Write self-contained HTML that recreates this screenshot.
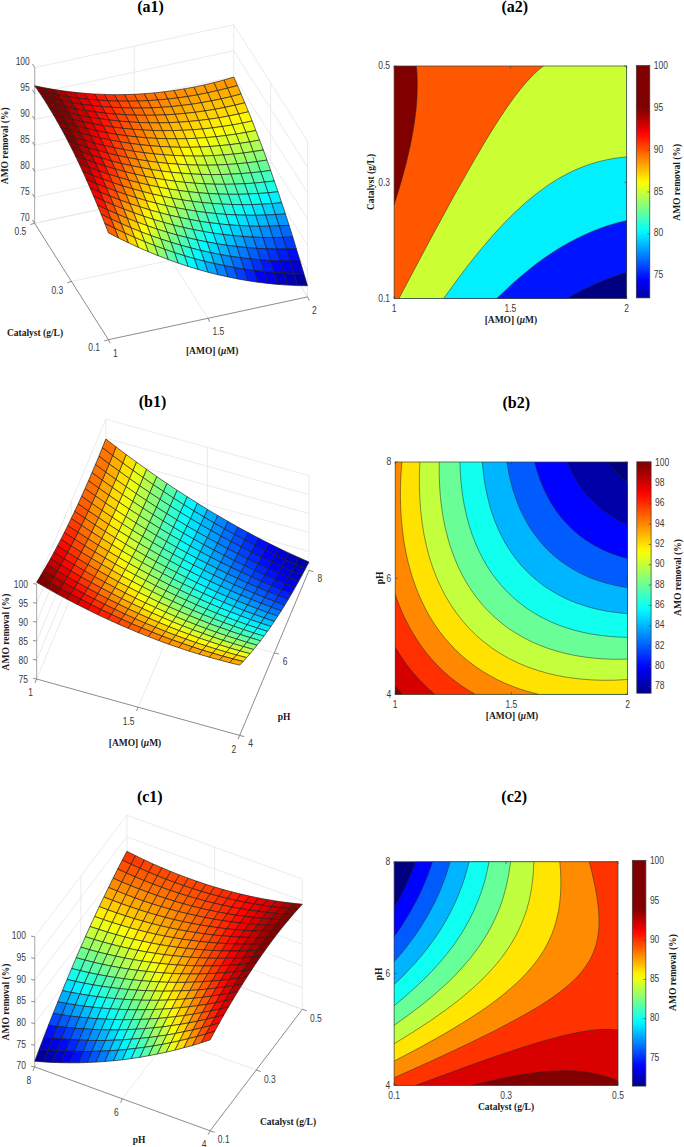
<!DOCTYPE html>
<html><head><meta charset="utf-8"><style>
html,body{margin:0;padding:0;background:#fff;}
svg{display:block;}
.s{font-family:"Liberation Sans",sans-serif;fill:#3a3a3a}
.b{font-family:"Liberation Serif",serif;font-weight:bold;fill:#1a1a1a}
.t{font-family:"Liberation Serif",serif;font-weight:bold;fill:#000}
.e polygon{stroke:#1a1a1a;stroke-width:0.65;stroke-linejoin:round}
</style></head><body>
<svg width="684" height="1147" viewBox="0 0 684 1147">
<rect width="684" height="1147" fill="#fff"/>
<line x1="34.60" y1="223.30" x2="233.70" y2="180.50" stroke="#e3e3e3" stroke-width="0.7"/>
<line x1="233.70" y1="180.50" x2="307.50" y2="296.90" stroke="#e3e3e3" stroke-width="0.7"/>
<line x1="34.62" y1="197.35" x2="233.72" y2="154.55" stroke="#e3e3e3" stroke-width="0.7"/>
<line x1="233.72" y1="154.55" x2="307.52" y2="270.95" stroke="#e3e3e3" stroke-width="0.7"/>
<line x1="34.63" y1="171.40" x2="233.73" y2="128.60" stroke="#e3e3e3" stroke-width="0.7"/>
<line x1="233.73" y1="128.60" x2="307.53" y2="245.00" stroke="#e3e3e3" stroke-width="0.7"/>
<line x1="34.65" y1="145.45" x2="233.75" y2="102.65" stroke="#e3e3e3" stroke-width="0.7"/>
<line x1="233.75" y1="102.65" x2="307.55" y2="219.05" stroke="#e3e3e3" stroke-width="0.7"/>
<line x1="34.67" y1="119.50" x2="233.77" y2="76.70" stroke="#e3e3e3" stroke-width="0.7"/>
<line x1="233.77" y1="76.70" x2="307.57" y2="193.10" stroke="#e3e3e3" stroke-width="0.7"/>
<line x1="34.68" y1="93.55" x2="233.78" y2="50.75" stroke="#e3e3e3" stroke-width="0.7"/>
<line x1="233.78" y1="50.75" x2="307.58" y2="167.15" stroke="#e3e3e3" stroke-width="0.7"/>
<line x1="34.70" y1="67.60" x2="233.80" y2="24.80" stroke="#e3e3e3" stroke-width="0.7"/>
<line x1="233.80" y1="24.80" x2="307.60" y2="141.20" stroke="#e3e3e3" stroke-width="0.7"/>
<line x1="134.15" y1="201.90" x2="134.25" y2="46.20" stroke="#e3e3e3" stroke-width="0.7"/>
<line x1="270.60" y1="238.70" x2="270.70" y2="83.00" stroke="#e3e3e3" stroke-width="0.7"/>
<line x1="233.70" y1="180.50" x2="233.80" y2="24.80" stroke="#e3e3e3" stroke-width="0.7"/>
<line x1="307.50" y1="296.90" x2="307.60" y2="141.20" stroke="#e3e3e3" stroke-width="0.7"/>
<line x1="71.50" y1="281.50" x2="270.60" y2="238.70" stroke="#e3e3e3" stroke-width="0.7"/>
<line x1="207.95" y1="318.30" x2="134.15" y2="201.90" stroke="#e3e3e3" stroke-width="0.7"/>
<line x1="307.50" y1="296.90" x2="233.70" y2="180.50" stroke="#e3e3e3" stroke-width="0.7"/>
<line x1="34.60" y1="223.30" x2="233.70" y2="180.50" stroke="#e3e3e3" stroke-width="0.7"/>
<line x1="34.60" y1="223.30" x2="34.70" y2="67.60" stroke="#b0b0b0" stroke-width="1.1"/>
<line x1="108.40" y1="339.70" x2="34.60" y2="223.30" stroke="#6e6e6e" stroke-width="0.8"/>
<line x1="108.40" y1="339.70" x2="307.50" y2="296.90" stroke="#6e6e6e" stroke-width="0.8"/>
<g class="e">
<polygon points="227.5,88.2 237.5,85.5 233.8,77.1 223.8,80.0" fill="#ff9800"/>
<polygon points="217.5,90.6 227.5,88.2 223.8,80.0 213.9,82.6" fill="#ff9b00"/>
<polygon points="207.6,92.8 217.5,90.6 213.9,82.6 203.9,85.0" fill="#ff9b00"/>
<polygon points="231.2,96.6 241.1,94.0 237.5,85.5 227.5,88.2" fill="#ffad00"/>
<polygon points="197.6,94.8 207.6,92.8 203.9,85.0 193.9,87.1" fill="#ff9a00"/>
<polygon points="221.2,98.9 231.2,96.6 227.5,88.2 217.5,90.6" fill="#ffaf00"/>
<polygon points="211.3,100.9 221.2,98.9 217.5,90.6 207.6,92.8" fill="#ffae00"/>
<polygon points="234.9,105.2 244.8,102.8 241.1,94.0 231.2,96.6" fill="#ffc400"/>
<polygon points="187.7,96.5 197.6,94.8 193.9,87.1 184.0,88.9" fill="#ff9600"/>
<polygon points="224.9,107.4 234.9,105.2 231.2,96.6 221.2,98.9" fill="#ffc400"/>
<polygon points="201.3,102.7 211.3,100.9 207.6,92.8 197.6,94.8" fill="#ffab00"/>
<polygon points="177.7,97.9 187.7,96.5 184.0,88.9 174.0,90.5" fill="#ff9000"/>
<polygon points="238.6,114.0 248.5,111.8 244.8,102.8 234.9,105.2" fill="#ffdd00"/>
<polygon points="215.0,109.3 224.9,107.4 221.2,98.9 211.3,100.9" fill="#ffc200"/>
<polygon points="191.4,104.3 201.3,102.7 197.6,94.8 187.7,96.5" fill="#ffa600"/>
<polygon points="167.8,99.1 177.7,97.9 174.0,90.5 164.1,91.8" fill="#ff8800"/>
<polygon points="228.6,116.0 238.6,114.0 234.9,105.2 224.9,107.4" fill="#ffdc00"/>
<polygon points="205.0,110.9 215.0,109.3 211.3,100.9 201.3,102.7" fill="#ffbe00"/>
<polygon points="181.4,105.5 191.4,104.3 187.7,96.5 177.7,97.9" fill="#ff9f00"/>
<polygon points="242.3,123.1 252.2,121.0 248.5,111.8 238.6,114.0" fill="#fff800"/>
<polygon points="157.8,100.0 167.8,99.1 164.1,91.8 154.1,92.9" fill="#ff7e00"/>
<polygon points="218.7,117.8 228.6,116.0 224.9,107.4 215.0,109.3" fill="#ffd900"/>
<polygon points="195.1,112.3 205.0,110.9 201.3,102.7 191.4,104.3" fill="#ffb800"/>
<polygon points="232.3,125.0 242.3,123.1 238.6,114.0 228.6,116.0" fill="#fff500"/>
<polygon points="171.5,106.6 181.4,105.5 177.7,97.9 167.8,99.1" fill="#ff9600"/>
<polygon points="208.7,119.3 218.7,117.8 215.0,109.3 205.0,110.9" fill="#ffd300"/>
<polygon points="147.9,100.7 157.8,100.0 154.1,92.9 144.2,93.7" fill="#ff7200"/>
<polygon points="245.9,132.4 255.9,130.5 252.2,121.0 242.3,123.1" fill="#eaff15"/>
<polygon points="185.1,113.4 195.1,112.3 191.4,104.3 181.4,105.5" fill="#ffb000"/>
<polygon points="222.3,126.5 232.3,125.0 228.6,116.0 218.7,117.8" fill="#fff100"/>
<polygon points="161.5,107.3 171.5,106.6 167.8,99.1 157.8,100.0" fill="#ff8b00"/>
<polygon points="198.7,120.5 208.7,119.3 205.0,110.9 195.1,112.3" fill="#ffcc00"/>
<polygon points="236.0,134.1 245.9,132.4 242.3,123.1 232.3,125.0" fill="#eeff11"/>
<polygon points="137.9,101.1 147.9,100.7 144.2,93.7 134.2,94.3" fill="#ff6400"/>
<polygon points="175.1,114.3 185.1,113.4 181.4,105.5 171.5,106.6" fill="#ffa500"/>
<polygon points="249.6,141.9 259.6,140.1 255.9,130.5 245.9,132.4" fill="#ccff33"/>
<polygon points="212.4,127.9 222.3,126.5 218.7,117.8 208.7,119.3" fill="#ffea00"/>
<polygon points="151.6,107.9 161.5,107.3 157.8,100.0 147.9,100.7" fill="#ff7d00"/>
<polygon points="226.0,135.5 236.0,134.1 232.3,125.0 222.3,126.5" fill="#f4ff0b"/>
<polygon points="188.8,121.5 198.7,120.5 195.1,112.3 185.1,113.4" fill="#ffc200"/>
<polygon points="239.7,143.4 249.6,141.9 245.9,132.4 236.0,134.1" fill="#d1ff2e"/>
<polygon points="128.0,101.2 137.9,101.1 134.2,94.3 124.3,94.6" fill="#ff5400"/>
<polygon points="202.4,129.0 212.4,127.9 208.7,119.3 198.7,120.5" fill="#ffe100"/>
<polygon points="165.2,114.9 175.1,114.3 171.5,106.6 161.5,107.3" fill="#ff9900"/>
<polygon points="253.3,151.6 263.3,150.0 259.6,140.1 249.6,141.9" fill="#acff53"/>
<polygon points="216.1,136.7 226.0,135.5 222.3,126.5 212.4,127.9" fill="#fbff04"/>
<polygon points="178.8,122.2 188.8,121.5 185.1,113.4 175.1,114.3" fill="#ffb600"/>
<polygon points="141.6,108.1 151.6,107.9 147.9,100.7 137.9,101.1" fill="#ff6e00"/>
<polygon points="229.7,144.7 239.7,143.4 236.0,134.1 226.0,135.5" fill="#d8ff27"/>
<polygon points="192.5,129.8 202.4,129.0 198.7,120.5 188.8,121.5" fill="#ffd600"/>
<polygon points="243.4,153.0 253.3,151.6 249.6,141.9 239.7,143.4" fill="#b2ff4d"/>
<polygon points="155.2,115.2 165.2,114.9 161.5,107.3 151.6,107.9" fill="#ff8a00"/>
<polygon points="118.0,101.1 128.0,101.2 124.3,94.6 114.3,94.7" fill="#ff4100"/>
<polygon points="257.0,161.6 267.0,160.1 263.3,150.0 253.3,151.6" fill="#8aff75"/>
<polygon points="206.1,137.6 216.1,136.7 212.4,127.9 202.4,129.0" fill="#fff900"/>
<polygon points="168.9,122.7 178.8,122.2 175.1,114.3 165.2,114.9" fill="#ffa900"/>
<polygon points="131.6,108.1 141.6,108.1 137.9,101.1 128.0,101.2" fill="#ff5c00"/>
<polygon points="219.8,145.7 229.7,144.7 226.0,135.5 216.1,136.7" fill="#e1ff1e"/>
<polygon points="233.4,154.1 243.4,153.0 239.7,143.4 229.7,144.7" fill="#baff45"/>
<polygon points="182.5,130.3 192.5,129.8 188.8,121.5 178.8,122.2" fill="#ffc900"/>
<polygon points="247.0,162.8 257.0,161.6 253.3,151.6 243.4,153.0" fill="#92ff6d"/>
<polygon points="145.3,115.3 155.2,115.2 151.6,107.9 141.6,108.1" fill="#ff7900"/>
<polygon points="108.0,100.8 118.0,101.1 114.3,94.7 104.4,94.4" fill="#ff2d00"/>
<polygon points="260.7,171.8 270.6,170.4 267.0,160.1 257.0,161.6" fill="#66ff99"/>
<polygon points="196.2,138.3 206.1,137.6 202.4,129.0 192.5,129.8" fill="#ffec00"/>
<polygon points="158.9,122.9 168.9,122.7 165.2,114.9 155.2,115.2" fill="#ff9900"/>
<polygon points="209.8,146.5 219.8,145.7 216.1,136.7 206.1,137.6" fill="#ecff13"/>
<polygon points="121.7,107.8 131.6,108.1 128.0,101.2 118.0,101.1" fill="#ff4900"/>
<polygon points="223.5,155.0 233.4,154.1 229.7,144.7 219.8,145.7" fill="#c5ff3a"/>
<polygon points="172.6,130.6 182.5,130.3 178.8,122.2 168.9,122.7" fill="#ffba00"/>
<polygon points="237.1,163.8 247.0,162.8 243.4,153.0 233.4,154.1" fill="#9bff64"/>
<polygon points="250.7,172.8 260.7,171.8 257.0,161.6 247.0,162.8" fill="#6fff90"/>
<polygon points="264.4,182.1 274.3,181.0 270.6,170.4 260.7,171.8" fill="#41ffbe"/>
<polygon points="135.3,115.2 145.3,115.3 141.6,108.1 131.6,108.1" fill="#ff6700"/>
<polygon points="186.2,138.7 196.2,138.3 192.5,129.8 182.5,130.3" fill="#ffde00"/>
<polygon points="98.1,100.2 108.0,100.8 104.4,94.4 94.4,94.0" fill="#ff1600"/>
<polygon points="199.9,147.0 209.8,146.5 206.1,137.6 196.2,138.3" fill="#faff05"/>
<polygon points="149.0,122.8 158.9,122.9 155.2,115.2 145.3,115.3" fill="#ff8700"/>
<polygon points="213.5,155.6 223.5,155.0 219.8,145.7 209.8,146.5" fill="#d1ff2e"/>
<polygon points="227.1,164.5 237.1,163.8 233.4,154.1 223.5,155.0" fill="#a7ff58"/>
<polygon points="111.7,107.3 121.7,107.8 118.0,101.1 108.0,100.8" fill="#ff3300"/>
<polygon points="162.6,130.7 172.6,130.6 168.9,122.7 158.9,122.9" fill="#ffa900"/>
<polygon points="240.8,173.6 250.7,172.8 247.0,162.8 237.1,163.8" fill="#7aff85"/>
<polygon points="268.1,192.8 278.0,191.7 274.3,181.0 264.4,182.1" fill="#1affe5"/>
<polygon points="254.4,183.1 264.4,182.1 260.7,171.8 250.7,172.8" fill="#4bffb4"/>
<polygon points="176.3,138.8 186.2,138.7 182.5,130.3 172.6,130.6" fill="#ffce00"/>
<polygon points="125.4,114.8 135.3,115.2 131.6,108.1 121.7,107.8" fill="#ff5200"/>
<polygon points="189.9,147.3 199.9,147.0 196.2,138.3 186.2,138.7" fill="#fff500"/>
<polygon points="88.1,99.3 98.1,100.2 94.4,94.0 84.5,93.3" fill="#fd0000"/>
<polygon points="203.5,156.0 213.5,155.6 209.8,146.5 199.9,147.0" fill="#e0ff1f"/>
<polygon points="139.0,122.5 149.0,122.8 145.3,115.3 135.3,115.2" fill="#ff7300"/>
<polygon points="217.2,165.0 227.1,164.5 223.5,155.0 213.5,155.6" fill="#b5ff4a"/>
<polygon points="271.8,203.6 281.7,202.7 278.0,191.7 268.1,192.8" fill="#00f0ff"/>
<polygon points="230.8,174.2 240.8,173.6 237.1,163.8 227.1,164.5" fill="#87ff78"/>
<polygon points="258.1,193.5 268.1,192.8 264.4,182.1 254.4,183.1" fill="#25ffda"/>
<polygon points="244.5,183.7 254.4,183.1 250.7,172.8 240.8,173.6" fill="#57ffa8"/>
<polygon points="152.7,130.5 162.6,130.7 158.9,122.9 149.0,122.8" fill="#ff9600"/>
<polygon points="101.8,106.6 111.7,107.3 108.0,100.8 98.1,100.2" fill="#ff1b00"/>
<polygon points="166.3,138.7 176.3,138.8 172.6,130.6 162.6,130.7" fill="#ffbc00"/>
<polygon points="115.4,114.1 125.4,114.8 121.7,107.8 111.7,107.3" fill="#ff3b00"/>
<polygon points="179.9,147.3 189.9,147.3 186.2,138.7 176.3,138.8" fill="#ffe300"/>
<polygon points="275.4,214.6 285.4,213.9 281.7,202.7 271.8,203.6" fill="#00c5ff"/>
<polygon points="193.6,156.1 203.5,156.0 199.9,147.0 189.9,147.3" fill="#f1ff0e"/>
<polygon points="261.8,204.2 271.8,203.6 268.1,192.8 258.1,193.5" fill="#00fcff"/>
<polygon points="207.2,165.2 217.2,165.0 213.5,155.6 203.5,156.0" fill="#c4ff3b"/>
<polygon points="129.1,121.9 139.0,122.5 135.3,115.2 125.4,114.8" fill="#ff5d00"/>
<polygon points="248.2,194.0 258.1,193.5 254.4,183.1 244.5,183.7" fill="#32ffcd"/>
<polygon points="78.2,98.2 88.1,99.3 84.5,93.3 74.5,92.3" fill="#e20000"/>
<polygon points="220.9,174.5 230.8,174.2 227.1,164.5 217.2,165.0" fill="#96ff69"/>
<polygon points="234.5,184.1 244.5,183.7 240.8,173.6 230.8,174.2" fill="#65ff9a"/>
<polygon points="142.7,130.0 152.7,130.5 149.0,122.8 139.0,122.5" fill="#ff8100"/>
<polygon points="91.8,105.5 101.8,106.6 98.1,100.2 88.1,99.3" fill="#ff0100"/>
<polygon points="279.1,225.9 289.1,225.4 285.4,213.9 275.4,214.6" fill="#0098ff"/>
<polygon points="156.4,138.4 166.3,138.7 162.6,130.7 152.7,130.5" fill="#ffa700"/>
<polygon points="265.5,215.1 275.4,214.6 271.8,203.6 261.8,204.2" fill="#00d3ff"/>
<polygon points="170.0,147.0 179.9,147.3 176.3,138.8 166.3,138.7" fill="#ffd000"/>
<polygon points="105.5,113.2 115.4,114.1 111.7,107.3 101.8,106.6" fill="#ff2200"/>
<polygon points="251.8,204.6 261.8,204.2 258.1,193.5 248.2,194.0" fill="#0cfff3"/>
<polygon points="183.6,155.9 193.6,156.1 189.9,147.3 179.9,147.3" fill="#fffb00"/>
<polygon points="238.2,194.3 248.2,194.0 244.5,183.7 234.5,184.1" fill="#42ffbd"/>
<polygon points="197.3,165.1 207.2,165.2 203.5,156.0 193.6,156.1" fill="#d6ff29"/>
<polygon points="224.6,184.3 234.5,184.1 230.8,174.2 220.9,174.5" fill="#76ff89"/>
<polygon points="210.9,174.6 220.9,174.5 217.2,165.0 207.2,165.2" fill="#a7ff58"/>
<polygon points="282.8,237.4 292.8,237.0 289.1,225.4 279.1,225.9" fill="#006aff"/>
<polygon points="119.1,121.1 129.1,121.9 125.4,114.8 115.4,114.1" fill="#ff4400"/>
<polygon points="68.2,96.8 78.2,98.2 74.5,92.3 64.5,91.1" fill="#c50000"/>
<polygon points="269.2,226.2 279.1,225.9 275.4,214.6 265.5,215.1" fill="#00a7ff"/>
<polygon points="132.8,129.3 142.7,130.0 139.0,122.5 129.1,121.9" fill="#ff6900"/>
<polygon points="255.5,215.3 265.5,215.1 261.8,204.2 251.8,204.6" fill="#00e3ff"/>
<polygon points="146.4,137.8 156.4,138.4 152.7,130.5 142.7,130.0" fill="#ff9100"/>
<polygon points="81.9,104.3 91.8,105.5 88.1,99.3 78.2,98.2" fill="#e40000"/>
<polygon points="286.5,249.1 296.4,248.9 292.8,237.0 282.8,237.4" fill="#003aff"/>
<polygon points="241.9,204.7 251.8,204.6 248.2,194.0 238.2,194.3" fill="#1dffe2"/>
<polygon points="160.0,146.5 170.0,147.0 166.3,138.7 156.4,138.4" fill="#ffba00"/>
<polygon points="228.2,194.3 238.2,194.3 234.5,184.1 224.6,184.3" fill="#53ffac"/>
<polygon points="173.7,155.5 183.6,155.9 179.9,147.3 170.0,147.0" fill="#ffe600"/>
<polygon points="214.6,184.2 224.6,184.3 220.9,174.5 210.9,174.6" fill="#88ff77"/>
<polygon points="187.3,164.8 197.3,165.1 193.6,156.1 183.6,155.9" fill="#eaff15"/>
<polygon points="95.5,112.0 105.5,113.2 101.8,106.6 91.8,105.5" fill="#ff0700"/>
<polygon points="201.0,174.4 210.9,174.6 207.2,165.2 197.3,165.1" fill="#baff45"/>
<polygon points="272.9,237.6 282.8,237.4 279.1,225.9 269.2,226.2" fill="#007aff"/>
<polygon points="290.2,261.1 300.1,261.0 296.4,248.9 286.5,249.1" fill="#0007ff"/>
<polygon points="109.2,120.0 119.1,121.1 115.4,114.1 105.5,113.2" fill="#ff2a00"/>
<polygon points="259.2,226.3 269.2,226.2 265.5,215.1 255.5,215.3" fill="#00b8ff"/>
<polygon points="58.3,95.1 68.2,96.8 64.5,91.1 54.6,89.6" fill="#a60000"/>
<polygon points="122.8,128.3 132.8,129.3 129.1,121.9 119.1,121.1" fill="#ff5000"/>
<polygon points="245.6,215.2 255.5,215.3 251.8,204.6 241.9,204.7" fill="#00f5ff"/>
<polygon points="276.5,249.1 286.5,249.1 282.8,237.4 272.9,237.6" fill="#004bff"/>
<polygon points="136.4,136.9 146.4,137.8 142.7,130.0 132.8,129.3" fill="#ff7800"/>
<polygon points="231.9,204.5 241.9,204.7 238.2,194.3 228.2,194.3" fill="#2fffd0"/>
<polygon points="293.9,273.2 303.8,273.3 300.1,261.0 290.2,261.1" fill="#0000d3"/>
<polygon points="71.9,102.7 81.9,104.3 78.2,98.2 68.2,96.8" fill="#c60000"/>
<polygon points="150.1,145.7 160.0,146.5 156.4,138.4 146.4,137.8" fill="#ffa200"/>
<polygon points="218.3,194.0 228.2,194.3 224.6,184.3 214.6,184.2" fill="#67ff98"/>
<polygon points="163.7,154.8 173.7,155.5 170.0,147.0 160.0,146.5" fill="#ffcf00"/>
<polygon points="204.7,183.8 214.6,184.2 210.9,174.6 201.0,174.4" fill="#9cff63"/>
<polygon points="262.9,237.5 272.9,237.6 269.2,226.2 259.2,226.3" fill="#008cff"/>
<polygon points="177.4,164.2 187.3,164.8 183.6,155.9 173.7,155.5" fill="#fffd00"/>
<polygon points="191.0,173.9 201.0,174.4 197.3,165.1 187.3,164.8" fill="#d0ff2f"/>
<polygon points="85.6,110.6 95.5,112.0 91.8,105.5 81.9,104.3" fill="#e80000"/>
<polygon points="280.2,260.9 290.2,261.1 286.5,249.1 276.5,249.1" fill="#001aff"/>
<polygon points="297.6,285.6 307.5,285.8 303.8,273.3 293.9,273.2" fill="#00009d"/>
<polygon points="249.3,226.1 259.2,226.3 255.5,215.3 245.6,215.2" fill="#00ccff"/>
<polygon points="99.2,118.7 109.2,120.0 105.5,113.2 95.5,112.0" fill="#ff0e00"/>
<polygon points="235.6,214.9 245.6,215.2 241.9,204.7 231.9,204.5" fill="#0afff5"/>
<polygon points="266.6,248.9 276.5,249.1 272.9,237.6 262.9,237.5" fill="#005fff"/>
<polygon points="112.9,127.1 122.8,128.3 119.1,121.1 109.2,120.0" fill="#ff3400"/>
<polygon points="283.9,272.9 293.9,273.2 290.2,261.1 280.2,260.9" fill="#0000e7"/>
<polygon points="48.3,93.2 58.3,95.1 54.6,89.6 44.6,87.8" fill="#850000"/>
<polygon points="222.0,204.1 231.9,204.5 228.2,194.3 218.3,194.0" fill="#44ffbb"/>
<polygon points="126.5,135.8 136.4,136.9 132.8,129.3 122.8,128.3" fill="#ff5d00"/>
<polygon points="208.3,193.5 218.3,194.0 214.6,184.2 204.7,183.8" fill="#7dff82"/>
<polygon points="140.1,144.7 150.1,145.7 146.4,137.8 136.4,136.9" fill="#ff8800"/>
<polygon points="252.9,237.1 262.9,237.5 259.2,226.3 249.3,226.1" fill="#00a1ff"/>
<polygon points="194.7,183.2 204.7,183.8 201.0,174.4 191.0,173.9" fill="#b3ff4c"/>
<polygon points="153.8,153.9 163.7,154.8 160.0,146.5 150.1,145.7" fill="#ffb600"/>
<polygon points="181.1,173.2 191.0,173.9 187.3,164.8 177.4,164.2" fill="#e7ff18"/>
<polygon points="167.4,163.4 177.4,164.2 173.7,155.5 163.7,154.8" fill="#ffe500"/>
<polygon points="62.0,100.9 71.9,102.7 68.2,96.8 58.3,95.1" fill="#a60000"/>
<polygon points="270.3,260.5 280.2,260.9 276.5,249.1 266.6,248.9" fill="#002fff"/>
<polygon points="287.6,285.1 297.6,285.6 293.9,273.2 283.9,272.9" fill="#0000b2"/>
<polygon points="239.3,225.6 249.3,226.1 245.6,215.2 235.6,214.9" fill="#00e1ff"/>
<polygon points="75.6,108.9 85.6,110.6 81.9,104.3 71.9,102.7" fill="#c90000"/>
<polygon points="225.7,214.4 235.6,214.9 231.9,204.5 222.0,204.1" fill="#20ffdf"/>
<polygon points="256.6,248.3 266.6,248.9 262.9,237.5 252.9,237.1" fill="#0074ff"/>
<polygon points="89.3,117.1 99.2,118.7 95.5,112.0 85.6,110.6" fill="#ee0000"/>
<polygon points="274.0,272.3 283.9,272.9 280.2,260.9 270.3,260.5" fill="#0000fd"/>
<polygon points="212.0,203.4 222.0,204.1 218.3,194.0 208.3,193.5" fill="#5bffa4"/>
<polygon points="102.9,125.6 112.9,127.1 109.2,120.0 99.2,118.7" fill="#ff1700"/>
<polygon points="198.4,192.7 208.3,193.5 204.7,183.8 194.7,183.2" fill="#95ff6a"/>
<polygon points="116.5,134.4 126.5,135.8 122.8,128.3 112.9,127.1" fill="#ff4000"/>
<polygon points="243.0,236.5 252.9,237.1 249.3,226.1 239.3,225.6" fill="#00b8ff"/>
<polygon points="38.4,91.1 48.3,93.2 44.6,87.8 34.7,85.8" fill="#800000"/>
<polygon points="184.7,182.3 194.7,183.2 191.0,173.9 181.1,173.2" fill="#ccff33"/>
<polygon points="130.2,143.4 140.1,144.7 136.4,136.9 126.5,135.8" fill="#ff6c00"/>
<polygon points="171.1,172.2 181.1,173.2 177.4,164.2 167.4,163.4" fill="#fffd00"/>
<polygon points="143.8,152.7 153.8,153.9 150.1,145.7 140.1,144.7" fill="#ff9a00"/>
<polygon points="157.5,162.3 167.4,163.4 163.7,154.8 153.8,153.9" fill="#ffcb00"/>
<polygon points="260.3,259.8 270.3,260.5 266.6,248.9 256.6,248.3" fill="#0046ff"/>
<polygon points="277.6,284.4 287.6,285.1 283.9,272.9 274.0,272.3" fill="#0000ca"/>
<polygon points="229.4,224.9 239.3,225.6 235.6,214.9 225.7,214.4" fill="#00f8ff"/>
<polygon points="52.0,98.9 62.0,100.9 58.3,95.1 48.3,93.2" fill="#840000"/>
<polygon points="215.7,213.5 225.7,214.4 222.0,204.1 212.0,203.4" fill="#38ffc7"/>
<polygon points="65.7,106.9 75.6,108.9 71.9,102.7 62.0,100.9" fill="#a70000"/>
<polygon points="246.7,247.6 256.6,248.3 252.9,237.1 243.0,236.5" fill="#008cff"/>
<polygon points="264.0,271.5 274.0,272.3 270.3,260.5 260.3,259.8" fill="#0016ff"/>
<polygon points="202.1,202.5 212.0,203.4 208.3,193.5 198.4,192.7" fill="#74ff8b"/>
<polygon points="79.3,115.3 89.3,117.1 85.6,110.6 75.6,108.9" fill="#cd0000"/>
<polygon points="188.4,191.7 198.4,192.7 194.7,183.2 184.7,182.3" fill="#afff50"/>
<polygon points="92.9,123.9 102.9,125.6 99.2,118.7 89.3,117.1" fill="#f60000"/>
<polygon points="233.0,235.6 243.0,236.5 239.3,225.6 229.4,224.9" fill="#00d0ff"/>
<polygon points="174.8,181.2 184.7,182.3 181.1,173.2 171.1,172.2" fill="#e7ff18"/>
<polygon points="106.6,132.7 116.5,134.4 112.9,127.1 102.9,125.6" fill="#ff2100"/>
<polygon points="161.2,171.0 171.1,172.2 167.4,163.4 157.5,162.3" fill="#ffe200"/>
<polygon points="120.2,141.9 130.2,143.4 126.5,135.8 116.5,134.4" fill="#ff4e00"/>
<polygon points="250.4,258.9 260.3,259.8 256.6,248.3 246.7,247.6" fill="#005fff"/>
<polygon points="147.5,161.0 157.5,162.3 153.8,153.9 143.8,152.7" fill="#ffae00"/>
<polygon points="133.9,151.3 143.8,152.7 140.1,144.7 130.2,143.4" fill="#ff7d00"/>
<polygon points="267.7,283.4 277.6,284.4 274.0,272.3 264.0,271.5" fill="#0000e3"/>
<polygon points="219.4,223.9 229.4,224.9 225.7,214.4 215.7,213.5" fill="#13ffec"/>
<polygon points="42.1,96.6 52.0,98.9 48.3,93.2 38.4,91.1" fill="#800000"/>
<polygon points="205.8,212.5 215.7,213.5 212.0,203.4 202.1,202.5" fill="#52ffad"/>
<polygon points="236.7,246.5 246.7,247.6 243.0,236.5 233.0,235.6" fill="#00a6ff"/>
<polygon points="254.1,270.4 264.0,271.5 260.3,259.8 250.4,258.9" fill="#0030ff"/>
<polygon points="55.7,104.7 65.7,106.9 62.0,100.9 52.0,98.9" fill="#840000"/>
<polygon points="192.1,201.3 202.1,202.5 198.4,192.7 188.4,191.7" fill="#90ff6f"/>
<polygon points="69.4,113.2 79.3,115.3 75.6,108.9 65.7,106.9" fill="#ab0000"/>
<polygon points="178.5,190.4 188.4,191.7 184.7,182.3 174.8,181.2" fill="#cbff34"/>
<polygon points="223.1,234.5 233.0,235.6 229.4,224.9 219.4,223.9" fill="#00ebff"/>
<polygon points="83.0,121.9 92.9,123.9 89.3,117.1 79.3,115.3" fill="#d40000"/>
<polygon points="164.8,179.8 174.8,181.2 171.1,172.2 161.2,171.0" fill="#fffb00"/>
<polygon points="240.4,257.7 250.4,258.9 246.7,247.6 236.7,246.5" fill="#007bff"/>
<polygon points="96.6,130.8 106.6,132.7 102.9,125.6 92.9,123.9" fill="#ff0000"/>
<polygon points="151.2,169.5 161.2,171.0 157.5,162.3 147.5,161.0" fill="#ffc400"/>
<polygon points="257.7,282.2 267.7,283.4 264.0,271.5 254.1,270.4" fill="#0000ff"/>
<polygon points="110.3,140.1 120.2,141.9 116.5,134.4 106.6,132.7" fill="#ff2e00"/>
<polygon points="137.6,159.4 147.5,161.0 143.8,152.7 133.9,151.3" fill="#ff9000"/>
<polygon points="123.9,149.6 133.9,151.3 130.2,143.4 120.2,141.9" fill="#ff5e00"/>
<polygon points="209.4,222.7 219.4,223.9 215.7,213.5 205.8,212.5" fill="#2fffd0"/>
<polygon points="195.8,211.1 205.8,212.5 202.1,202.5 192.1,201.3" fill="#6fff90"/>
<polygon points="226.8,245.3 236.7,246.5 233.0,235.6 223.1,234.5" fill="#00c2ff"/>
<polygon points="244.1,269.1 254.1,270.4 250.4,258.9 240.4,257.7" fill="#004dff"/>
<polygon points="182.2,199.9 192.1,201.3 188.4,191.7 178.5,190.4" fill="#adff52"/>
<polygon points="45.8,102.3 55.7,104.7 52.0,98.9 42.1,96.6" fill="#800000"/>
<polygon points="213.1,233.1 223.1,234.5 219.4,223.9 209.4,222.7" fill="#09fff6"/>
<polygon points="168.5,188.9 178.5,190.4 174.8,181.2 164.8,179.8" fill="#e9ff16"/>
<polygon points="59.4,110.8 69.4,113.2 65.7,106.9 55.7,104.7" fill="#860000"/>
<polygon points="154.9,178.2 164.8,179.8 161.2,171.0 151.2,169.5" fill="#ffdc00"/>
<polygon points="230.5,256.3 240.4,257.7 236.7,246.5 226.8,245.3" fill="#0098ff"/>
<polygon points="73.0,119.6 83.0,121.9 79.3,115.3 69.4,113.2" fill="#b00000"/>
<polygon points="247.8,280.7 257.7,282.2 254.1,270.4 244.1,269.1" fill="#001eff"/>
<polygon points="141.2,167.7 151.2,169.5 147.5,161.0 137.6,159.4" fill="#ffa400"/>
<polygon points="199.5,221.2 209.4,222.7 205.8,212.5 195.8,211.1" fill="#4cffb3"/>
<polygon points="86.7,128.7 96.6,130.8 92.9,123.9 83.0,121.9" fill="#dc0000"/>
<polygon points="127.6,157.6 137.6,159.4 133.9,151.3 123.9,149.6" fill="#ff6f00"/>
<polygon points="100.3,138.0 110.3,140.1 106.6,132.7 96.6,130.8" fill="#ff0c00"/>
<polygon points="114.0,147.7 123.9,149.6 120.2,141.9 110.3,140.1" fill="#ff3c00"/>
<polygon points="185.9,209.5 195.8,211.1 192.1,201.3 182.2,199.9" fill="#8dff72"/>
<polygon points="216.8,243.7 226.8,245.3 223.1,234.5 213.1,233.1" fill="#00e1ff"/>
<polygon points="234.1,267.5 244.1,269.1 240.4,257.7 230.5,256.3" fill="#006cff"/>
<polygon points="172.2,198.2 182.2,199.9 178.5,190.4 168.5,188.9" fill="#ccff33"/>
<polygon points="203.2,231.4 213.1,233.1 209.4,222.7 199.5,221.2" fill="#28ffd7"/>
<polygon points="158.6,187.1 168.5,188.9 164.8,179.8 154.9,178.2" fill="#fff500"/>
<polygon points="144.9,176.3 154.9,178.2 151.2,169.5 141.2,167.7" fill="#ffbb00"/>
<polygon points="220.5,254.6 230.5,256.3 226.8,245.3 216.8,243.7" fill="#00b7ff"/>
<polygon points="49.4,108.2 59.4,110.8 55.7,104.7 45.8,102.3" fill="#800000"/>
<polygon points="237.8,279.0 247.8,280.7 244.1,269.1 234.1,267.5" fill="#003dff"/>
<polygon points="131.3,165.7 141.2,167.7 137.6,159.4 127.6,157.6" fill="#ff8200"/>
<polygon points="189.5,219.4 199.5,221.2 195.8,211.1 185.9,209.5" fill="#6cff93"/>
<polygon points="63.1,117.1 73.0,119.6 69.4,113.2 59.4,110.8" fill="#8a0000"/>
<polygon points="117.7,155.5 127.6,157.6 123.9,149.6 114.0,147.7" fill="#ff4c00"/>
<polygon points="76.7,126.3 86.7,128.7 83.0,121.9 73.0,119.6" fill="#b70000"/>
<polygon points="104.0,145.5 114.0,147.7 110.3,140.1 100.3,138.0" fill="#ff1900"/>
<polygon points="90.4,135.7 100.3,138.0 96.6,130.8 86.7,128.7" fill="#e60000"/>
<polygon points="175.9,207.7 185.9,209.5 182.2,199.9 172.2,198.2" fill="#aeff51"/>
<polygon points="206.9,241.9 216.8,243.7 213.1,233.1 203.2,231.4" fill="#02fffd"/>
<polygon points="224.2,265.6 234.1,267.5 230.5,256.3 220.5,254.6" fill="#008cff"/>
<polygon points="162.3,196.2 172.2,198.2 168.5,188.9 158.6,187.1" fill="#eeff11"/>
<polygon points="193.2,229.5 203.2,231.4 199.5,221.2 189.5,219.4" fill="#49ffb6"/>
<polygon points="148.6,185.0 158.6,187.1 154.9,178.2 144.9,176.3" fill="#ffd300"/>
<polygon points="210.6,252.6 220.5,254.6 216.8,243.7 206.9,241.9" fill="#00d9ff"/>
<polygon points="135.0,174.1 144.9,176.3 141.2,167.7 131.3,165.7" fill="#ff9700"/>
<polygon points="227.9,276.9 237.8,279.0 234.1,267.5 224.2,265.6" fill="#005fff"/>
<polygon points="179.6,217.4 189.5,219.4 185.9,209.5 175.9,207.7" fill="#8eff71"/>
<polygon points="121.3,163.5 131.3,165.7 127.6,157.6 117.7,155.5" fill="#ff5e00"/>
<polygon points="107.7,153.1 117.7,155.5 114.0,147.7 104.0,145.5" fill="#ff2700"/>
<polygon points="53.1,114.3 63.1,117.1 59.4,110.8 49.4,108.2" fill="#800000"/>
<polygon points="94.1,143.0 104.0,145.5 100.3,138.0 90.4,135.7" fill="#f20000"/>
<polygon points="66.8,123.6 76.7,126.3 73.0,119.6 63.1,117.1" fill="#8f0000"/>
<polygon points="80.4,133.2 90.4,135.7 86.7,128.7 76.7,126.3" fill="#c00000"/>
<polygon points="166.0,205.6 175.9,207.7 172.2,198.2 162.3,196.2" fill="#d1ff2e"/>
<polygon points="196.9,239.9 206.9,241.9 203.2,231.4 193.2,229.5" fill="#24ffdb"/>
<polygon points="214.2,263.5 224.2,265.6 220.5,254.6 210.6,252.6" fill="#00afff"/>
<polygon points="152.3,194.0 162.3,196.2 158.6,187.1 148.6,185.0" fill="#ffed00"/>
<polygon points="183.3,227.4 193.2,229.5 189.5,219.4 179.6,217.4" fill="#6cff93"/>
<polygon points="138.7,182.7 148.6,185.0 144.9,176.3 135.0,174.1" fill="#ffae00"/>
<polygon points="200.6,250.4 210.6,252.6 206.9,241.9 196.9,239.9" fill="#00fcff"/>
<polygon points="125.0,171.7 135.0,174.1 131.3,165.7 121.3,163.5" fill="#ff7200"/>
<polygon points="217.9,274.7 227.9,276.9 224.2,265.6 214.2,263.5" fill="#0083ff"/>
<polygon points="169.6,215.2 179.6,217.4 175.9,207.7 166.0,205.6" fill="#b2ff4d"/>
<polygon points="111.4,160.9 121.3,163.5 117.7,155.5 107.7,153.1" fill="#ff3800"/>
<polygon points="97.8,150.5 107.7,153.1 104.0,145.5 94.1,143.0" fill="#ff0100"/>
<polygon points="84.1,140.3 94.1,143.0 90.4,135.7 80.4,133.2" fill="#ca0000"/>
<polygon points="56.8,120.7 66.8,123.6 63.1,117.1 53.1,114.3" fill="#800000"/>
<polygon points="70.5,130.3 80.4,133.2 76.7,126.3 66.8,123.6" fill="#970000"/>
<polygon points="156.0,203.2 166.0,205.6 162.3,196.2 152.3,194.0" fill="#f6ff09"/>
<polygon points="187.0,237.5 196.9,239.9 193.2,229.5 183.3,227.4" fill="#49ffb6"/>
<polygon points="204.3,261.2 214.2,263.5 210.6,252.6 200.6,250.4" fill="#00d4ff"/>
<polygon points="142.4,191.5 152.3,194.0 148.6,185.0 138.7,182.7" fill="#ffc700"/>
<polygon points="173.3,225.0 183.3,227.4 179.6,217.4 169.6,215.2" fill="#92ff6d"/>
<polygon points="128.7,180.2 138.7,182.7 135.0,174.1 125.0,171.7" fill="#ff8800"/>
<polygon points="190.7,247.9 200.6,250.4 196.9,239.9 187.0,237.5" fill="#23ffdc"/>
<polygon points="208.0,272.2 217.9,274.7 214.2,263.5 204.3,261.2" fill="#00aaff"/>
<polygon points="115.1,169.0 125.0,171.7 121.3,163.5 111.4,160.9" fill="#ff4b00"/>
<polygon points="159.7,212.6 169.6,215.2 166.0,205.6 156.0,203.2" fill="#d8ff27"/>
<polygon points="101.4,158.2 111.4,160.9 107.7,153.1 97.8,150.5" fill="#ff1000"/>
<polygon points="87.8,147.6 97.8,150.5 94.1,143.0 84.1,140.3" fill="#d60000"/>
<polygon points="74.2,137.3 84.1,140.3 80.4,133.2 70.5,130.3" fill="#a00000"/>
<polygon points="177.0,235.0 187.0,237.5 183.3,227.4 173.3,225.0" fill="#6fff90"/>
<polygon points="146.0,200.6 156.0,203.2 152.3,194.0 142.4,191.5" fill="#ffe100"/>
<polygon points="60.5,127.3 70.5,130.3 66.8,123.6 56.8,120.7" fill="#800000"/>
<polygon points="194.3,258.6 204.3,261.2 200.6,250.4 190.7,247.9" fill="#00fbff"/>
<polygon points="132.4,188.8 142.4,191.5 138.7,182.7 128.7,180.2" fill="#ff9f00"/>
<polygon points="163.4,222.3 173.3,225.0 169.6,215.2 159.7,212.6" fill="#b9ff46"/>
<polygon points="118.8,177.3 128.7,180.2 125.0,171.7 115.1,169.0" fill="#ff5f00"/>
<polygon points="180.7,245.2 190.7,247.9 187.0,237.5 177.0,235.0" fill="#4bffb4"/>
<polygon points="198.0,269.4 208.0,272.2 204.3,261.2 194.3,258.6" fill="#00d2ff"/>
<polygon points="105.1,166.1 115.1,169.0 111.4,160.9 101.4,158.2" fill="#ff2100"/>
<polygon points="149.7,209.9 159.7,212.6 156.0,203.2 146.0,200.6" fill="#fffe00"/>
<polygon points="91.5,155.2 101.4,158.2 97.8,150.5 87.8,147.6" fill="#e50000"/>
<polygon points="77.8,144.5 87.8,147.6 84.1,140.3 74.2,137.3" fill="#ab0000"/>
<polygon points="167.1,232.2 177.0,235.0 173.3,225.0 163.4,222.3" fill="#98ff67"/>
<polygon points="136.1,197.7 146.0,200.6 142.4,191.5 132.4,188.8" fill="#ffb800"/>
<polygon points="64.2,134.1 74.2,137.3 70.5,130.3 60.5,127.3" fill="#800000"/>
<polygon points="184.4,255.7 194.3,258.6 190.7,247.9 180.7,245.2" fill="#25ffda"/>
<polygon points="122.5,185.9 132.4,188.8 128.7,180.2 118.8,177.3" fill="#ff7500"/>
<polygon points="153.4,219.4 163.4,222.3 159.7,212.6 149.7,209.9" fill="#e2ff1d"/>
<polygon points="108.8,174.3 118.8,177.3 115.1,169.0 105.1,166.1" fill="#ff3400"/>
<polygon points="170.8,242.2 180.7,245.2 177.0,235.0 167.1,232.2" fill="#75ff8a"/>
<polygon points="188.1,266.4 198.0,269.4 194.3,258.6 184.4,255.7" fill="#00fcff"/>
<polygon points="95.2,162.9 105.1,166.1 101.4,158.2 91.5,155.2" fill="#f50000"/>
<polygon points="139.8,206.8 149.7,209.9 146.0,200.6 136.1,197.7" fill="#ffd300"/>
<polygon points="81.5,151.9 91.5,155.2 87.8,147.6 77.8,144.5" fill="#b80000"/>
<polygon points="67.9,141.1 77.8,144.5 74.2,137.3 64.2,134.1" fill="#800000"/>
<polygon points="157.1,229.1 167.1,232.2 163.4,222.3 153.4,219.4" fill="#c3ff3c"/>
<polygon points="126.1,194.6 136.1,197.7 132.4,188.8 122.5,185.9" fill="#ff8d00"/>
<polygon points="174.4,252.6 184.4,255.7 180.7,245.2 170.8,242.2" fill="#50ffaf"/>
<polygon points="112.5,182.6 122.5,185.9 118.8,177.3 108.8,174.3" fill="#ff4900"/>
<polygon points="143.5,216.2 153.4,219.4 149.7,209.9 139.8,206.8" fill="#fff000"/>
<polygon points="98.9,170.9 108.8,174.3 105.1,166.1 95.2,162.9" fill="#ff0700"/>
<polygon points="160.8,239.0 170.8,242.2 167.1,232.2 157.1,229.1" fill="#a1ff5e"/>
<polygon points="178.1,263.1 188.1,266.4 184.4,255.7 174.4,252.6" fill="#2affd5"/>
<polygon points="129.8,203.6 139.8,206.8 136.1,197.7 126.1,194.6" fill="#ffa700"/>
<polygon points="85.2,159.5 95.2,162.9 91.5,155.2 81.5,151.9" fill="#c70000"/>
<polygon points="71.6,148.3 81.5,151.9 77.8,144.5 67.9,141.1" fill="#8a0000"/>
<polygon points="147.2,225.7 157.1,229.1 153.4,219.4 143.5,216.2" fill="#efff10"/>
<polygon points="116.2,191.2 126.1,194.6 122.5,185.9 112.5,182.6" fill="#ff6000"/>
<polygon points="164.5,249.2 174.4,252.6 170.8,242.2 160.8,239.0" fill="#7dff82"/>
<polygon points="102.6,179.1 112.5,182.6 108.8,174.3 98.9,170.9" fill="#ff1b00"/>
<polygon points="133.5,212.7 143.5,216.2 139.8,206.8 129.8,203.6" fill="#ffc200"/>
<polygon points="88.9,167.3 98.9,170.9 95.2,162.9 85.2,159.5" fill="#d80000"/>
<polygon points="150.8,235.5 160.8,239.0 157.1,229.1 147.2,225.7" fill="#cfff30"/>
<polygon points="168.2,259.5 178.1,263.1 174.4,252.6 164.5,249.2" fill="#58ffa7"/>
<polygon points="119.9,200.0 129.8,203.6 126.1,194.6 116.2,191.2" fill="#ff7800"/>
<polygon points="75.3,155.8 85.2,159.5 81.5,151.9 71.6,148.3" fill="#970000"/>
<polygon points="137.2,222.1 147.2,225.7 143.5,216.2 133.5,212.7" fill="#ffe000"/>
<polygon points="106.2,187.6 116.2,191.2 112.5,182.6 102.6,179.1" fill="#ff3000"/>
<polygon points="154.5,245.5 164.5,249.2 160.8,239.0 150.8,235.5" fill="#adff52"/>
<polygon points="92.6,175.4 102.6,179.1 98.9,170.9 88.9,167.3" fill="#ea0000"/>
<polygon points="123.6,209.0 133.5,212.7 129.8,203.6 119.9,200.0" fill="#ff9300"/>
<polygon points="79.0,163.5 88.9,167.3 85.2,159.5 75.3,155.8" fill="#a60000"/>
<polygon points="140.9,231.8 150.8,235.5 147.2,225.7 137.2,222.1" fill="#ffff00"/>
<polygon points="158.2,255.7 168.2,259.5 164.5,249.2 154.5,245.5" fill="#89ff76"/>
<polygon points="109.9,196.2 119.9,200.0 116.2,191.2 106.2,187.6" fill="#ff4800"/>
<polygon points="127.3,218.3 137.2,222.1 133.5,212.7 123.6,209.0" fill="#ffaf00"/>
<polygon points="96.3,183.7 106.2,187.6 102.6,179.1 92.6,175.4" fill="#fe0000"/>
<polygon points="144.6,241.6 154.5,245.5 150.8,235.5 140.9,231.8" fill="#deff21"/>
<polygon points="82.7,171.4 92.6,175.4 88.9,167.3 79.0,163.5" fill="#b80000"/>
<polygon points="113.6,205.1 123.6,209.0 119.9,200.0 109.9,196.2" fill="#ff6100"/>
<polygon points="130.9,227.8 140.9,231.8 137.2,222.1 127.3,218.3" fill="#ffcd00"/>
<polygon points="148.3,251.7 158.2,255.7 154.5,245.5 144.6,241.6" fill="#bbff44"/>
<polygon points="100.0,192.2 109.9,196.2 106.2,187.6 96.3,183.7" fill="#ff1500"/>
<polygon points="117.3,214.2 127.3,218.3 123.6,209.0 113.6,205.1" fill="#ff7c00"/>
<polygon points="86.3,179.5 96.3,183.7 92.6,175.4 82.7,171.4" fill="#ca0000"/>
<polygon points="134.6,237.5 144.6,241.6 140.9,231.8 130.9,227.8" fill="#ffec00"/>
<polygon points="103.7,200.9 113.6,205.1 109.9,196.2 100.0,192.2" fill="#ff2d00"/>
<polygon points="121.0,223.5 130.9,227.8 127.3,218.3 117.3,214.2" fill="#ff9800"/>
<polygon points="138.3,247.4 148.3,251.7 144.6,241.6 134.6,237.5" fill="#f0ff0f"/>
<polygon points="90.0,187.9 100.0,192.2 96.3,183.7 86.3,179.5" fill="#df0000"/>
<polygon points="107.4,209.8 117.3,214.2 113.6,205.1 103.7,200.9" fill="#ff4600"/>
<polygon points="124.7,233.0 134.6,237.5 130.9,227.8 121.0,223.5" fill="#ffb700"/>
<polygon points="93.7,196.4 103.7,200.9 100.0,192.2 90.0,187.9" fill="#f60000"/>
<polygon points="111.0,219.0 121.0,223.5 117.3,214.2 107.4,209.8" fill="#ff6200"/>
<polygon points="128.4,242.8 138.3,247.4 134.6,237.5 124.7,233.0" fill="#ffd700"/>
<polygon points="97.4,205.2 107.4,209.8 103.7,200.9 93.7,196.4" fill="#ff0f00"/>
<polygon points="114.7,228.4 124.7,233.0 121.0,223.5 111.0,219.0" fill="#ff7f00"/>
<polygon points="101.1,214.2 111.0,219.0 107.4,209.8 97.4,205.2" fill="#ff2900"/>
<polygon points="118.4,238.0 128.4,242.8 124.7,233.0 114.7,228.4" fill="#ff9e00"/>
<polygon points="104.8,223.5 114.7,228.4 111.0,219.0 101.1,214.2" fill="#ff4500"/>
<polygon points="108.5,232.9 118.4,238.0 114.7,228.4 104.8,223.5" fill="#ff6300"/>
</g>
<line x1="34.60" y1="223.30" x2="32.40" y2="219.80" stroke="#6e6e6e" stroke-width="0.8"/>
<text transform="translate(29.7 220.7) scale(0.85 1)" font-size="10" text-anchor="end" class="s">70</text>
<line x1="34.62" y1="197.35" x2="32.42" y2="193.85" stroke="#6e6e6e" stroke-width="0.8"/>
<text transform="translate(29.7 194.7) scale(0.85 1)" font-size="10" text-anchor="end" class="s">75</text>
<line x1="34.63" y1="171.40" x2="32.43" y2="167.90" stroke="#6e6e6e" stroke-width="0.8"/>
<text transform="translate(29.7 168.8) scale(0.85 1)" font-size="10" text-anchor="end" class="s">80</text>
<line x1="34.65" y1="145.45" x2="32.45" y2="141.95" stroke="#6e6e6e" stroke-width="0.8"/>
<text transform="translate(29.8 142.8) scale(0.85 1)" font-size="10" text-anchor="end" class="s">85</text>
<line x1="34.67" y1="119.50" x2="32.47" y2="116.00" stroke="#6e6e6e" stroke-width="0.8"/>
<text transform="translate(29.8 116.9) scale(0.85 1)" font-size="10" text-anchor="end" class="s">90</text>
<line x1="34.68" y1="93.55" x2="32.48" y2="90.05" stroke="#6e6e6e" stroke-width="0.8"/>
<text transform="translate(29.8 90.9) scale(0.85 1)" font-size="10" text-anchor="end" class="s">95</text>
<line x1="34.70" y1="67.60" x2="32.50" y2="64.10" stroke="#6e6e6e" stroke-width="0.8"/>
<text transform="translate(29.8 65.0) scale(0.85 1)" font-size="10" text-anchor="end" class="s">100</text>
<line x1="34.60" y1="223.30" x2="30.40" y2="224.50" stroke="#6e6e6e" stroke-width="0.8"/>
<text transform="translate(26.3 235.3) scale(0.85 1)" font-size="10" text-anchor="end" class="s">0.5</text>
<line x1="71.50" y1="281.50" x2="67.30" y2="282.70" stroke="#6e6e6e" stroke-width="0.8"/>
<text transform="translate(63.2 293.5) scale(0.85 1)" font-size="10" text-anchor="end" class="s">0.3</text>
<line x1="108.40" y1="339.70" x2="104.20" y2="340.90" stroke="#6e6e6e" stroke-width="0.8"/>
<text transform="translate(100.1 350.7) scale(0.85 1)" font-size="10" text-anchor="end" class="s">0.1</text>
<line x1="108.40" y1="339.70" x2="110.20" y2="343.30" stroke="#6e6e6e" stroke-width="0.8"/>
<text transform="translate(113.0 356.7) scale(0.85 1)" font-size="10" text-anchor="start" class="s">1</text>
<line x1="207.95" y1="318.30" x2="209.75" y2="321.90" stroke="#6e6e6e" stroke-width="0.8"/>
<text transform="translate(212.5 335.3) scale(0.85 1)" font-size="10" text-anchor="start" class="s">1.5</text>
<line x1="307.50" y1="296.90" x2="309.30" y2="300.50" stroke="#6e6e6e" stroke-width="0.8"/>
<text transform="translate(312.1 313.9) scale(0.85 1)" font-size="10" text-anchor="start" class="s">2</text>
<text transform="translate(7.7 145.8) rotate(-90)" font-size="9.5" text-anchor="middle" class="b">AMO removal (%)</text>
<text x="35.0" y="336.3" font-size="9.5" text-anchor="middle" class="b">Catalyst (g/L)</text>
<text x="212.2" y="354.4" font-size="9.5" text-anchor="middle" class="b">[AMO] (<tspan font-style="italic">μ</tspan>M)</text>
<text x="150.5" y="11.5" font-size="16" text-anchor="middle" class="t">(a1)</text>
<line x1="105.90" y1="514.00" x2="309.00" y2="570.40" stroke="#e3e3e3" stroke-width="0.7"/>
<line x1="36.60" y1="679.00" x2="105.90" y2="514.00" stroke="#e3e3e3" stroke-width="0.7"/>
<line x1="105.90" y1="495.04" x2="309.00" y2="551.44" stroke="#e3e3e3" stroke-width="0.7"/>
<line x1="36.60" y1="660.04" x2="105.90" y2="495.04" stroke="#e3e3e3" stroke-width="0.7"/>
<line x1="105.90" y1="476.08" x2="309.00" y2="532.48" stroke="#e3e3e3" stroke-width="0.7"/>
<line x1="36.60" y1="641.08" x2="105.90" y2="476.08" stroke="#e3e3e3" stroke-width="0.7"/>
<line x1="105.90" y1="457.12" x2="309.00" y2="513.52" stroke="#e3e3e3" stroke-width="0.7"/>
<line x1="36.60" y1="622.12" x2="105.90" y2="457.12" stroke="#e3e3e3" stroke-width="0.7"/>
<line x1="105.90" y1="438.16" x2="309.00" y2="494.56" stroke="#e3e3e3" stroke-width="0.7"/>
<line x1="36.60" y1="603.16" x2="105.90" y2="438.16" stroke="#e3e3e3" stroke-width="0.7"/>
<line x1="105.90" y1="419.20" x2="309.00" y2="475.60" stroke="#e3e3e3" stroke-width="0.7"/>
<line x1="36.60" y1="584.20" x2="105.90" y2="419.20" stroke="#e3e3e3" stroke-width="0.7"/>
<line x1="207.45" y1="542.20" x2="207.45" y2="447.40" stroke="#e3e3e3" stroke-width="0.7"/>
<line x1="309.00" y1="570.40" x2="309.00" y2="475.60" stroke="#e3e3e3" stroke-width="0.7"/>
<line x1="105.90" y1="514.00" x2="105.90" y2="419.20" stroke="#e3e3e3" stroke-width="0.7"/>
<line x1="71.25" y1="596.50" x2="71.25" y2="501.70" stroke="#e3e3e3" stroke-width="0.7"/>
<line x1="71.25" y1="596.50" x2="274.35" y2="652.90" stroke="#e3e3e3" stroke-width="0.7"/>
<line x1="138.15" y1="707.20" x2="207.45" y2="542.20" stroke="#e3e3e3" stroke-width="0.7"/>
<line x1="105.90" y1="514.00" x2="309.00" y2="570.40" stroke="#e3e3e3" stroke-width="0.7"/>
<line x1="36.60" y1="679.00" x2="36.60" y2="584.20" stroke="#b0b0b0" stroke-width="1.1"/>
<line x1="36.60" y1="679.00" x2="239.70" y2="735.40" stroke="#6e6e6e" stroke-width="0.8"/>
<line x1="239.70" y1="735.40" x2="309.00" y2="570.40" stroke="#6e6e6e" stroke-width="0.8"/>
<g class="e">
<polygon points="295.4,564.3 305.5,568.6 309.0,562.0 298.8,557.5" fill="#0000aa"/>
<polygon points="285.2,559.7 295.4,564.3 298.8,557.5 288.7,552.9" fill="#0000be"/>
<polygon points="275.1,555.0 285.2,559.7 288.7,552.9 278.5,548.1" fill="#0000d4"/>
<polygon points="264.9,550.1 275.1,555.0 278.5,548.1 268.4,543.1" fill="#0000ec"/>
<polygon points="291.9,570.9 302.1,575.1 305.5,568.6 295.4,564.3" fill="#0000bd"/>
<polygon points="254.8,545.0 264.9,550.1 268.4,543.1 258.2,537.9" fill="#0008ff"/>
<polygon points="281.8,566.4 291.9,570.9 295.4,564.3 285.2,559.7" fill="#0000d0"/>
<polygon points="271.6,561.8 281.8,566.4 285.2,559.7 275.1,555.0" fill="#0000e5"/>
<polygon points="244.6,539.8 254.8,545.0 258.2,537.9 248.1,532.5" fill="#0024ff"/>
<polygon points="261.4,557.0 271.6,561.8 275.1,555.0 264.9,550.1" fill="#0000fc"/>
<polygon points="234.5,534.4 244.6,539.8 248.1,532.5 237.9,527.0" fill="#0042ff"/>
<polygon points="251.3,552.0 261.4,557.0 264.9,550.1 254.8,545.0" fill="#0016ff"/>
<polygon points="288.5,577.3 298.6,581.4 302.1,575.1 291.9,570.9" fill="#0000d2"/>
<polygon points="278.3,572.9 288.5,577.3 291.9,570.9 281.8,566.4" fill="#0000e4"/>
<polygon points="241.1,546.9 251.3,552.0 254.8,545.0 244.6,539.8" fill="#0032ff"/>
<polygon points="224.3,528.8 234.5,534.4 237.9,527.0 227.8,521.3" fill="#0063ff"/>
<polygon points="268.1,568.4 278.3,572.9 281.8,566.4 271.6,561.8" fill="#0000f8"/>
<polygon points="258.0,563.7 268.1,568.4 271.6,561.8 261.4,557.0" fill="#000fff"/>
<polygon points="231.0,541.5 241.1,546.9 244.6,539.8 234.5,534.4" fill="#004fff"/>
<polygon points="214.1,523.0 224.3,528.8 227.8,521.3 217.6,515.4" fill="#0086ff"/>
<polygon points="247.8,558.9 258.0,563.7 261.4,557.0 251.3,552.0" fill="#0027ff"/>
<polygon points="285.0,583.6 295.1,587.6 298.6,581.4 288.5,577.3" fill="#0000e9"/>
<polygon points="220.8,536.0 231.0,541.5 234.5,534.4 224.3,528.8" fill="#006eff"/>
<polygon points="274.8,579.3 285.0,583.6 288.5,577.3 278.3,572.9" fill="#0000fa"/>
<polygon points="237.7,553.8 247.8,558.9 251.3,552.0 241.1,546.9" fill="#0041ff"/>
<polygon points="264.7,574.9 274.8,579.3 278.3,572.9 268.1,568.4" fill="#000eff"/>
<polygon points="204.0,517.0 214.1,523.0 217.6,515.4 207.4,509.4" fill="#00aaff"/>
<polygon points="227.5,548.6 237.7,553.8 241.1,546.9 231.0,541.5" fill="#005dff"/>
<polygon points="254.5,570.3 264.7,574.9 268.1,568.4 258.0,563.7" fill="#0023ff"/>
<polygon points="210.7,530.4 220.8,536.0 224.3,528.8 214.1,523.0" fill="#0090ff"/>
<polygon points="244.4,565.5 254.5,570.3 258.0,563.7 247.8,558.9" fill="#0039ff"/>
<polygon points="193.8,510.9 204.0,517.0 207.4,509.4 197.3,503.1" fill="#00d1ff"/>
<polygon points="217.4,543.2 227.5,548.6 231.0,541.5 220.8,536.0" fill="#007bff"/>
<polygon points="200.5,524.5 210.7,530.4 214.1,523.0 204.0,517.0" fill="#00b3ff"/>
<polygon points="234.2,560.6 244.4,565.5 247.8,558.9 237.7,553.8" fill="#0052ff"/>
<polygon points="281.5,589.7 291.7,593.6 295.1,587.6 285.0,583.6" fill="#0003ff"/>
<polygon points="271.4,585.5 281.5,589.7 285.0,583.6 274.8,579.3" fill="#0013ff"/>
<polygon points="261.2,581.2 271.4,585.5 274.8,579.3 264.7,574.9" fill="#0024ff"/>
<polygon points="207.2,537.6 217.4,543.2 220.8,536.0 210.7,530.4" fill="#009cff"/>
<polygon points="224.1,555.5 234.2,560.6 237.7,553.8 227.5,548.6" fill="#006dff"/>
<polygon points="183.7,504.6 193.8,510.9 197.3,503.1 187.1,496.7" fill="#00faff"/>
<polygon points="251.1,576.7 261.2,581.2 264.7,574.9 254.5,570.3" fill="#0038ff"/>
<polygon points="190.4,518.5 200.5,524.5 204.0,517.0 193.8,510.9" fill="#00d9ff"/>
<polygon points="240.9,572.0 251.1,576.7 254.5,570.3 244.4,565.5" fill="#004eff"/>
<polygon points="213.9,550.2 224.1,555.5 227.5,548.6 217.4,543.2" fill="#008aff"/>
<polygon points="197.1,531.8 207.2,537.6 210.7,530.4 200.5,524.5" fill="#00beff"/>
<polygon points="230.7,567.2 240.9,572.0 244.4,565.5 234.2,560.6" fill="#0065ff"/>
<polygon points="173.5,498.1 183.7,504.6 187.1,496.7 177.0,490.2" fill="#26ffd9"/>
<polygon points="278.1,595.6 288.2,599.5 291.7,593.6 281.5,589.7" fill="#001eff"/>
<polygon points="203.7,544.7 213.9,550.2 217.4,543.2 207.2,537.6" fill="#00a9ff"/>
<polygon points="180.2,512.3 190.4,518.5 193.8,510.9 183.7,504.6" fill="#01fffe"/>
<polygon points="267.9,591.6 278.1,595.6 281.5,589.7 271.4,585.5" fill="#002cff"/>
<polygon points="220.6,562.2 230.7,567.2 234.2,560.6 224.1,555.5" fill="#007fff"/>
<polygon points="186.9,525.9 197.1,531.8 200.5,524.5 190.4,518.5" fill="#00e2ff"/>
<polygon points="257.7,587.4 267.9,591.6 271.4,585.5 261.2,581.2" fill="#003dff"/>
<polygon points="247.6,583.0 257.7,587.4 261.2,581.2 251.1,576.7" fill="#004fff"/>
<polygon points="193.6,539.0 203.7,544.7 207.2,537.6 197.1,531.8" fill="#00cbff"/>
<polygon points="210.4,557.0 220.6,562.2 224.1,555.5 213.9,550.2" fill="#009bff"/>
<polygon points="237.4,578.4 247.6,583.0 251.1,576.7 240.9,572.0" fill="#0064ff"/>
<polygon points="170.1,505.9 180.2,512.3 183.7,504.6 173.5,498.1" fill="#2bffd4"/>
<polygon points="163.4,491.4 173.5,498.1 177.0,490.2 166.8,483.4" fill="#53ffac"/>
<polygon points="176.7,519.8 186.9,525.9 190.4,518.5 180.2,512.3" fill="#0afff5"/>
<polygon points="227.3,573.7 237.4,578.4 240.9,572.0 230.7,567.2" fill="#007aff"/>
<polygon points="200.3,551.6 210.4,557.0 213.9,550.2 203.7,544.7" fill="#00b9ff"/>
<polygon points="183.4,533.2 193.6,539.0 197.1,531.8 186.9,525.9" fill="#00eeff"/>
<polygon points="217.1,568.7 227.3,573.7 230.7,567.2 220.6,562.2" fill="#0093ff"/>
<polygon points="274.6,601.4 284.7,605.2 288.2,599.5 278.1,595.6" fill="#003bff"/>
<polygon points="264.4,597.5 274.6,601.4 278.1,595.6 267.9,591.6" fill="#0048ff"/>
<polygon points="254.3,593.4 264.4,597.5 267.9,591.6 257.7,587.4" fill="#0057ff"/>
<polygon points="159.9,499.3 170.1,505.9 173.5,498.1 163.4,491.4" fill="#57ffa8"/>
<polygon points="190.1,546.0 200.3,551.6 203.7,544.7 193.6,539.0" fill="#00d9ff"/>
<polygon points="166.6,513.5 176.7,519.8 180.2,512.3 170.1,505.9" fill="#32ffcd"/>
<polygon points="153.2,484.6 163.4,491.4 166.8,483.4 156.7,476.5" fill="#82ff7d"/>
<polygon points="244.1,589.1 254.3,593.4 257.7,587.4 247.6,583.0" fill="#0068ff"/>
<polygon points="207.0,563.6 217.1,568.7 220.6,562.2 210.4,557.0" fill="#00aeff"/>
<polygon points="173.3,527.2 183.4,533.2 186.9,525.9 176.7,519.8" fill="#14ffeb"/>
<polygon points="234.0,584.6 244.1,589.1 247.6,583.0 237.4,578.4" fill="#007cff"/>
<polygon points="196.8,558.4 207.0,563.6 210.4,557.0 200.3,551.6" fill="#00caff"/>
<polygon points="180.0,540.3 190.1,546.0 193.6,539.0 183.4,533.2" fill="#00fbff"/>
<polygon points="223.8,580.0 234.0,584.6 237.4,578.4 227.3,573.7" fill="#0091ff"/>
<polygon points="156.4,507.1 166.6,513.5 170.1,505.9 159.9,499.3" fill="#5dffa2"/>
<polygon points="149.7,492.6 159.9,499.3 163.4,491.4 153.2,484.6" fill="#85ff7a"/>
<polygon points="213.7,575.1 223.8,580.0 227.3,573.7 217.1,568.7" fill="#00a8ff"/>
<polygon points="163.1,521.0 173.3,527.2 176.7,519.8 166.6,513.5" fill="#3bffc4"/>
<polygon points="143.1,477.6 153.2,484.6 156.7,476.5 146.5,469.3" fill="#b3ff4c"/>
<polygon points="186.7,552.9 196.8,558.4 200.3,551.6 190.1,546.0" fill="#00e9ff"/>
<polygon points="271.1,607.1 281.3,610.8 284.7,605.2 274.6,601.4" fill="#0059ff"/>
<polygon points="169.8,534.4 180.0,540.3 183.4,533.2 173.3,527.2" fill="#20ffdf"/>
<polygon points="261.0,603.2 271.1,607.1 274.6,601.4 264.4,597.5" fill="#0065ff"/>
<polygon points="203.5,570.1 213.7,575.1 217.1,568.7 207.0,563.6" fill="#00c2ff"/>
<polygon points="250.8,599.2 261.0,603.2 264.4,597.5 254.3,593.4" fill="#0073ff"/>
<polygon points="240.7,595.0 250.8,599.2 254.3,593.4 244.1,589.1" fill="#0083ff"/>
<polygon points="176.5,547.3 186.7,552.9 190.1,546.0 180.0,540.3" fill="#0bfff4"/>
<polygon points="230.5,590.7 240.7,595.0 244.1,589.1 234.0,584.6" fill="#0095ff"/>
<polygon points="146.3,500.4 156.4,507.1 159.9,499.3 149.7,492.6" fill="#8aff75"/>
<polygon points="153.0,514.6 163.1,521.0 166.6,513.5 156.4,507.1" fill="#65ff9a"/>
<polygon points="193.4,565.0 203.5,570.1 207.0,563.6 196.8,558.4" fill="#00deff"/>
<polygon points="139.6,485.7 149.7,492.6 153.2,484.6 143.1,477.6" fill="#b5ff4a"/>
<polygon points="159.7,528.3 169.8,534.4 173.3,527.2 163.1,521.0" fill="#46ffb9"/>
<polygon points="220.4,586.1 230.5,590.7 234.0,584.6 223.8,580.0" fill="#00aaff"/>
<polygon points="132.9,470.4 143.1,477.6 146.5,469.3 136.4,462.0" fill="#e6ff19"/>
<polygon points="210.2,581.4 220.4,586.1 223.8,580.0 213.7,575.1" fill="#00c0ff"/>
<polygon points="183.2,559.6 193.4,565.0 196.8,558.4 186.7,552.9" fill="#00fbff"/>
<polygon points="166.4,541.5 176.5,547.3 180.0,540.3 169.8,534.4" fill="#2effd1"/>
<polygon points="142.8,508.1 153.0,514.6 156.4,507.1 146.3,500.4" fill="#90ff6f"/>
<polygon points="200.0,576.5 210.2,581.4 213.7,575.1 203.5,570.1" fill="#00d8ff"/>
<polygon points="136.1,493.6 146.3,500.4 149.7,492.6 139.6,485.7" fill="#b8ff47"/>
<polygon points="149.5,522.0 159.7,528.3 163.1,521.0 153.0,514.6" fill="#6fff90"/>
<polygon points="267.7,612.6 277.8,616.1 281.3,610.8 271.1,607.1" fill="#0079ff"/>
<polygon points="257.5,608.8 267.7,612.6 271.1,607.1 261.0,603.2" fill="#0084ff"/>
<polygon points="247.4,604.9 257.5,608.8 261.0,603.2 250.8,599.2" fill="#0091ff"/>
<polygon points="173.0,554.1 183.2,559.6 186.7,552.9 176.5,547.3" fill="#1cffe3"/>
<polygon points="129.4,478.6 139.6,485.7 143.1,477.6 132.9,470.4" fill="#e7ff18"/>
<polygon points="237.2,600.8 247.4,604.9 250.8,599.2 240.7,595.0" fill="#00a0ff"/>
<polygon points="156.2,535.5 166.4,541.5 169.8,534.4 159.7,528.3" fill="#53ffac"/>
<polygon points="189.9,571.4 200.0,576.5 203.5,570.1 193.4,565.0" fill="#00f3ff"/>
<polygon points="227.0,596.6 237.2,600.8 240.7,595.0 230.5,590.7" fill="#00b1ff"/>
<polygon points="122.7,463.0 132.9,470.4 136.4,462.0 126.2,454.6" fill="#ffe300"/>
<polygon points="216.9,592.1 227.0,596.6 230.5,590.7 220.4,586.1" fill="#00c4ff"/>
<polygon points="162.9,548.4 173.0,554.1 176.5,547.3 166.4,541.5" fill="#3effc1"/>
<polygon points="132.7,501.4 142.8,508.1 146.3,500.4 136.1,493.6" fill="#beff41"/>
<polygon points="179.7,566.2 189.9,571.4 193.4,565.0 183.2,559.6" fill="#10ffef"/>
<polygon points="139.3,515.6 149.5,522.0 153.0,514.6 142.8,508.1" fill="#99ff66"/>
<polygon points="206.7,587.5 216.9,592.1 220.4,586.1 210.2,581.4" fill="#00d9ff"/>
<polygon points="126.0,486.6 136.1,493.6 139.6,485.7 129.4,478.6" fill="#e9ff16"/>
<polygon points="146.0,529.3 156.2,535.5 159.7,528.3 149.5,522.0" fill="#7aff85"/>
<polygon points="119.3,471.3 129.4,478.6 132.9,470.4 122.7,463.0" fill="#ffe300"/>
<polygon points="196.6,582.7 206.7,587.5 210.2,581.4 200.0,576.5" fill="#00f0ff"/>
<polygon points="169.6,560.7 179.7,566.2 183.2,559.6 173.0,554.1" fill="#2fffd0"/>
<polygon points="152.7,542.5 162.9,548.4 166.4,541.5 156.2,535.5" fill="#62ff9d"/>
<polygon points="254.0,614.3 264.2,617.9 267.7,612.6 257.5,608.8" fill="#00a5ff"/>
<polygon points="264.2,617.9 274.3,621.4 277.8,616.1 267.7,612.6" fill="#009cff"/>
<polygon points="186.4,577.7 196.6,582.7 200.0,576.5 189.9,571.4" fill="#0bfff4"/>
<polygon points="112.6,455.5 122.7,463.0 126.2,454.6 116.1,446.9" fill="#ffac00"/>
<polygon points="243.9,610.5 254.0,614.3 257.5,608.8 247.4,604.9" fill="#00b1ff"/>
<polygon points="129.2,509.0 139.3,515.6 142.8,508.1 132.7,501.4" fill="#c5ff3a"/>
<polygon points="233.7,606.5 243.9,610.5 247.4,604.9 237.2,600.8" fill="#00bfff"/>
<polygon points="122.5,494.5 132.7,501.4 136.1,493.6 126.0,486.6" fill="#eeff11"/>
<polygon points="135.9,523.0 146.0,529.3 149.5,522.0 139.3,515.6" fill="#a3ff5c"/>
<polygon points="223.6,602.3 233.7,606.5 237.2,600.8 227.0,596.6" fill="#00ceff"/>
<polygon points="159.4,555.1 169.6,560.7 173.0,554.1 162.9,548.4" fill="#4fffb0"/>
<polygon points="115.8,479.4 126.0,486.6 129.4,478.6 119.3,471.3" fill="#ffe200"/>
<polygon points="176.3,572.5 186.4,577.7 189.9,571.4 179.7,566.2" fill="#26ffd9"/>
<polygon points="213.4,597.9 223.6,602.3 227.0,596.6 216.9,592.1" fill="#00e0ff"/>
<polygon points="142.6,536.4 152.7,542.5 156.2,535.5 146.0,529.3" fill="#88ff77"/>
<polygon points="109.1,463.9 119.3,471.3 122.7,463.0 112.6,455.5" fill="#ffad00"/>
<polygon points="203.3,593.4 213.4,597.9 216.9,592.1 206.7,587.5" fill="#00f4ff"/>
<polygon points="149.3,549.3 159.4,555.1 162.9,548.4 152.7,542.5" fill="#72ff8d"/>
<polygon points="166.1,567.2 176.3,572.5 179.7,566.2 169.6,560.7" fill="#43ffbc"/>
<polygon points="119.0,502.2 129.2,509.0 132.7,501.4 122.5,494.5" fill="#f4ff0b"/>
<polygon points="193.1,588.7 203.3,593.4 206.7,587.5 196.6,582.7" fill="#0bfff4"/>
<polygon points="125.7,516.5 135.9,523.0 139.3,515.6 129.2,509.0" fill="#ceff31"/>
<polygon points="112.3,487.4 122.5,494.5 126.0,486.6 115.8,479.4" fill="#ffdf00"/>
<polygon points="132.4,530.2 142.6,536.4 146.0,529.3 135.9,523.0" fill="#afff50"/>
<polygon points="102.4,447.7 112.6,455.5 116.1,446.9 105.9,439.1" fill="#ff7200"/>
<polygon points="183.0,583.8 193.1,588.7 196.6,582.7 186.4,577.7" fill="#23ffdc"/>
<polygon points="105.7,472.1 115.8,479.4 119.3,471.3 109.1,463.9" fill="#ffad00"/>
<polygon points="156.0,561.7 166.1,567.2 169.6,560.7 159.4,555.1" fill="#63ff9c"/>
<polygon points="139.1,543.4 149.3,549.3 152.7,542.5 142.6,536.4" fill="#97ff68"/>
<polygon points="250.6,619.6 260.7,623.1 264.2,617.9 254.0,614.3" fill="#00c8ff"/>
<polygon points="240.4,615.8 250.6,619.6 254.0,614.3 243.9,610.5" fill="#00d2ff"/>
<polygon points="260.7,623.1 270.9,626.5 274.3,621.4 264.2,617.9" fill="#00bfff"/>
<polygon points="230.3,611.9 240.4,615.8 243.9,610.5 233.7,606.5" fill="#00dfff"/>
<polygon points="172.8,578.8 183.0,583.8 186.4,577.7 176.3,572.5" fill="#3dffc2"/>
<polygon points="220.1,607.9 230.3,611.9 233.7,606.5 223.6,602.3" fill="#00eeff"/>
<polygon points="99.0,456.2 109.1,463.9 112.6,455.5 102.4,447.7" fill="#ff7500"/>
<polygon points="115.6,509.8 125.7,516.5 129.2,509.0 119.0,502.2" fill="#fcff03"/>
<polygon points="210.0,603.6 220.1,607.9 223.6,602.3 213.4,597.9" fill="#00feff"/>
<polygon points="108.9,495.2 119.0,502.2 122.5,494.5 112.3,487.4" fill="#ffda00"/>
<polygon points="122.3,523.8 132.4,530.2 135.9,523.0 125.7,516.5" fill="#daff25"/>
<polygon points="145.8,556.0 156.0,561.7 159.4,555.1 149.3,549.3" fill="#84ff7b"/>
<polygon points="199.8,599.2 210.0,603.6 213.4,597.9 203.3,593.4" fill="#12ffed"/>
<polygon points="102.2,480.2 112.3,487.4 115.8,479.4 105.7,472.1" fill="#ffab00"/>
<polygon points="162.6,573.5 172.8,578.8 176.3,572.5 166.1,567.2" fill="#5affa5"/>
<polygon points="129.0,537.2 139.1,543.4 142.6,536.4 132.4,530.2" fill="#beff41"/>
<polygon points="189.6,594.6 199.8,599.2 203.3,593.4 193.1,588.7" fill="#27ffd8"/>
<polygon points="95.5,464.6 105.7,472.1 109.1,463.9 99.0,456.2" fill="#ff7600"/>
<polygon points="135.6,550.2 145.8,556.0 149.3,549.3 139.1,543.4" fill="#a8ff57"/>
<polygon points="152.5,568.1 162.6,573.5 166.1,567.2 156.0,561.7" fill="#78ff87"/>
<polygon points="179.5,589.8 189.6,594.6 193.1,588.7 183.0,583.8" fill="#3effc1"/>
<polygon points="105.4,502.9 115.6,509.8 119.0,502.2 108.9,495.2" fill="#ffd300"/>
<polygon points="112.1,517.2 122.3,523.8 125.7,516.5 115.6,509.8" fill="#fff800"/>
<polygon points="98.7,488.1 108.9,495.2 112.3,487.4 102.2,480.2" fill="#ffa700"/>
<polygon points="118.8,530.9 129.0,537.2 132.4,530.2 122.3,523.8" fill="#e6ff19"/>
<polygon points="169.3,584.9 179.5,589.8 183.0,583.8 172.8,578.8" fill="#57ffa8"/>
<polygon points="237.0,621.1 247.1,624.7 250.6,619.6 240.4,615.8" fill="#00f6ff"/>
<polygon points="247.1,624.7 257.3,628.1 260.7,623.1 250.6,619.6" fill="#00ecff"/>
<polygon points="226.8,617.3 237.0,621.1 240.4,615.8 230.3,611.9" fill="#02fffd"/>
<polygon points="142.3,562.6 152.5,568.1 156.0,561.7 145.8,556.0" fill="#98ff67"/>
<polygon points="92.0,472.7 102.2,480.2 105.7,472.1 95.5,464.6" fill="#ff7500"/>
<polygon points="257.3,628.1 267.4,631.4 270.9,626.5 260.7,623.1" fill="#00e5ff"/>
<polygon points="216.6,613.3 226.8,617.3 230.3,611.9 220.1,607.9" fill="#10ffef"/>
<polygon points="125.5,544.1 135.6,550.2 139.1,543.4 129.0,537.2" fill="#cdff32"/>
<polygon points="206.5,609.1 216.6,613.3 220.1,607.9 210.0,603.6" fill="#1fffe0"/>
<polygon points="159.2,579.7 169.3,584.9 172.8,578.8 162.6,573.5" fill="#72ff8d"/>
<polygon points="196.3,604.8 206.5,609.1 210.0,603.6 199.8,599.2" fill="#31ffce"/>
<polygon points="102.0,510.4 112.1,517.2 115.6,509.8 105.4,502.9" fill="#ffca00"/>
<polygon points="95.3,495.8 105.4,502.9 108.9,495.2 98.7,488.1" fill="#ffa100"/>
<polygon points="186.2,600.3 196.3,604.8 199.8,599.2 189.6,594.6" fill="#44ffbb"/>
<polygon points="108.6,524.4 118.8,530.9 122.3,523.8 112.1,517.2" fill="#ffed00"/>
<polygon points="132.2,556.8 142.3,562.6 145.8,556.0 135.6,550.2" fill="#bbff44"/>
<polygon points="149.0,574.4 159.2,579.7 162.6,573.5 152.5,568.1" fill="#8fff70"/>
<polygon points="88.6,480.8 98.7,488.1 102.2,480.2 92.0,472.7" fill="#ff7200"/>
<polygon points="115.3,537.9 125.5,544.1 129.0,537.2 118.8,530.9" fill="#f5ff0a"/>
<polygon points="176.0,595.6 186.2,600.3 189.6,594.6 179.5,589.8" fill="#5affa5"/>
<polygon points="165.9,590.8 176.0,595.6 179.5,589.8 169.3,584.9" fill="#72ff8d"/>
<polygon points="138.9,568.9 149.0,574.4 152.5,568.1 142.3,562.6" fill="#aeff51"/>
<polygon points="122.0,550.9 132.2,556.8 135.6,550.2 125.5,544.1" fill="#dfff20"/>
<polygon points="91.8,503.5 102.0,510.4 105.4,502.9 95.3,495.8" fill="#ff9a00"/>
<polygon points="98.5,517.7 108.6,524.4 112.1,517.2 102.0,510.4" fill="#ffc000"/>
<polygon points="233.5,626.1 243.6,629.6 247.1,624.7 237.0,621.1" fill="#1cffe3"/>
<polygon points="223.3,622.4 233.5,626.1 237.0,621.1 226.8,617.3" fill="#26ffd9"/>
<polygon points="85.1,488.6 95.3,495.8 98.7,488.1 88.6,480.8" fill="#ff6e00"/>
<polygon points="243.6,629.6 253.8,633.0 257.3,628.1 247.1,624.7" fill="#14ffeb"/>
<polygon points="213.2,618.6 223.3,622.4 226.8,617.3 216.6,613.3" fill="#33ffcc"/>
<polygon points="155.7,585.8 165.9,590.8 169.3,584.9 159.2,579.7" fill="#8cff73"/>
<polygon points="105.2,531.5 115.3,537.9 118.8,530.9 108.6,524.4" fill="#ffdf00"/>
<polygon points="253.8,633.0 264.0,636.1 267.4,631.4 257.3,628.1" fill="#0efff1"/>
<polygon points="203.0,614.5 213.2,618.6 216.6,613.3 206.5,609.1" fill="#41ffbe"/>
<polygon points="128.7,563.3 138.9,568.9 142.3,562.6 132.2,556.8" fill="#cfff30"/>
<polygon points="192.9,610.3 203.0,614.5 206.5,609.1 196.3,604.8" fill="#51ffae"/>
<polygon points="111.9,544.7 122.0,550.9 125.5,544.1 115.3,537.9" fill="#fff800"/>
<polygon points="145.6,580.5 155.7,585.8 159.2,579.7 149.0,574.4" fill="#a8ff57"/>
<polygon points="182.7,605.9 192.9,610.3 196.3,604.8 186.2,600.3" fill="#64ff9b"/>
<polygon points="172.6,601.3 182.7,605.9 186.2,600.3 176.0,595.6" fill="#78ff87"/>
<polygon points="88.3,510.9 98.5,517.7 102.0,510.4 91.8,503.5" fill="#ff9100"/>
<polygon points="118.6,557.4 128.7,563.3 132.2,556.8 122.0,550.9" fill="#f3ff0c"/>
<polygon points="81.6,496.3 91.8,503.5 95.3,495.8 85.1,488.6" fill="#ff6800"/>
<polygon points="95.0,524.9 105.2,531.5 108.6,524.4 98.5,517.7" fill="#ffb300"/>
<polygon points="135.4,575.2 145.6,580.5 149.0,574.4 138.9,568.9" fill="#c6ff39"/>
<polygon points="162.4,596.6 172.6,601.3 176.0,595.6 165.9,590.8" fill="#8fff70"/>
<polygon points="101.7,538.4 111.9,544.7 115.3,537.9 105.2,531.5" fill="#ffd000"/>
<polygon points="152.2,591.6 162.4,596.6 165.9,590.8 155.7,585.8" fill="#a8ff57"/>
<polygon points="125.2,569.6 135.4,575.2 138.9,568.9 128.7,563.3" fill="#e6ff19"/>
<polygon points="108.4,551.4 118.6,557.4 122.0,550.9 111.9,544.7" fill="#ffe600"/>
<polygon points="219.9,627.4 230.0,631.0 233.5,626.1 223.3,622.4" fill="#4cffb3"/>
<polygon points="209.7,623.7 219.9,627.4 223.3,622.4 213.2,618.6" fill="#57ffa8"/>
<polygon points="230.0,631.0 240.2,634.5 243.6,629.6 233.5,626.1" fill="#43ffbc"/>
<polygon points="199.6,619.7 209.7,623.7 213.2,618.6 203.0,614.5" fill="#64ff9b"/>
<polygon points="240.2,634.5 250.3,637.7 253.8,633.0 243.6,629.6" fill="#3cffc3"/>
<polygon points="78.2,503.9 88.3,510.9 91.8,503.5 81.6,496.3" fill="#ff5f00"/>
<polygon points="84.9,518.2 95.0,524.9 98.5,517.7 88.3,510.9" fill="#ff8500"/>
<polygon points="142.1,586.5 152.2,591.6 155.7,585.8 145.6,580.5" fill="#c2ff3d"/>
<polygon points="189.4,615.6 199.6,619.7 203.0,614.5 192.9,610.3" fill="#74ff8b"/>
<polygon points="250.3,637.7 260.5,640.8 264.0,636.1 253.8,633.0" fill="#37ffc8"/>
<polygon points="91.6,532.0 101.7,538.4 105.2,531.5 95.0,524.9" fill="#ffa500"/>
<polygon points="179.2,611.3 189.4,615.6 192.9,610.3 182.7,605.9" fill="#85ff7a"/>
<polygon points="115.1,563.9 125.2,569.6 128.7,563.3 118.6,557.4" fill="#fff600"/>
<polygon points="169.1,606.8 179.2,611.3 182.7,605.9 172.6,601.3" fill="#98ff67"/>
<polygon points="98.2,545.2 108.4,551.4 111.9,544.7 101.7,538.4" fill="#ffbf00"/>
<polygon points="131.9,581.2 142.1,586.5 145.6,580.5 135.4,575.2" fill="#dfff20"/>
<polygon points="158.9,602.2 169.1,606.8 172.6,601.3 162.4,596.6" fill="#aeff51"/>
<polygon points="74.7,511.3 84.9,518.2 88.3,510.9 78.2,503.9" fill="#ff5500"/>
<polygon points="104.9,557.9 115.1,563.9 118.6,557.4 108.4,551.4" fill="#ffd200"/>
<polygon points="81.4,525.3 91.6,532.0 95.0,524.9 84.9,518.2" fill="#ff7800"/>
<polygon points="121.8,575.8 131.9,581.2 135.4,575.2 125.2,569.6" fill="#feff01"/>
<polygon points="148.8,597.3 158.9,602.2 162.4,596.6 152.2,591.6" fill="#c5ff3a"/>
<polygon points="88.1,538.9 98.2,545.2 101.7,538.4 91.6,532.0" fill="#ff9500"/>
<polygon points="138.6,592.3 148.8,597.3 152.2,591.6 142.1,586.5" fill="#dfff20"/>
<polygon points="206.2,628.6 216.4,632.3 219.9,627.4 209.7,623.7" fill="#7eff81"/>
<polygon points="216.4,632.3 226.6,635.8 230.0,631.0 219.9,627.4" fill="#74ff8b"/>
<polygon points="196.1,624.8 206.2,628.6 209.7,623.7 199.6,619.7" fill="#8aff75"/>
<polygon points="226.6,635.8 236.7,639.1 240.2,634.5 230.0,631.0" fill="#6cff93"/>
<polygon points="111.6,570.1 121.8,575.8 125.2,569.6 115.1,563.9" fill="#ffdf00"/>
<polygon points="185.9,620.8 196.1,624.8 199.6,619.7 189.4,615.6" fill="#98ff67"/>
<polygon points="94.8,551.9 104.9,557.9 108.4,551.4 98.2,545.2" fill="#ffac00"/>
<polygon points="236.7,639.1 246.9,642.3 250.3,637.7 240.2,634.5" fill="#66ff99"/>
<polygon points="175.8,616.6 185.9,620.8 189.4,615.6 179.2,611.3" fill="#a8ff57"/>
<polygon points="246.9,642.3 257.0,645.2 260.5,640.8 250.3,637.7" fill="#62ff9d"/>
<polygon points="128.5,587.1 138.6,592.3 142.1,586.5 131.9,581.2" fill="#fbff04"/>
<polygon points="71.2,518.5 81.4,525.3 84.9,518.2 74.7,511.3" fill="#ff4a00"/>
<polygon points="165.6,612.2 175.8,616.6 179.2,611.3 169.1,606.8" fill="#baff45"/>
<polygon points="77.9,532.3 88.1,538.9 91.6,532.0 81.4,525.3" fill="#ff6a00"/>
<polygon points="101.5,564.3 111.6,570.1 115.1,563.9 104.9,557.9" fill="#ffbc00"/>
<polygon points="155.5,607.6 165.6,612.2 169.1,606.8 158.9,602.2" fill="#cfff30"/>
<polygon points="118.3,581.8 128.5,587.1 131.9,581.2 121.8,575.8" fill="#ffe600"/>
<polygon points="84.6,545.6 94.8,551.9 98.2,545.2 88.1,538.9" fill="#ff8300"/>
<polygon points="145.3,602.9 155.5,607.6 158.9,602.2 148.8,597.3" fill="#e5ff1a"/>
<polygon points="91.3,558.3 101.5,564.3 104.9,557.9 94.8,551.9" fill="#ff9700"/>
<polygon points="135.2,598.0 145.3,602.9 148.8,597.3 138.6,592.3" fill="#fdff02"/>
<polygon points="108.2,576.2 118.3,581.8 121.8,575.8 111.6,570.1" fill="#ffc600"/>
<polygon points="67.8,525.6 77.9,532.3 81.4,525.3 71.2,518.5" fill="#ff3c00"/>
<polygon points="74.5,539.1 84.6,545.6 88.1,538.9 77.9,532.3" fill="#ff5900"/>
<polygon points="202.8,633.4 212.9,637.0 216.4,632.3 206.2,628.6" fill="#a6ff59"/>
<polygon points="192.6,629.7 202.8,633.4 206.2,628.6 196.1,624.8" fill="#b1ff4e"/>
<polygon points="212.9,637.0 223.1,640.4 226.6,635.8 216.4,632.3" fill="#9dff62"/>
<polygon points="182.5,625.8 192.6,629.7 196.1,624.8 185.9,620.8" fill="#beff41"/>
<polygon points="125.0,592.9 135.2,598.0 138.6,592.3 128.5,587.1" fill="#ffe600"/>
<polygon points="223.1,640.4 233.2,643.6 236.7,639.1 226.6,635.8" fill="#97ff68"/>
<polygon points="172.3,621.7 182.5,625.8 185.9,620.8 175.8,616.6" fill="#cdff32"/>
<polygon points="233.2,643.6 243.4,646.6 246.9,642.3 236.7,639.1" fill="#92ff6d"/>
<polygon points="98.0,570.5 108.2,576.2 111.6,570.1 101.5,564.3" fill="#ffa400"/>
<polygon points="162.2,617.4 172.3,621.7 175.8,616.6 165.6,612.2" fill="#deff21"/>
<polygon points="81.2,552.2 91.3,558.3 94.8,551.9 84.6,545.6" fill="#ff7000"/>
<polygon points="243.4,646.6 253.6,649.5 257.0,645.2 246.9,642.3" fill="#8fff70"/>
<polygon points="114.9,587.6 125.0,592.9 128.5,587.1 118.3,581.8" fill="#ffca00"/>
<polygon points="152.0,612.9 162.2,617.4 165.6,612.2 155.5,607.6" fill="#f1ff0e"/>
<polygon points="64.3,532.5 74.5,539.1 77.9,532.3 67.8,525.6" fill="#ff2c00"/>
<polygon points="141.9,608.3 152.0,612.9 155.5,607.6 145.3,602.9" fill="#fff800"/>
<polygon points="87.9,564.6 98.0,570.5 101.5,564.3 91.3,558.3" fill="#ff8000"/>
<polygon points="104.7,582.2 114.9,587.6 118.3,581.8 108.2,576.2" fill="#ffab00"/>
<polygon points="71.0,545.8 81.2,552.2 84.6,545.6 74.5,539.1" fill="#ff4600"/>
<polygon points="131.7,603.5 141.9,608.3 145.3,602.9 135.2,598.0" fill="#ffe100"/>
<polygon points="121.5,598.5 131.7,603.5 135.2,598.0 125.0,592.9" fill="#ffc700"/>
<polygon points="77.7,558.6 87.9,564.6 91.3,558.3 81.2,552.2" fill="#ff5a00"/>
<polygon points="94.5,576.6 104.7,582.2 108.2,576.2 98.0,570.5" fill="#ff8a00"/>
<polygon points="189.2,634.4 199.3,638.1 202.8,633.4 192.6,629.7" fill="#daff25"/>
<polygon points="199.3,638.1 209.5,641.5 212.9,637.0 202.8,633.4" fill="#d0ff2f"/>
<polygon points="179.0,630.6 189.2,634.4 192.6,629.7 182.5,625.8" fill="#e6ff19"/>
<polygon points="209.5,641.5 219.6,644.8 223.1,640.4 212.9,637.0" fill="#c9ff36"/>
<polygon points="168.9,626.6 179.0,630.6 182.5,625.8 172.3,621.7" fill="#f4ff0b"/>
<polygon points="219.6,644.8 229.8,648.0 233.2,643.6 223.1,640.4" fill="#c3ff3c"/>
<polygon points="60.9,539.3 71.0,545.8 74.5,539.1 64.3,532.5" fill="#ff1b00"/>
<polygon points="111.4,593.3 121.5,598.5 125.0,592.9 114.9,587.6" fill="#ffac00"/>
<polygon points="158.7,622.4 168.9,626.6 172.3,621.7 162.2,617.4" fill="#fffb00"/>
<polygon points="229.8,648.0 239.9,650.9 243.4,646.6 233.2,643.6" fill="#c0ff3f"/>
<polygon points="148.5,618.1 158.7,622.4 162.2,617.4 152.0,612.9" fill="#ffe900"/>
<polygon points="84.4,570.8 94.5,576.6 98.0,570.5 87.9,564.6" fill="#ff6800"/>
<polygon points="239.9,650.9 250.1,653.7 253.6,649.5 243.4,646.6" fill="#beff41"/>
<polygon points="67.5,552.3 77.7,558.6 81.2,552.2 71.0,545.8" fill="#ff3200"/>
<polygon points="138.4,613.5 148.5,618.1 152.0,612.9 141.9,608.3" fill="#ffd500"/>
<polygon points="101.2,588.0 111.4,593.3 114.9,587.6 104.7,582.2" fill="#ff8e00"/>
<polygon points="128.2,608.8 138.4,613.5 141.9,608.3 131.7,603.5" fill="#ffbf00"/>
<polygon points="74.2,564.8 84.4,570.8 87.9,564.6 77.7,558.6" fill="#ff4300"/>
<polygon points="91.1,582.5 101.2,588.0 104.7,582.2 94.5,576.6" fill="#ff6f00"/>
<polygon points="118.1,603.9 128.2,608.8 131.7,603.5 121.5,598.5" fill="#ffa600"/>
<polygon points="57.4,545.9 67.5,552.3 71.0,545.8 60.9,539.3" fill="#ff0800"/>
<polygon points="107.9,598.9 118.1,603.9 121.5,598.5 111.4,593.3" fill="#ff8c00"/>
<polygon points="185.7,639.0 195.9,642.6 199.3,638.1 189.2,634.4" fill="#fff900"/>
<polygon points="175.5,635.3 185.7,639.0 189.2,634.4 179.0,630.6" fill="#ffef00"/>
<polygon points="195.9,642.6 206.0,645.9 209.5,641.5 199.3,638.1" fill="#fcff03"/>
<polygon points="165.4,631.4 175.5,635.3 179.0,630.6 168.9,626.6" fill="#ffe200"/>
<polygon points="80.9,576.8 91.1,582.5 94.5,576.6 84.4,570.8" fill="#ff4d00"/>
<polygon points="64.1,558.7 74.2,564.8 77.7,558.6 67.5,552.3" fill="#ff1c00"/>
<polygon points="206.0,645.9 216.2,649.1 219.6,644.8 209.5,641.5" fill="#f6ff09"/>
<polygon points="155.2,627.3 165.4,631.4 168.9,626.6 158.7,622.4" fill="#ffd300"/>
<polygon points="216.2,649.1 226.3,652.1 229.8,648.0 219.6,644.8" fill="#f2ff0d"/>
<polygon points="145.1,623.1 155.2,627.3 158.7,622.4 148.5,618.1" fill="#ffc200"/>
<polygon points="97.8,593.6 107.9,598.9 111.4,593.3 101.2,588.0" fill="#ff7000"/>
<polygon points="226.3,652.1 236.5,655.0 239.9,650.9 229.8,648.0" fill="#efff10"/>
<polygon points="134.9,618.6 145.1,623.1 148.5,618.1 138.4,613.5" fill="#ffb000"/>
<polygon points="70.8,570.9 80.9,576.8 84.4,570.8 74.2,564.8" fill="#ff2a00"/>
<polygon points="236.5,655.0 246.6,657.6 250.1,653.7 239.9,650.9" fill="#efff10"/>
<polygon points="124.8,614.0 134.9,618.6 138.4,613.5 128.2,608.8" fill="#ff9b00"/>
<polygon points="53.9,552.4 64.1,558.7 67.5,552.3 57.4,545.9" fill="#f20000"/>
<polygon points="87.6,588.2 97.8,593.6 101.2,588.0 91.1,582.5" fill="#ff5200"/>
<polygon points="114.6,609.2 124.8,614.0 128.2,608.8 118.1,603.9" fill="#ff8400"/>
<polygon points="60.6,564.9 70.8,570.9 74.2,564.8 64.1,558.7" fill="#ff0400"/>
<polygon points="77.5,582.6 87.6,588.2 91.1,582.5 80.9,576.8" fill="#ff3100"/>
<polygon points="104.5,604.3 114.6,609.2 118.1,603.9 107.9,598.9" fill="#ff6b00"/>
<polygon points="172.1,639.8 182.2,643.4 185.7,639.0 175.5,635.3" fill="#ffc300"/>
<polygon points="182.2,643.4 192.4,646.9 195.9,642.6 185.7,639.0" fill="#ffcc00"/>
<polygon points="161.9,636.0 172.1,639.8 175.5,635.3 165.4,631.4" fill="#ffb800"/>
<polygon points="192.4,646.9 202.5,650.2 206.0,645.9 195.9,642.6" fill="#ffd400"/>
<polygon points="151.8,632.0 161.9,636.0 165.4,631.4 155.2,627.3" fill="#ffaa00"/>
<polygon points="94.3,599.1 104.5,604.3 107.9,598.9 97.8,593.6" fill="#ff5000"/>
<polygon points="202.5,650.2 212.7,653.2 216.2,649.1 206.0,645.9" fill="#ffd900"/>
<polygon points="141.6,627.9 151.8,632.0 155.2,627.3 145.1,623.1" fill="#ff9a00"/>
<polygon points="67.3,576.9 77.5,582.6 80.9,576.8 70.8,570.9" fill="#ff0f00"/>
<polygon points="50.5,558.7 60.6,564.9 64.1,558.7 53.9,552.4" fill="#db0000"/>
<polygon points="212.7,653.2 222.9,656.2 226.3,652.1 216.2,649.1" fill="#ffdc00"/>
<polygon points="131.5,623.6 141.6,627.9 145.1,623.1 134.9,618.6" fill="#ff8900"/>
<polygon points="222.9,656.2 233.0,658.9 236.5,655.0 226.3,652.1" fill="#ffdd00"/>
<polygon points="84.2,593.8 94.3,599.1 97.8,593.6 87.6,588.2" fill="#ff3200"/>
<polygon points="121.3,619.0 131.5,623.6 134.9,618.6 124.8,614.0" fill="#ff7500"/>
<polygon points="233.0,658.9 243.2,661.5 246.6,657.6 236.5,655.0" fill="#ffdc00"/>
<polygon points="57.2,570.9 67.3,576.9 70.8,570.9 60.6,564.9" fill="#e90000"/>
<polygon points="111.2,614.4 121.3,619.0 124.8,614.0 114.6,609.2" fill="#ff5f00"/>
<polygon points="74.0,588.3 84.2,593.8 87.6,588.2 77.5,582.6" fill="#ff1300"/>
<polygon points="101.0,609.5 111.2,614.4 114.6,609.2 104.5,604.3" fill="#ff4700"/>
<polygon points="47.0,564.8 57.2,570.9 60.6,564.9 50.5,558.7" fill="#c30000"/>
<polygon points="90.8,604.5 101.0,609.5 104.5,604.3 94.3,599.1" fill="#ff2d00"/>
<polygon points="63.8,582.7 74.0,588.3 77.5,582.6 67.3,576.9" fill="#f10000"/>
<polygon points="168.6,644.2 178.8,647.7 182.2,643.4 172.1,639.8" fill="#ff9600"/>
<polygon points="158.5,640.5 168.6,644.2 172.1,639.8 161.9,636.0" fill="#ff8b00"/>
<polygon points="178.8,647.7 188.9,651.1 192.4,646.9 182.2,643.4" fill="#ff9e00"/>
<polygon points="148.3,636.6 158.5,640.5 161.9,636.0 151.8,632.0" fill="#ff7f00"/>
<polygon points="188.9,651.1 199.1,654.2 202.5,650.2 192.4,646.9" fill="#ffa400"/>
<polygon points="138.2,632.6 148.3,636.6 151.8,632.0 141.6,627.9" fill="#ff7100"/>
<polygon points="199.1,654.2 209.2,657.2 212.7,653.2 202.5,650.2" fill="#ffa800"/>
<polygon points="80.7,599.2 90.8,604.5 94.3,599.1 84.2,593.8" fill="#ff1100"/>
<polygon points="128.0,628.3 138.2,632.6 141.6,627.9 131.5,623.6" fill="#ff6000"/>
<polygon points="209.2,657.2 219.4,660.0 222.9,656.2 212.7,653.2" fill="#ffaa00"/>
<polygon points="53.7,576.8 63.8,582.7 67.3,576.9 57.2,570.9" fill="#ce0000"/>
<polygon points="117.8,623.9 128.0,628.3 131.5,623.6 121.3,619.0" fill="#ff4e00"/>
<polygon points="219.4,660.0 229.5,662.7 233.0,658.9 222.9,656.2" fill="#ffaa00"/>
<polygon points="107.7,619.3 117.8,623.9 121.3,619.0 111.2,614.4" fill="#ff3900"/>
<polygon points="70.5,593.9 80.7,599.2 84.2,593.8 74.0,588.3" fill="#f20000"/>
<polygon points="229.5,662.7 239.7,665.1 243.2,661.5 233.0,658.9" fill="#ffa800"/>
<polygon points="97.5,614.6 107.7,619.3 111.2,614.4 101.0,609.5" fill="#ff2200"/>
<polygon points="43.5,570.8 53.7,576.8 57.2,570.9 47.0,564.8" fill="#a80000"/>
<polygon points="60.4,588.3 70.5,593.9 74.0,588.3 63.8,582.7" fill="#d20000"/>
<polygon points="87.4,609.6 97.5,614.6 101.0,609.5 90.8,604.5" fill="#ff0900"/>
<polygon points="77.2,604.5 87.4,609.6 90.8,604.5 80.7,599.2" fill="#ee0000"/>
<polygon points="50.2,582.5 60.4,588.3 63.8,582.7 53.7,576.8" fill="#b00000"/>
<polygon points="67.1,599.2 77.2,604.5 80.7,599.2 70.5,593.9" fill="#d10000"/>
<polygon points="40.1,576.6 50.2,582.5 53.7,576.8 43.5,570.8" fill="#8c0000"/>
<polygon points="56.9,593.8 67.1,599.2 70.5,593.9 60.4,588.3" fill="#b20000"/>
<polygon points="46.8,588.1 56.9,593.8 60.4,588.3 50.2,582.5" fill="#910000"/>
<polygon points="36.6,582.3 46.8,588.1 50.2,582.5 40.1,576.6" fill="#800000"/>
</g>
<line x1="36.60" y1="679.00" x2="33.10" y2="678.40" stroke="#6e6e6e" stroke-width="0.8"/>
<text transform="translate(27.9 682.5) scale(0.85 1)" font-size="10" text-anchor="end" class="s">75</text>
<line x1="36.60" y1="660.04" x2="33.10" y2="659.44" stroke="#6e6e6e" stroke-width="0.8"/>
<text transform="translate(27.9 663.5) scale(0.85 1)" font-size="10" text-anchor="end" class="s">80</text>
<line x1="36.60" y1="641.08" x2="33.10" y2="640.48" stroke="#6e6e6e" stroke-width="0.8"/>
<text transform="translate(27.9 644.6) scale(0.85 1)" font-size="10" text-anchor="end" class="s">85</text>
<line x1="36.60" y1="622.12" x2="33.10" y2="621.52" stroke="#6e6e6e" stroke-width="0.8"/>
<text transform="translate(27.9 625.6) scale(0.85 1)" font-size="10" text-anchor="end" class="s">90</text>
<line x1="36.60" y1="603.16" x2="33.10" y2="602.56" stroke="#6e6e6e" stroke-width="0.8"/>
<text transform="translate(27.9 606.6) scale(0.85 1)" font-size="10" text-anchor="end" class="s">95</text>
<line x1="36.60" y1="584.20" x2="33.10" y2="583.60" stroke="#6e6e6e" stroke-width="0.8"/>
<text transform="translate(27.9 587.7) scale(0.85 1)" font-size="10" text-anchor="end" class="s">100</text>
<line x1="36.60" y1="679.00" x2="35.00" y2="682.80" stroke="#6e6e6e" stroke-width="0.8"/>
<text transform="translate(33.0 696.4) scale(0.85 1)" font-size="10" text-anchor="end" class="s">1</text>
<line x1="138.15" y1="707.20" x2="136.55" y2="711.00" stroke="#6e6e6e" stroke-width="0.8"/>
<text transform="translate(134.6 724.6) scale(0.85 1)" font-size="10" text-anchor="end" class="s">1.5</text>
<line x1="239.70" y1="735.40" x2="238.10" y2="739.20" stroke="#6e6e6e" stroke-width="0.8"/>
<text transform="translate(236.1 752.8) scale(0.85 1)" font-size="10" text-anchor="end" class="s">2</text>
<line x1="239.70" y1="735.40" x2="244.20" y2="736.60" stroke="#6e6e6e" stroke-width="0.8"/>
<text transform="translate(248.2 747.3) scale(0.85 1)" font-size="10" text-anchor="start" class="s">4</text>
<line x1="274.35" y1="652.90" x2="278.85" y2="654.10" stroke="#6e6e6e" stroke-width="0.8"/>
<text transform="translate(282.8 664.8) scale(0.85 1)" font-size="10" text-anchor="start" class="s">6</text>
<line x1="309.00" y1="570.40" x2="313.50" y2="571.60" stroke="#6e6e6e" stroke-width="0.8"/>
<text transform="translate(317.5 582.3) scale(0.85 1)" font-size="10" text-anchor="start" class="s">8</text>
<text transform="translate(9.3 632.0) rotate(-90)" font-size="9.5" text-anchor="middle" class="b">AMO removal (%)</text>
<text x="135.0" y="746.4" font-size="9.5" text-anchor="middle" class="b">[AMO] (<tspan font-style="italic">μ</tspan>M)</text>
<text x="284.0" y="720.1" font-size="9.5" text-anchor="middle" class="b">pH</text>
<text x="152.5" y="407.2" font-size="16" text-anchor="middle" class="t">(b1)</text>
<line x1="126.90" y1="945.40" x2="302.30" y2="1009.30" stroke="#e3e3e3" stroke-width="0.7"/>
<line x1="34.70" y1="1066.90" x2="126.90" y2="945.40" stroke="#e3e3e3" stroke-width="0.7"/>
<line x1="126.90" y1="923.70" x2="302.30" y2="987.60" stroke="#e3e3e3" stroke-width="0.7"/>
<line x1="34.70" y1="1045.20" x2="126.90" y2="923.70" stroke="#e3e3e3" stroke-width="0.7"/>
<line x1="126.90" y1="902.00" x2="302.30" y2="965.90" stroke="#e3e3e3" stroke-width="0.7"/>
<line x1="34.70" y1="1023.50" x2="126.90" y2="902.00" stroke="#e3e3e3" stroke-width="0.7"/>
<line x1="126.90" y1="880.30" x2="302.30" y2="944.20" stroke="#e3e3e3" stroke-width="0.7"/>
<line x1="34.70" y1="1001.80" x2="126.90" y2="880.30" stroke="#e3e3e3" stroke-width="0.7"/>
<line x1="126.90" y1="858.60" x2="302.30" y2="922.50" stroke="#e3e3e3" stroke-width="0.7"/>
<line x1="34.70" y1="980.10" x2="126.90" y2="858.60" stroke="#e3e3e3" stroke-width="0.7"/>
<line x1="126.90" y1="836.90" x2="302.30" y2="900.80" stroke="#e3e3e3" stroke-width="0.7"/>
<line x1="34.70" y1="958.40" x2="126.90" y2="836.90" stroke="#e3e3e3" stroke-width="0.7"/>
<line x1="126.90" y1="815.20" x2="302.30" y2="879.10" stroke="#e3e3e3" stroke-width="0.7"/>
<line x1="34.70" y1="936.70" x2="126.90" y2="815.20" stroke="#e3e3e3" stroke-width="0.7"/>
<line x1="214.60" y1="977.35" x2="214.60" y2="847.15" stroke="#e3e3e3" stroke-width="0.7"/>
<line x1="80.80" y1="1006.15" x2="80.80" y2="875.95" stroke="#e3e3e3" stroke-width="0.7"/>
<line x1="126.90" y1="945.40" x2="126.90" y2="815.20" stroke="#e3e3e3" stroke-width="0.7"/>
<line x1="302.30" y1="1009.30" x2="302.30" y2="879.10" stroke="#e3e3e3" stroke-width="0.7"/>
<line x1="80.80" y1="1006.15" x2="256.20" y2="1070.05" stroke="#e3e3e3" stroke-width="0.7"/>
<line x1="122.40" y1="1098.85" x2="214.60" y2="977.35" stroke="#e3e3e3" stroke-width="0.7"/>
<line x1="126.90" y1="945.40" x2="302.30" y2="1009.30" stroke="#e3e3e3" stroke-width="0.7"/>
<line x1="34.70" y1="1066.90" x2="34.70" y2="936.70" stroke="#b0b0b0" stroke-width="1.1"/>
<line x1="34.70" y1="1066.90" x2="210.10" y2="1130.80" stroke="#6e6e6e" stroke-width="0.8"/>
<line x1="210.10" y1="1130.80" x2="302.30" y2="1009.30" stroke="#6e6e6e" stroke-width="0.8"/>
<g class="e">
<polygon points="122.3,860.1 131.1,864.3 135.7,855.7 126.9,851.3" fill="#ff3400"/>
<polygon points="131.1,864.3 139.8,868.3 144.4,859.9 135.7,855.7" fill="#ff3d00"/>
<polygon points="117.7,869.0 126.5,873.1 131.1,864.3 122.3,860.1" fill="#ff4f00"/>
<polygon points="139.8,868.3 148.6,872.2 153.2,864.0 144.4,859.9" fill="#ff4300"/>
<polygon points="126.5,873.1 135.2,876.9 139.8,868.3 131.1,864.3" fill="#ff5500"/>
<polygon points="113.1,878.2 121.8,882.0 126.5,873.1 117.7,869.0" fill="#ff6b00"/>
<polygon points="148.6,872.2 157.4,875.8 162.0,867.8 153.2,864.0" fill="#ff4800"/>
<polygon points="135.2,876.9 144.0,880.6 148.6,872.2 139.8,868.3" fill="#ff5a00"/>
<polygon points="121.8,882.0 130.6,885.7 135.2,876.9 126.5,873.1" fill="#ff7000"/>
<polygon points="108.5,887.5 117.2,891.1 121.8,882.0 113.1,878.2" fill="#ff8a00"/>
<polygon points="157.4,875.8 166.1,879.3 170.8,871.5 162.0,867.8" fill="#ff4a00"/>
<polygon points="144.0,880.6 152.8,884.0 157.4,875.8 148.6,872.2" fill="#ff5d00"/>
<polygon points="130.6,885.7 139.4,889.1 144.0,880.6 135.2,876.9" fill="#ff7300"/>
<polygon points="103.9,897.0 112.6,900.4 117.2,891.1 108.5,887.5" fill="#ffaa00"/>
<polygon points="117.2,891.1 126.0,894.6 130.6,885.7 121.8,882.0" fill="#ff8c00"/>
<polygon points="166.1,879.3 174.9,882.6 179.5,874.9 170.8,871.5" fill="#ff4b00"/>
<polygon points="152.8,884.0 161.5,887.3 166.1,879.3 157.4,875.8" fill="#ff5e00"/>
<polygon points="99.2,906.6 108.0,909.9 112.6,900.4 103.9,897.0" fill="#ffcc00"/>
<polygon points="139.4,889.1 148.2,892.4 152.8,884.0 144.0,880.6" fill="#ff7400"/>
<polygon points="112.6,900.4 121.4,903.7 126.0,894.6 117.2,891.1" fill="#ffab00"/>
<polygon points="126.0,894.6 134.8,897.9 139.4,889.1 130.6,885.7" fill="#ff8d00"/>
<polygon points="174.9,882.6 183.7,885.7 188.3,878.2 179.5,874.9" fill="#ff4a00"/>
<polygon points="94.6,916.5 103.4,919.6 108.0,909.9 99.2,906.6" fill="#ffef00"/>
<polygon points="161.5,887.3 170.3,890.4 174.9,882.6 166.1,879.3" fill="#ff5d00"/>
<polygon points="108.0,909.9 116.8,913.0 121.4,903.7 112.6,900.4" fill="#ffcb00"/>
<polygon points="148.2,892.4 156.9,895.5 161.5,887.3 152.8,884.0" fill="#ff7300"/>
<polygon points="121.4,903.7 130.2,906.8 134.8,897.9 126.0,894.6" fill="#ffaa00"/>
<polygon points="134.8,897.9 143.5,901.0 148.2,892.4 139.4,889.1" fill="#ff8c00"/>
<polygon points="90.0,926.5 98.8,929.4 103.4,919.6 94.6,916.5" fill="#e9ff16"/>
<polygon points="183.7,885.7 192.5,888.6 197.1,881.3 188.3,878.2" fill="#ff4800"/>
<polygon points="103.4,919.6 112.2,922.5 116.8,913.0 108.0,909.9" fill="#ffec00"/>
<polygon points="85.4,936.7 94.2,939.5 98.8,929.4 90.0,926.5" fill="#c2ff3d"/>
<polygon points="170.3,890.4 179.1,893.4 183.7,885.7 174.9,882.6" fill="#ff5a00"/>
<polygon points="116.8,913.0 125.6,915.9 130.2,906.8 121.4,903.7" fill="#ffc800"/>
<polygon points="156.9,895.5 165.7,898.4 170.3,890.4 161.5,887.3" fill="#ff7000"/>
<polygon points="130.2,906.8 138.9,909.7 143.5,901.0 134.8,897.9" fill="#ffa700"/>
<polygon points="80.8,947.2 89.6,949.7 94.2,939.5 85.4,936.7" fill="#99ff66"/>
<polygon points="143.5,901.0 152.3,903.9 156.9,895.5 148.2,892.4" fill="#ff8a00"/>
<polygon points="98.8,929.4 107.6,932.2 112.2,922.5 103.4,919.6" fill="#eeff11"/>
<polygon points="76.2,957.7 85.0,960.1 89.6,949.7 80.8,947.2" fill="#6eff91"/>
<polygon points="192.5,888.6 201.2,891.4 205.8,884.3 197.1,881.3" fill="#ff4300"/>
<polygon points="112.2,922.5 120.9,925.2 125.6,915.9 116.8,913.0" fill="#ffe800"/>
<polygon points="94.2,939.5 103.0,942.0 107.6,932.2 98.8,929.4" fill="#c9ff36"/>
<polygon points="71.6,968.5 80.4,970.7 85.0,960.1 76.2,957.7" fill="#42ffbd"/>
<polygon points="179.1,893.4 187.8,896.1 192.5,888.6 183.7,885.7" fill="#ff5500"/>
<polygon points="125.6,915.9 134.3,918.7 138.9,909.7 130.2,906.8" fill="#ffc300"/>
<polygon points="67.0,979.4 75.7,981.4 80.4,970.7 71.6,968.5" fill="#13ffec"/>
<polygon points="165.7,898.4 174.5,901.2 179.1,893.4 170.3,890.4" fill="#ff6b00"/>
<polygon points="138.9,909.7 147.7,912.5 152.3,903.9 143.5,901.0" fill="#ffa200"/>
<polygon points="34.7,1061.2 43.5,1061.9 48.1,1049.8 39.3,1048.9" fill="#000099"/>
<polygon points="152.3,903.9 161.1,906.6 165.7,898.4 156.9,895.5" fill="#ff8500"/>
<polygon points="62.4,990.6 71.1,992.4 75.7,981.4 67.0,979.4" fill="#00e2ff"/>
<polygon points="89.6,949.7 98.3,952.1 103.0,942.0 94.2,939.5" fill="#a1ff5e"/>
<polygon points="107.6,932.2 116.3,934.7 120.9,925.2 112.2,922.5" fill="#f4ff0b"/>
<polygon points="39.3,1048.9 48.1,1049.8 52.7,1038.0 43.9,1036.9" fill="#0000d4"/>
<polygon points="57.8,1001.9 66.5,1003.5 71.1,992.4 62.4,990.6" fill="#00b0ff"/>
<polygon points="43.9,1036.9 52.7,1038.0 57.3,1026.3 48.5,1025.1" fill="#000fff"/>
<polygon points="53.1,1013.4 61.9,1014.8 66.5,1003.5 57.8,1001.9" fill="#007cff"/>
<polygon points="48.5,1025.1 57.3,1026.3 61.9,1014.8 53.1,1013.4" fill="#0046ff"/>
<polygon points="85.0,960.1 93.7,962.3 98.3,952.1 89.6,949.7" fill="#78ff87"/>
<polygon points="201.2,891.4 210.0,893.9 214.6,887.0 205.8,884.3" fill="#ff3d00"/>
<polygon points="120.9,925.2 129.7,927.8 134.3,918.7 125.6,915.9" fill="#ffe100"/>
<polygon points="103.0,942.0 111.7,944.4 116.3,934.7 107.6,932.2" fill="#d1ff2e"/>
<polygon points="187.8,896.1 196.6,898.6 201.2,891.4 192.5,888.6" fill="#ff4f00"/>
<polygon points="134.3,918.7 143.1,921.2 147.7,912.5 138.9,909.7" fill="#ffbd00"/>
<polygon points="80.4,970.7 89.1,972.7 93.7,962.3 85.0,960.1" fill="#4effb1"/>
<polygon points="174.5,901.2 183.2,903.7 187.8,896.1 179.1,893.4" fill="#ff6500"/>
<polygon points="147.7,912.5 156.5,915.0 161.1,906.6 152.3,903.9" fill="#ff9c00"/>
<polygon points="161.1,906.6 169.9,909.2 174.5,901.2 165.7,898.4" fill="#ff7f00"/>
<polygon points="75.7,981.4 84.5,983.2 89.1,972.7 80.4,970.7" fill="#21ffde"/>
<polygon points="116.3,934.7 125.1,937.1 129.7,927.8 120.9,925.2" fill="#fdff02"/>
<polygon points="98.3,952.1 107.1,954.2 111.7,944.4 103.0,942.0" fill="#acff53"/>
<polygon points="71.1,992.4 79.9,994.0 84.5,983.2 75.7,981.4" fill="#00f1ff"/>
<polygon points="66.5,1003.5 75.3,1004.9 79.9,994.0 71.1,992.4" fill="#00c1ff"/>
<polygon points="210.0,893.9 218.8,896.3 223.4,889.6 214.6,887.0" fill="#ff3500"/>
<polygon points="129.7,927.8 138.5,930.1 143.1,921.2 134.3,918.7" fill="#ffd900"/>
<polygon points="43.5,1061.9 52.2,1062.4 56.9,1050.5 48.1,1049.8" fill="#0000b4"/>
<polygon points="93.7,962.3 102.5,964.3 107.1,954.2 98.3,952.1" fill="#84ff7b"/>
<polygon points="61.9,1014.8 70.7,1016.1 75.3,1004.9 66.5,1003.5" fill="#008fff"/>
<polygon points="48.1,1049.8 56.9,1050.5 61.5,1038.8 52.7,1038.0" fill="#0000ed"/>
<polygon points="57.3,1026.3 66.1,1027.4 70.7,1016.1 61.9,1014.8" fill="#005bff"/>
<polygon points="52.7,1038.0 61.5,1038.8 66.1,1027.4 57.3,1026.3" fill="#0026ff"/>
<polygon points="111.7,944.4 120.5,946.6 125.1,937.1 116.3,934.7" fill="#dbff24"/>
<polygon points="196.6,898.6 205.4,901.0 210.0,893.9 201.2,891.4" fill="#ff4700"/>
<polygon points="143.1,921.2 151.9,923.6 156.5,915.0 147.7,912.5" fill="#ffb500"/>
<polygon points="183.2,903.7 192.0,906.1 196.6,898.6 187.8,896.1" fill="#ff5d00"/>
<polygon points="156.5,915.0 165.2,917.4 169.9,909.2 161.1,906.6" fill="#ff9400"/>
<polygon points="89.1,972.7 97.9,974.5 102.5,964.3 93.7,962.3" fill="#5bffa4"/>
<polygon points="169.9,909.2 178.6,911.6 183.2,903.7 174.5,901.2" fill="#ff7600"/>
<polygon points="125.1,937.1 133.9,939.3 138.5,930.1 129.7,927.8" fill="#fff700"/>
<polygon points="107.1,954.2 115.9,956.2 120.5,946.6 111.7,944.4" fill="#b7ff48"/>
<polygon points="84.5,983.2 93.3,984.9 97.9,974.5 89.1,972.7" fill="#31ffce"/>
<polygon points="218.8,896.3 227.5,898.5 232.1,891.9 223.4,889.6" fill="#ff2b00"/>
<polygon points="138.5,930.1 147.3,932.3 151.9,923.6 143.1,921.2" fill="#ffcf00"/>
<polygon points="79.9,994.0 88.7,995.4 93.3,984.9 84.5,983.2" fill="#04fffb"/>
<polygon points="102.5,964.3 111.3,966.1 115.9,956.2 107.1,954.2" fill="#92ff6d"/>
<polygon points="75.3,1004.9 84.1,1006.2 88.7,995.4 79.9,994.0" fill="#00d5ff"/>
<polygon points="205.4,901.0 214.2,903.2 218.8,896.3 210.0,893.9" fill="#ff3d00"/>
<polygon points="151.9,923.6 160.6,925.8 165.2,917.4 156.5,915.0" fill="#ffaa00"/>
<polygon points="120.5,946.6 129.3,948.5 133.9,939.3 125.1,937.1" fill="#e7ff18"/>
<polygon points="70.7,1016.1 79.5,1017.1 84.1,1006.2 75.3,1004.9" fill="#00a4ff"/>
<polygon points="192.0,906.1 200.8,908.3 205.4,901.0 196.6,898.6" fill="#ff5300"/>
<polygon points="165.2,917.4 174.0,919.6 178.6,911.6 169.9,909.2" fill="#ff8a00"/>
<polygon points="178.6,911.6 187.4,913.7 192.0,906.1 183.2,903.7" fill="#ff6c00"/>
<polygon points="66.1,1027.4 74.8,1028.2 79.5,1017.1 70.7,1016.1" fill="#0072ff"/>
<polygon points="52.2,1062.4 61.0,1062.7 65.6,1051.0 56.9,1050.5" fill="#0000d0"/>
<polygon points="61.5,1038.8 70.2,1039.5 74.8,1028.2 66.1,1027.4" fill="#003eff"/>
<polygon points="56.9,1050.5 65.6,1051.0 70.2,1039.5 61.5,1038.8" fill="#0009ff"/>
<polygon points="97.9,974.5 106.7,976.1 111.3,966.1 102.5,964.3" fill="#6bff94"/>
<polygon points="133.9,939.3 142.6,941.2 147.3,932.3 138.5,930.1" fill="#ffeb00"/>
<polygon points="115.9,956.2 124.7,958.0 129.3,948.5 120.5,946.6" fill="#c5ff3a"/>
<polygon points="93.3,984.9 102.1,986.3 106.7,976.1 97.9,974.5" fill="#42ffbd"/>
<polygon points="227.5,898.5 236.3,900.5 240.9,894.1 232.1,891.9" fill="#ff1f00"/>
<polygon points="147.3,932.3 156.0,934.3 160.6,925.8 151.9,923.6" fill="#ffc300"/>
<polygon points="88.7,995.4 97.4,996.7 102.1,986.3 93.3,984.9" fill="#17ffe8"/>
<polygon points="214.2,903.2 222.9,905.2 227.5,898.5 218.8,896.3" fill="#ff3100"/>
<polygon points="160.6,925.8 169.4,927.8 174.0,919.6 165.2,917.4" fill="#ff9f00"/>
<polygon points="111.3,966.1 120.0,967.7 124.7,958.0 115.9,956.2" fill="#a2ff5d"/>
<polygon points="129.3,948.5 138.0,950.4 142.6,941.2 133.9,939.3" fill="#f5ff0a"/>
<polygon points="200.8,908.3 209.5,910.3 214.2,903.2 205.4,901.0" fill="#ff4700"/>
<polygon points="174.0,919.6 182.8,921.6 187.4,913.7 178.6,911.6" fill="#ff7e00"/>
<polygon points="187.4,913.7 196.2,915.7 200.8,908.3 192.0,906.1" fill="#ff6000"/>
<polygon points="84.1,1006.2 92.8,1007.2 97.4,996.7 88.7,995.4" fill="#00eaff"/>
<polygon points="79.5,1017.1 88.2,1018.0 92.8,1007.2 84.1,1006.2" fill="#00bbff"/>
<polygon points="106.7,976.1 115.4,977.5 120.0,967.7 111.3,966.1" fill="#7cff83"/>
<polygon points="142.6,941.2 151.4,943.1 156.0,934.3 147.3,932.3" fill="#ffdd00"/>
<polygon points="74.8,1028.2 83.6,1028.9 88.2,1018.0 79.5,1017.1" fill="#008bff"/>
<polygon points="124.7,958.0 133.4,959.6 138.0,950.4 129.3,948.5" fill="#d5ff2a"/>
<polygon points="70.2,1039.5 79.0,1040.0 83.6,1028.9 74.8,1028.2" fill="#0059ff"/>
<polygon points="65.6,1051.0 74.4,1051.3 79.0,1040.0 70.2,1039.5" fill="#0025ff"/>
<polygon points="61.0,1062.7 69.8,1062.8 74.4,1051.3 65.6,1051.0" fill="#0000ef"/>
<polygon points="236.3,900.5 245.1,902.3 249.7,896.1 240.9,894.1" fill="#ff1100"/>
<polygon points="156.0,934.3 164.8,936.1 169.4,927.8 160.6,925.8" fill="#ffb500"/>
<polygon points="102.1,986.3 110.8,987.5 115.4,977.5 106.7,976.1" fill="#55ffaa"/>
<polygon points="222.9,905.2 231.7,907.0 236.3,900.5 227.5,898.5" fill="#ff2300"/>
<polygon points="169.4,927.8 178.2,929.6 182.8,921.6 174.0,919.6" fill="#ff9100"/>
<polygon points="138.0,950.4 146.8,952.0 151.4,943.1 142.6,941.2" fill="#fffa00"/>
<polygon points="120.0,967.7 128.8,969.1 133.4,959.6 124.7,958.0" fill="#b3ff4c"/>
<polygon points="209.5,910.3 218.3,912.1 222.9,905.2 214.2,903.2" fill="#ff3900"/>
<polygon points="182.8,921.6 191.6,923.4 196.2,915.7 187.4,913.7" fill="#ff7000"/>
<polygon points="97.4,996.7 106.2,997.7 110.8,987.5 102.1,986.3" fill="#2cffd3"/>
<polygon points="196.2,915.7 204.9,917.5 209.5,910.3 200.8,908.3" fill="#ff5300"/>
<polygon points="92.8,1007.2 101.6,1008.1 106.2,997.7 97.4,996.7" fill="#02fffd"/>
<polygon points="151.4,943.1 160.2,944.7 164.8,936.1 156.0,934.3" fill="#ffce00"/>
<polygon points="115.4,977.5 124.2,978.8 128.8,969.1 120.0,967.7" fill="#90ff6f"/>
<polygon points="88.2,1018.0 97.0,1018.7 101.6,1008.1 92.8,1007.2" fill="#00d4ff"/>
<polygon points="133.4,959.6 142.2,961.1 146.8,952.0 138.0,950.4" fill="#e6ff19"/>
<polygon points="245.1,902.3 253.8,903.9 258.4,897.9 249.7,896.1" fill="#ff0100"/>
<polygon points="164.8,936.1 173.6,937.7 178.2,929.6 169.4,927.8" fill="#ffa600"/>
<polygon points="83.6,1028.9 92.4,1029.4 97.0,1018.7 88.2,1018.0" fill="#00a6ff"/>
<polygon points="110.8,987.5 119.6,988.6 124.2,978.8 115.4,977.5" fill="#6aff95"/>
<polygon points="79.0,1040.0 87.8,1040.4 92.4,1029.4 83.6,1028.9" fill="#0076ff"/>
<polygon points="231.7,907.0 240.5,908.6 245.1,902.3 236.3,900.5" fill="#ff1400"/>
<polygon points="178.2,929.6 186.9,931.2 191.6,923.4 182.8,921.6" fill="#ff8100"/>
<polygon points="74.4,1051.3 83.2,1051.5 87.8,1040.4 79.0,1040.0" fill="#0044ff"/>
<polygon points="218.3,912.1 227.1,913.7 231.7,907.0 222.9,905.2" fill="#ff2a00"/>
<polygon points="191.6,923.4 200.3,925.0 204.9,917.5 196.2,915.7" fill="#ff6000"/>
<polygon points="69.8,1062.8 78.6,1062.8 83.2,1051.5 74.4,1051.3" fill="#0010ff"/>
<polygon points="146.8,952.0 155.6,953.4 160.2,944.7 151.4,943.1" fill="#ffe800"/>
<polygon points="204.9,917.5 213.7,919.2 218.3,912.1 209.5,910.3" fill="#ff4300"/>
<polygon points="128.8,969.1 137.6,970.4 142.2,961.1 133.4,959.6" fill="#c6ff39"/>
<polygon points="106.2,997.7 115.0,998.6 119.6,988.6 110.8,987.5" fill="#43ffbc"/>
<polygon points="160.2,944.7 169.0,946.1 173.6,937.7 164.8,936.1" fill="#ffbc00"/>
<polygon points="101.6,1008.1 110.4,1008.8 115.0,998.6 106.2,997.7" fill="#1affe5"/>
<polygon points="124.2,978.8 133.0,979.8 137.6,970.4 128.8,969.1" fill="#a5ff5a"/>
<polygon points="142.2,961.1 151.0,962.3 155.6,953.4 146.8,952.0" fill="#faff05"/>
<polygon points="253.8,903.9 262.6,905.4 267.2,899.6 258.4,897.9" fill="#ef0000"/>
<polygon points="173.6,937.7 182.3,939.2 186.9,931.2 178.2,929.6" fill="#ff9400"/>
<polygon points="97.0,1018.7 105.8,1019.2 110.4,1008.8 101.6,1008.1" fill="#00efff"/>
<polygon points="240.5,908.6 249.2,910.1 253.8,903.9 245.1,902.3" fill="#ff0200"/>
<polygon points="186.9,931.2 195.7,932.6 200.3,925.0 191.6,923.4" fill="#ff7000"/>
<polygon points="92.4,1029.4 101.2,1029.8 105.8,1019.2 97.0,1018.7" fill="#00c2ff"/>
<polygon points="119.6,988.6 128.4,989.5 133.0,979.8 124.2,978.8" fill="#81ff7e"/>
<polygon points="227.1,913.7 235.9,915.2 240.5,908.6 231.7,907.0" fill="#ff1800"/>
<polygon points="200.3,925.0 209.1,926.4 213.7,919.2 204.9,917.5" fill="#ff4f00"/>
<polygon points="213.7,919.2 222.5,920.6 227.1,913.7 218.3,912.1" fill="#ff3200"/>
<polygon points="155.6,953.4 164.3,954.7 169.0,946.1 160.2,944.7" fill="#ffd500"/>
<polygon points="87.8,1040.4 96.5,1040.5 101.2,1029.8 92.4,1029.4" fill="#0094ff"/>
<polygon points="137.6,970.4 146.4,971.4 151.0,962.3 142.2,961.1" fill="#dcff23"/>
<polygon points="83.2,1051.5 91.9,1051.4 96.5,1040.5 87.8,1040.4" fill="#0064ff"/>
<polygon points="115.0,998.6 123.8,999.3 128.4,989.5 119.6,988.6" fill="#5cffa3"/>
<polygon points="78.6,1062.8 87.3,1062.5 91.9,1051.4 83.2,1051.5" fill="#0032ff"/>
<polygon points="169.0,946.1 177.7,947.4 182.3,939.2 173.6,937.7" fill="#ffa900"/>
<polygon points="133.0,979.8 141.7,980.7 146.4,971.4 137.6,970.4" fill="#bcff43"/>
<polygon points="151.0,962.3 159.7,963.4 164.3,954.7 155.6,953.4" fill="#ffef00"/>
<polygon points="110.4,1008.8 119.1,1009.3 123.8,999.3 115.0,998.6" fill="#35ffca"/>
<polygon points="262.6,905.4 271.4,906.6 276.0,901.0 267.2,899.6" fill="#dc0000"/>
<polygon points="182.3,939.2 191.1,940.4 195.7,932.6 186.9,931.2" fill="#ff8100"/>
<polygon points="249.2,910.1 258.0,911.3 262.6,905.4 253.8,903.9" fill="#ee0000"/>
<polygon points="195.7,932.6 204.5,933.9 209.1,926.4 200.3,925.0" fill="#ff5d00"/>
<polygon points="105.8,1019.2 114.5,1019.5 119.1,1009.3 110.4,1008.8" fill="#0cfff3"/>
<polygon points="235.9,915.2 244.6,916.4 249.2,910.1 240.5,908.6" fill="#ff0500"/>
<polygon points="209.1,926.4 217.9,927.7 222.5,920.6 213.7,919.2" fill="#ff3c00"/>
<polygon points="222.5,920.6 231.2,921.9 235.9,915.2 227.1,913.7" fill="#ff1f00"/>
<polygon points="128.4,989.5 137.1,990.2 141.7,980.7 133.0,979.8" fill="#9aff65"/>
<polygon points="164.3,954.7 173.1,955.7 177.7,947.4 169.0,946.1" fill="#ffc000"/>
<polygon points="101.2,1029.8 109.9,1029.9 114.5,1019.5 105.8,1019.2" fill="#00e1ff"/>
<polygon points="146.4,971.4 155.1,972.3 159.7,963.4 151.0,962.3" fill="#f2ff0d"/>
<polygon points="96.5,1040.5 105.3,1040.5 109.9,1029.9 101.2,1029.8" fill="#00b4ff"/>
<polygon points="177.7,947.4 186.5,948.4 191.1,940.4 182.3,939.2" fill="#ff9400"/>
<polygon points="123.8,999.3 132.5,999.8 137.1,990.2 128.4,989.5" fill="#77ff88"/>
<polygon points="91.9,1051.4 100.7,1051.2 105.3,1040.5 96.5,1040.5" fill="#0086ff"/>
<polygon points="271.4,906.6 280.1,907.7 284.8,902.3 276.0,901.0" fill="#c70000"/>
<polygon points="87.3,1062.5 96.1,1062.1 100.7,1051.2 91.9,1051.4" fill="#0056ff"/>
<polygon points="191.1,940.4 199.9,941.5 204.5,933.9 195.7,932.6" fill="#ff6c00"/>
<polygon points="159.7,963.4 168.5,964.3 173.1,955.7 164.3,954.7" fill="#ffd800"/>
<polygon points="141.7,980.7 150.5,981.4 155.1,972.3 146.4,971.4" fill="#d5ff2a"/>
<polygon points="119.1,1009.3 127.9,1009.7 132.5,999.8 123.8,999.3" fill="#52ffad"/>
<polygon points="258.0,911.3 266.8,912.4 271.4,906.6 262.6,905.4" fill="#d90000"/>
<polygon points="204.5,933.9 213.2,935.0 217.9,927.7 209.1,926.4" fill="#ff4800"/>
<polygon points="244.6,916.4 253.4,917.5 258.0,911.3 249.2,910.1" fill="#ef0000"/>
<polygon points="217.9,927.7 226.6,928.8 231.2,921.9 222.5,920.6" fill="#ff2700"/>
<polygon points="231.2,921.9 240.0,922.9 244.6,916.4 235.9,915.2" fill="#ff0a00"/>
<polygon points="173.1,955.7 181.9,956.6 186.5,948.4 177.7,947.4" fill="#ffa900"/>
<polygon points="114.5,1019.5 123.3,1019.7 127.9,1009.7 119.1,1009.3" fill="#2affd5"/>
<polygon points="137.1,990.2 145.9,990.7 150.5,981.4 141.7,980.7" fill="#b5ff4a"/>
<polygon points="155.1,972.3 163.9,973.0 168.5,964.3 159.7,963.4" fill="#fff300"/>
<polygon points="109.9,1029.9 118.7,1029.9 123.3,1019.7 114.5,1019.5" fill="#02fffd"/>
<polygon points="186.5,948.4 195.3,949.3 199.9,941.5 191.1,940.4" fill="#ff7d00"/>
<polygon points="132.5,999.8 141.3,1000.2 145.9,990.7 137.1,990.2" fill="#93ff6c"/>
<polygon points="105.3,1040.5 114.1,1040.2 118.7,1029.9 109.9,1029.9" fill="#00d6ff"/>
<polygon points="280.1,907.7 288.9,908.6 293.5,903.3 284.8,902.3" fill="#b00000"/>
<polygon points="199.9,941.5 208.6,942.4 213.2,935.0 204.5,933.9" fill="#ff5500"/>
<polygon points="168.5,964.3 177.3,965.0 181.9,956.6 173.1,955.7" fill="#ffc000"/>
<polygon points="150.5,981.4 159.3,981.9 163.9,973.0 155.1,972.3" fill="#efff10"/>
<polygon points="100.7,1051.2 109.5,1050.8 114.1,1040.2 105.3,1040.5" fill="#00aaff"/>
<polygon points="266.8,912.4 275.5,913.3 280.1,907.7 271.4,906.6" fill="#c20000"/>
<polygon points="213.2,935.0 222.0,935.8 226.6,928.8 217.9,927.7" fill="#ff3100"/>
<polygon points="127.9,1009.7 136.7,1009.8 141.3,1000.2 132.5,999.8" fill="#70ff8f"/>
<polygon points="253.4,917.5 262.2,918.4 266.8,912.4 258.0,911.3" fill="#d80000"/>
<polygon points="226.6,928.8 235.4,929.7 240.0,922.9 231.2,921.9" fill="#ff1000"/>
<polygon points="96.1,1062.1 104.9,1061.5 109.5,1050.8 100.7,1051.2" fill="#007bff"/>
<polygon points="240.0,922.9 248.8,923.8 253.4,917.5 244.6,916.4" fill="#f20000"/>
<polygon points="181.9,956.6 190.7,957.3 195.3,949.3 186.5,948.4" fill="#ff9000"/>
<polygon points="145.9,990.7 154.7,991.0 159.3,981.9 150.5,981.4" fill="#d1ff2e"/>
<polygon points="123.3,1019.7 132.1,1019.6 136.7,1009.8 127.9,1009.7" fill="#4bffb4"/>
<polygon points="163.9,973.0 172.7,973.5 177.3,965.0 168.5,964.3" fill="#ffd800"/>
<polygon points="195.3,949.3 204.0,950.0 208.6,942.4 199.9,941.5" fill="#ff6500"/>
<polygon points="118.7,1029.9 127.5,1029.6 132.1,1019.6 123.3,1019.7" fill="#24ffdb"/>
<polygon points="288.9,908.6 297.7,909.3 302.3,904.2 293.5,903.3" fill="#970000"/>
<polygon points="208.6,942.4 217.4,943.1 222.0,935.8 213.2,935.0" fill="#ff3c00"/>
<polygon points="141.3,1000.2 150.1,1000.3 154.7,991.0 145.9,990.7" fill="#b1ff4e"/>
<polygon points="177.3,965.0 186.0,965.5 190.7,957.3 181.9,956.6" fill="#ffa500"/>
<polygon points="114.1,1040.2 122.9,1039.8 127.5,1029.6 118.7,1029.9" fill="#00faff"/>
<polygon points="275.5,913.3 284.3,914.0 288.9,908.6 280.1,907.7" fill="#aa0000"/>
<polygon points="159.3,981.9 168.1,982.3 172.7,973.5 163.9,973.0" fill="#fff200"/>
<polygon points="222.0,935.8 230.8,936.5 235.4,929.7 226.6,928.8" fill="#ff1800"/>
<polygon points="262.2,918.4 270.9,919.1 275.5,913.3 266.8,912.4" fill="#bf0000"/>
<polygon points="235.4,929.7 244.2,930.4 248.8,923.8 240.0,922.9" fill="#f60000"/>
<polygon points="248.8,923.8 257.6,924.5 262.2,918.4 253.4,917.5" fill="#d90000"/>
<polygon points="109.5,1050.8 118.2,1050.2 122.9,1039.8 114.1,1040.2" fill="#00cfff"/>
<polygon points="136.7,1009.8 145.5,1009.7 150.1,1000.3 141.3,1000.2" fill="#90ff6f"/>
<polygon points="190.7,957.3 199.4,957.8 204.0,950.0 195.3,949.3" fill="#ff7600"/>
<polygon points="104.9,1061.5 113.6,1060.7 118.2,1050.2 109.5,1050.8" fill="#00a3ff"/>
<polygon points="154.7,991.0 163.4,991.2 168.1,982.3 159.3,981.9" fill="#efff10"/>
<polygon points="172.7,973.5 181.4,973.9 186.0,965.5 177.3,965.0" fill="#ffbc00"/>
<polygon points="132.1,1019.6 140.8,1019.4 145.5,1009.7 136.7,1009.8" fill="#6dff92"/>
<polygon points="204.0,950.0 212.8,950.5 217.4,943.1 208.6,942.4" fill="#ff4a00"/>
<polygon points="217.4,943.1 226.2,943.6 230.8,936.5 222.0,935.8" fill="#ff2200"/>
<polygon points="127.5,1029.6 136.2,1029.2 140.8,1019.4 132.1,1019.6" fill="#47ffb8"/>
<polygon points="150.1,1000.3 158.8,1000.3 163.4,991.2 154.7,991.0" fill="#d2ff2d"/>
<polygon points="186.0,965.5 194.8,965.8 199.4,957.8 190.7,957.3" fill="#ff8900"/>
<polygon points="284.3,914.0 293.1,914.5 297.7,909.3 288.9,908.6" fill="#8f0000"/>
<polygon points="230.8,936.5 239.6,937.1 244.2,930.4 235.4,929.7" fill="#fc0000"/>
<polygon points="168.1,982.3 176.8,982.4 181.4,973.9 172.7,973.5" fill="#ffd400"/>
<polygon points="270.9,919.1 279.7,919.6 284.3,914.0 275.5,913.3" fill="#a50000"/>
<polygon points="244.2,930.4 252.9,930.9 257.6,924.5 248.8,923.8" fill="#dc0000"/>
<polygon points="257.6,924.5 266.3,925.1 270.9,919.1 262.2,918.4" fill="#be0000"/>
<polygon points="122.9,1039.8 131.6,1039.2 136.2,1029.2 127.5,1029.6" fill="#20ffdf"/>
<polygon points="199.4,957.8 208.2,958.2 212.8,950.5 204.0,950.0" fill="#ff5900"/>
<polygon points="145.5,1009.7 154.2,1009.5 158.8,1000.3 150.1,1000.3" fill="#b2ff4d"/>
<polygon points="118.2,1050.2 127.0,1049.4 131.6,1039.2 122.9,1039.8" fill="#00f7ff"/>
<polygon points="181.4,973.9 190.2,974.0 194.8,965.8 186.0,965.5" fill="#ff9e00"/>
<polygon points="163.4,991.2 172.2,991.1 176.8,982.4 168.1,982.3" fill="#ffee00"/>
<polygon points="212.8,950.5 221.6,950.9 226.2,943.6 217.4,943.1" fill="#ff2e00"/>
<polygon points="113.6,1060.7 122.4,1059.8 127.0,1049.4 118.2,1050.2" fill="#00ccff"/>
<polygon points="140.8,1019.4 149.6,1019.0 154.2,1009.5 145.5,1009.7" fill="#90ff6f"/>
<polygon points="226.2,943.6 235.0,944.0 239.6,937.1 230.8,936.5" fill="#ff0500"/>
<polygon points="194.8,965.8 203.6,966.0 208.2,958.2 199.4,957.8" fill="#ff6a00"/>
<polygon points="239.6,937.1 248.3,937.4 252.9,930.9 244.2,930.4" fill="#e00000"/>
<polygon points="158.8,1000.3 167.6,1000.0 172.2,991.1 163.4,991.2" fill="#f3ff0c"/>
<polygon points="136.2,1029.2 145.0,1028.6 149.6,1019.0 140.8,1019.4" fill="#6dff92"/>
<polygon points="279.7,919.6 288.5,919.9 293.1,914.5 284.3,914.0" fill="#890000"/>
<polygon points="252.9,930.9 261.7,931.2 266.3,925.1 257.6,924.5" fill="#bf0000"/>
<polygon points="266.3,925.1 275.1,925.4 279.7,919.6 270.9,919.1" fill="#a20000"/>
<polygon points="176.8,982.4 185.6,982.4 190.2,974.0 181.4,973.9" fill="#ffb400"/>
<polygon points="208.2,958.2 217.0,958.3 221.6,950.9 212.8,950.5" fill="#ff3b00"/>
<polygon points="131.6,1039.2 140.4,1038.4 145.0,1028.6 136.2,1029.2" fill="#48ffb7"/>
<polygon points="154.2,1009.5 163.0,1009.1 167.6,1000.0 158.8,1000.3" fill="#d6ff29"/>
<polygon points="190.2,974.0 199.0,974.0 203.6,966.0 194.8,965.8" fill="#ff7d00"/>
<polygon points="221.6,950.9 230.3,951.0 235.0,944.0 226.2,943.6" fill="#ff0f00"/>
<polygon points="127.0,1049.4 135.8,1048.4 140.4,1038.4 131.6,1039.2" fill="#21ffde"/>
<polygon points="172.2,991.1 181.0,990.9 185.6,982.4 176.8,982.4" fill="#ffcd00"/>
<polygon points="235.0,944.0 243.7,944.1 248.3,937.4 239.6,937.1" fill="#e60000"/>
<polygon points="149.6,1019.0 158.4,1018.4 163.0,1009.1 154.2,1009.5" fill="#b6ff49"/>
<polygon points="122.4,1059.8 131.2,1058.6 135.8,1048.4 127.0,1049.4" fill="#00f7ff"/>
<polygon points="248.3,937.4 257.1,937.6 261.7,931.2 252.9,930.9" fill="#c20000"/>
<polygon points="203.6,966.0 212.3,965.9 217.0,958.3 208.2,958.2" fill="#ff4a00"/>
<polygon points="261.7,931.2 270.5,931.4 275.1,925.4 266.3,925.1" fill="#a10000"/>
<polygon points="275.1,925.4 283.9,925.5 288.5,919.9 279.7,919.6" fill="#840000"/>
<polygon points="167.6,1000.0 176.4,999.6 181.0,990.9 172.2,991.1" fill="#ffe700"/>
<polygon points="185.6,982.4 194.4,982.1 199.0,974.0 190.2,974.0" fill="#ff9200"/>
<polygon points="145.0,1028.6 153.8,1027.8 158.4,1018.4 149.6,1019.0" fill="#94ff6b"/>
<polygon points="217.0,958.3 225.7,958.3 230.3,951.0 221.6,950.9" fill="#ff1b00"/>
<polygon points="140.4,1038.4 149.2,1037.5 153.8,1027.8 145.0,1028.6" fill="#71ff8e"/>
<polygon points="163.0,1009.1 171.8,1008.5 176.4,999.6 167.6,1000.0" fill="#fbff04"/>
<polygon points="230.3,951.0 239.1,951.0 243.7,944.1 235.0,944.0" fill="#ee0000"/>
<polygon points="199.0,974.0 207.7,973.7 212.3,965.9 203.6,966.0" fill="#ff5c00"/>
<polygon points="181.0,990.9 189.8,990.5 194.4,982.1 185.6,982.4" fill="#ffa900"/>
<polygon points="135.8,1048.4 144.6,1047.3 149.2,1037.5 140.4,1038.4" fill="#4cffb3"/>
<polygon points="243.7,944.1 252.5,944.1 257.1,937.6 248.3,937.4" fill="#c60000"/>
<polygon points="257.1,937.6 265.9,937.5 270.5,931.4 261.7,931.2" fill="#a20000"/>
<polygon points="158.4,1018.4 167.2,1017.6 171.8,1008.5 163.0,1009.1" fill="#ddff22"/>
<polygon points="212.3,965.9 221.1,965.7 225.7,958.3 217.0,958.3" fill="#ff2900"/>
<polygon points="270.5,931.4 279.2,931.3 283.9,925.5 275.1,925.4" fill="#810000"/>
<polygon points="131.2,1058.6 139.9,1057.3 144.6,1047.3 135.8,1048.4" fill="#25ffda"/>
<polygon points="176.4,999.6 185.1,999.0 189.8,990.5 181.0,990.9" fill="#ffc100"/>
<polygon points="194.4,982.1 203.1,981.7 207.7,973.7 199.0,974.0" fill="#ff6e00"/>
<polygon points="153.8,1027.8 162.5,1026.9 167.2,1017.6 158.4,1018.4" fill="#beff41"/>
<polygon points="225.7,958.3 234.5,958.1 239.1,951.0 230.3,951.0" fill="#f80000"/>
<polygon points="239.1,951.0 247.9,950.8 252.5,944.1 243.7,944.1" fill="#cc0000"/>
<polygon points="171.8,1008.5 180.5,1007.7 185.1,999.0 176.4,999.6" fill="#ffdb00"/>
<polygon points="207.7,973.7 216.5,973.3 221.1,965.7 212.3,965.9" fill="#ff3800"/>
<polygon points="149.2,1037.5 157.9,1036.3 162.5,1026.9 153.8,1027.8" fill="#9cff63"/>
<polygon points="189.8,990.5 198.5,989.9 203.1,981.7 194.4,982.1" fill="#ff8300"/>
<polygon points="252.5,944.1 261.3,943.8 265.9,937.5 257.1,937.6" fill="#a40000"/>
<polygon points="265.9,937.5 274.6,937.3 279.2,931.3 270.5,931.4" fill="#800000"/>
<polygon points="144.6,1047.3 153.3,1045.9 157.9,1036.3 149.2,1037.5" fill="#79ff86"/>
<polygon points="221.1,965.7 229.9,965.3 234.5,958.1 225.7,958.3" fill="#ff0500"/>
<polygon points="167.2,1017.6 175.9,1016.6 180.5,1007.7 171.8,1008.5" fill="#fff700"/>
<polygon points="203.1,981.7 211.9,981.1 216.5,973.3 207.7,973.7" fill="#ff4900"/>
<polygon points="139.9,1057.3 148.7,1055.7 153.3,1045.9 144.6,1047.3" fill="#54ffab"/>
<polygon points="185.1,999.0 193.9,998.2 198.5,989.9 189.8,990.5" fill="#ff9a00"/>
<polygon points="234.5,958.1 243.3,957.7 247.9,950.8 239.1,951.0" fill="#d40000"/>
<polygon points="162.5,1026.9 171.3,1025.7 175.9,1016.6 167.2,1017.6" fill="#e9ff16"/>
<polygon points="247.9,950.8 256.7,950.4 261.3,943.8 252.5,944.1" fill="#a90000"/>
<polygon points="216.5,973.3 225.3,972.7 229.9,965.3 221.1,965.7" fill="#ff1200"/>
<polygon points="180.5,1007.7 189.3,1006.8 193.9,998.2 185.1,999.0" fill="#ffb200"/>
<polygon points="261.3,943.8 270.0,943.4 274.6,937.3 265.9,937.5" fill="#810000"/>
<polygon points="198.5,989.9 207.3,989.1 211.9,981.1 203.1,981.7" fill="#ff5c00"/>
<polygon points="157.9,1036.3 166.7,1035.0 171.3,1025.7 162.5,1026.9" fill="#c9ff36"/>
<polygon points="229.9,965.3 238.7,964.7 243.3,957.7 234.5,958.1" fill="#de0000"/>
<polygon points="153.3,1045.9 162.1,1044.4 166.7,1035.0 157.9,1036.3" fill="#a8ff57"/>
<polygon points="175.9,1016.6 184.7,1015.5 189.3,1006.8 180.5,1007.7" fill="#ffcc00"/>
<polygon points="211.9,981.1 220.7,980.4 225.3,972.7 216.5,973.3" fill="#ff2200"/>
<polygon points="193.9,998.2 202.7,997.3 207.3,989.1 198.5,989.9" fill="#ff7100"/>
<polygon points="243.3,957.7 252.0,957.1 256.7,950.4 247.9,950.8" fill="#af0000"/>
<polygon points="148.7,1055.7 157.5,1054.0 162.1,1044.4 153.3,1045.9" fill="#85ff7a"/>
<polygon points="171.3,1025.7 180.1,1024.4 184.7,1015.5 175.9,1016.6" fill="#ffe800"/>
<polygon points="256.7,950.4 265.4,949.8 270.0,943.4 261.3,943.8" fill="#830000"/>
<polygon points="225.3,972.7 234.1,972.0 238.7,964.7 229.9,965.3" fill="#ea0000"/>
<polygon points="189.3,1006.8 198.1,1005.6 202.7,997.3 193.9,998.2" fill="#ff8700"/>
<polygon points="207.3,989.1 216.1,988.1 220.7,980.4 211.9,981.1" fill="#ff3300"/>
<polygon points="166.7,1035.0 175.5,1033.5 180.1,1024.4 171.3,1025.7" fill="#f8ff07"/>
<polygon points="238.7,964.7 247.4,963.9 252.0,957.1 243.3,957.7" fill="#b70000"/>
<polygon points="184.7,1015.5 193.5,1014.1 198.1,1005.6 189.3,1006.8" fill="#ff9f00"/>
<polygon points="162.1,1044.4 170.9,1042.7 175.5,1033.5 166.7,1035.0" fill="#d8ff27"/>
<polygon points="220.7,980.4 229.4,979.4 234.1,972.0 225.3,972.7" fill="#f70000"/>
<polygon points="252.0,957.1 260.8,956.3 265.4,949.8 256.7,950.4" fill="#880000"/>
<polygon points="202.7,997.3 211.5,996.1 216.1,988.1 207.3,989.1" fill="#ff4500"/>
<polygon points="157.5,1054.0 166.2,1052.2 170.9,1042.7 162.1,1044.4" fill="#b7ff48"/>
<polygon points="180.1,1024.4 188.9,1022.9 193.5,1014.1 184.7,1015.5" fill="#ffb900"/>
<polygon points="234.1,972.0 242.8,971.0 247.4,963.9 238.7,964.7" fill="#c10000"/>
<polygon points="198.1,1005.6 206.8,1004.3 211.5,996.1 202.7,997.3" fill="#ff5a00"/>
<polygon points="216.1,988.1 224.8,987.0 229.4,979.4 220.7,980.4" fill="#ff0800"/>
<polygon points="247.4,963.9 256.2,963.0 260.8,956.3 252.0,957.1" fill="#8e0000"/>
<polygon points="175.5,1033.5 184.2,1031.7 188.9,1022.9 180.1,1024.4" fill="#ffd500"/>
<polygon points="229.4,979.4 238.2,978.2 242.8,971.0 234.1,972.0" fill="#cc0000"/>
<polygon points="193.5,1014.1 202.2,1012.6 206.8,1004.3 198.1,1005.6" fill="#ff7100"/>
<polygon points="170.9,1042.7 179.6,1040.8 184.2,1031.7 175.5,1033.5" fill="#fff300"/>
<polygon points="211.5,996.1 220.2,994.8 224.8,987.0 216.1,988.1" fill="#ff1900"/>
<polygon points="242.8,971.0 251.6,969.9 256.2,963.0 247.4,963.9" fill="#960000"/>
<polygon points="166.2,1052.2 175.0,1050.1 179.6,1040.8 170.9,1042.7" fill="#ebff14"/>
<polygon points="188.9,1022.9 197.6,1021.2 202.2,1012.6 193.5,1014.1" fill="#ff8900"/>
<polygon points="224.8,987.0 233.6,985.7 238.2,978.2 229.4,979.4" fill="#da0000"/>
<polygon points="206.8,1004.3 215.6,1002.8 220.2,994.8 211.5,996.1" fill="#ff2b00"/>
<polygon points="184.2,1031.7 193.0,1029.9 197.6,1021.2 188.9,1022.9" fill="#ffa300"/>
<polygon points="238.2,978.2 247.0,976.9 251.6,969.9 242.8,971.0" fill="#9f0000"/>
<polygon points="202.2,1012.6 211.0,1010.9 215.6,1002.8 206.8,1004.3" fill="#ff4000"/>
<polygon points="220.2,994.8 229.0,993.3 233.6,985.7 224.8,987.0" fill="#e90000"/>
<polygon points="179.6,1040.8 188.4,1038.7 193.0,1029.9 184.2,1031.7" fill="#ffbf00"/>
<polygon points="197.6,1021.2 206.4,1019.3 211.0,1010.9 202.2,1012.6" fill="#ff5600"/>
<polygon points="175.0,1050.1 183.8,1047.8 188.4,1038.7 179.6,1040.8" fill="#ffdd00"/>
<polygon points="233.6,985.7 242.4,984.2 247.0,976.9 238.2,978.2" fill="#ab0000"/>
<polygon points="215.6,1002.8 224.4,1001.1 229.0,993.3 220.2,994.8" fill="#fa0000"/>
<polygon points="193.0,1029.9 201.8,1027.8 206.4,1019.3 197.6,1021.2" fill="#ff6f00"/>
<polygon points="211.0,1010.9 219.8,1009.0 224.4,1001.1 215.6,1002.8" fill="#ff0e00"/>
<polygon points="229.0,993.3 237.8,991.6 242.4,984.2 233.6,985.7" fill="#b80000"/>
<polygon points="188.4,1038.7 197.2,1036.5 201.8,1027.8 193.0,1029.9" fill="#ff8900"/>
<polygon points="206.4,1019.3 215.2,1017.2 219.8,1009.0 211.0,1010.9" fill="#ff2200"/>
<polygon points="183.8,1047.8 192.6,1045.4 197.2,1036.5 188.4,1038.7" fill="#ffa500"/>
<polygon points="224.4,1001.1 233.2,999.2 237.8,991.6 229.0,993.3" fill="#c70000"/>
<polygon points="201.8,1027.8 210.6,1025.5 215.2,1017.2 206.4,1019.3" fill="#ff3900"/>
<polygon points="219.8,1009.0 228.5,1007.0 233.2,999.2 224.4,1001.1" fill="#d80000"/>
<polygon points="197.2,1036.5 205.9,1034.0 210.6,1025.5 201.8,1027.8" fill="#ff5100"/>
<polygon points="215.2,1017.2 223.9,1014.9 228.5,1007.0 219.8,1009.0" fill="#eb0000"/>
<polygon points="192.6,1045.4 201.3,1042.7 205.9,1034.0 197.2,1036.5" fill="#ff6b00"/>
<polygon points="210.6,1025.5 219.3,1023.1 223.9,1014.9 215.2,1017.2" fill="#ff0100"/>
<polygon points="205.9,1034.0 214.7,1031.4 219.3,1023.1 210.6,1025.5" fill="#ff1700"/>
<polygon points="201.3,1042.7 210.1,1039.9 214.7,1031.4 205.9,1034.0" fill="#ff2f00"/>
</g>
<line x1="34.70" y1="1066.90" x2="31.20" y2="1066.30" stroke="#6e6e6e" stroke-width="0.8"/>
<text transform="translate(26.0 1069.3) scale(0.85 1)" font-size="10" text-anchor="end" class="s">70</text>
<line x1="34.70" y1="1045.20" x2="31.20" y2="1044.60" stroke="#6e6e6e" stroke-width="0.8"/>
<text transform="translate(26.0 1047.6) scale(0.85 1)" font-size="10" text-anchor="end" class="s">75</text>
<line x1="34.70" y1="1023.50" x2="31.20" y2="1022.90" stroke="#6e6e6e" stroke-width="0.8"/>
<text transform="translate(26.0 1025.9) scale(0.85 1)" font-size="10" text-anchor="end" class="s">80</text>
<line x1="34.70" y1="1001.80" x2="31.20" y2="1001.20" stroke="#6e6e6e" stroke-width="0.8"/>
<text transform="translate(26.0 1004.2) scale(0.85 1)" font-size="10" text-anchor="end" class="s">85</text>
<line x1="34.70" y1="980.10" x2="31.20" y2="979.50" stroke="#6e6e6e" stroke-width="0.8"/>
<text transform="translate(26.0 982.5) scale(0.85 1)" font-size="10" text-anchor="end" class="s">90</text>
<line x1="34.70" y1="958.40" x2="31.20" y2="957.80" stroke="#6e6e6e" stroke-width="0.8"/>
<text transform="translate(26.0 960.8) scale(0.85 1)" font-size="10" text-anchor="end" class="s">95</text>
<line x1="34.70" y1="936.70" x2="31.20" y2="936.10" stroke="#6e6e6e" stroke-width="0.8"/>
<text transform="translate(26.0 939.1) scale(0.85 1)" font-size="10" text-anchor="end" class="s">100</text>
<line x1="34.70" y1="1066.90" x2="32.90" y2="1070.70" stroke="#6e6e6e" stroke-width="0.8"/>
<text transform="translate(31.1 1083.7) scale(0.85 1)" font-size="10" text-anchor="end" class="s">8</text>
<line x1="122.40" y1="1098.85" x2="120.60" y2="1102.65" stroke="#6e6e6e" stroke-width="0.8"/>
<text transform="translate(118.8 1115.6) scale(0.85 1)" font-size="10" text-anchor="end" class="s">6</text>
<line x1="210.10" y1="1130.80" x2="208.30" y2="1134.60" stroke="#6e6e6e" stroke-width="0.8"/>
<text transform="translate(206.5 1147.6) scale(0.85 1)" font-size="10" text-anchor="end" class="s">4</text>
<line x1="210.10" y1="1130.80" x2="214.60" y2="1132.30" stroke="#6e6e6e" stroke-width="0.8"/>
<text transform="translate(217.8 1143.4) scale(0.85 1)" font-size="10" text-anchor="start" class="s">0.1</text>
<line x1="256.20" y1="1070.05" x2="260.70" y2="1071.55" stroke="#6e6e6e" stroke-width="0.8"/>
<text transform="translate(263.9 1082.6) scale(0.85 1)" font-size="10" text-anchor="start" class="s">0.3</text>
<line x1="302.30" y1="1009.30" x2="306.80" y2="1010.80" stroke="#6e6e6e" stroke-width="0.8"/>
<text transform="translate(310.0 1021.9) scale(0.85 1)" font-size="10" text-anchor="start" class="s">0.5</text>
<text transform="translate(8.5 1002.0) rotate(-90)" font-size="9.5" text-anchor="middle" class="b">AMO removal (%)</text>
<text x="139.0" y="1142.9" font-size="9.5" text-anchor="middle" class="b">pH</text>
<text x="288.0" y="1125.4" font-size="9.5" text-anchor="middle" class="b">Catalyst (g/L)</text>
<text x="149.8" y="802.2" font-size="16" text-anchor="middle" class="t">(c1)</text>
<rect x="394.10" y="66.00" width="232.60" height="232.60" fill="#000080"/>
<path d="M395.6,298.6 566.8,298.6 581.4,290.6 596.0,283.6 610.6,277.7 619.4,274.6 626.7,272.3 626.7,66.0 394.1,66.0 394.1,298.6Z" fill="#0015ff" fill-rule="evenodd"/>
<path d="M395.6,298.6 496.8,298.6 505.3,290.4 512.6,283.6 521.4,275.9 528.7,269.9 536.0,264.1 544.8,257.7 552.1,252.8 560.9,247.2 569.6,242.2 577.0,238.4 584.3,234.9 593.1,231.1 601.8,227.7 609.1,225.3 617.9,222.7 626.7,220.6 626.7,66.0 394.1,66.0 394.1,298.6Z" fill="#00f0ff" fill-rule="evenodd"/>
<path d="M395.6,298.6 443.6,298.6 457.0,280.0 468.7,264.5 480.4,249.9 492.1,236.2 503.8,223.4 514.1,213.1 525.8,202.4 536.0,194.0 547.7,185.4 557.9,178.9 568.2,173.3 574.0,170.5 579.9,168.0 585.7,165.7 591.6,163.7 597.4,162.0 603.3,160.5 615.0,158.2 626.7,156.8 626.7,66.0 394.1,66.0 394.1,298.6Z" fill="#ccff33" fill-rule="evenodd"/>
<path d="M395.6,298.6 398.9,298.6 429.2,241.4 455.5,193.1 467.2,172.2 477.5,154.5 486.3,139.7 495.0,125.5 502.4,114.2 509.7,103.5 515.5,95.5 521.4,88.0 527.2,81.2 533.1,75.0 538.9,69.6 543.4,66.0 394.1,66.0 394.1,298.6Z" fill="#ff5700" fill-rule="evenodd"/>
<path d="M394.1,205.0 399.5,187.4 404.5,169.9 408.5,153.8 411.6,139.1 414.2,124.5 415.9,111.3 417.0,98.2 417.3,85.0 417.1,74.8 416.4,66.0 394.1,66.0 394.1,205.0Z" fill="#800000" fill-rule="evenodd"/>
<path d="M566.8,298.6 581.4,290.6 596.0,283.6 610.6,277.7 619.4,274.6 626.7,272.3" fill="none" stroke="#262626" stroke-width="0.5"/>
<path d="M496.8,298.6 505.3,290.4 512.6,283.6 521.4,275.9 528.7,269.9 536.0,264.1 544.8,257.7 552.1,252.8 560.9,247.2 569.6,242.2 577.0,238.4 584.3,234.9 593.1,231.1 601.8,227.7 609.1,225.3 617.9,222.7 626.7,220.6" fill="none" stroke="#262626" stroke-width="0.5"/>
<path d="M443.6,298.6 457.0,280.0 468.7,264.5 480.4,249.9 492.1,236.2 503.8,223.4 514.1,213.1 525.8,202.4 536.0,194.0 547.7,185.4 557.9,178.9 568.2,173.3 574.0,170.5 579.9,168.0 585.7,165.7 591.6,163.7 597.4,162.0 603.3,160.5 615.0,158.2 626.7,156.8" fill="none" stroke="#262626" stroke-width="0.5"/>
<path d="M398.9,298.6 429.2,241.4 454.1,195.7 474.6,159.5 483.3,144.6 492.1,130.2 499.4,118.7 506.7,107.7 514.1,97.5 519.9,89.9 525.8,82.8 531.6,76.5 537.5,70.9 543.4,66.0" fill="none" stroke="#262626" stroke-width="0.5"/>
<path d="M394.1,205.0 400.4,184.5 406.0,164.0 410.4,145.0 413.7,127.4 415.9,111.3 416.7,102.6 417.1,95.3 417.3,87.9 417.3,80.6 417.0,73.3 416.4,66.0" fill="none" stroke="#262626" stroke-width="0.5"/>
<rect x="394.10" y="66.00" width="232.60" height="232.60" fill="none" stroke="#3a3a3a" stroke-width="0.7"/>
<line x1="394.10" y1="298.60" x2="394.10" y2="296.10" stroke="#3a3a3a" stroke-width="0.6"/>
<line x1="394.10" y1="66.00" x2="394.10" y2="68.50" stroke="#3a3a3a" stroke-width="0.6"/>
<text transform="translate(394.1 311.9) scale(0.85 1)" font-size="10" text-anchor="middle" class="s">1</text>
<line x1="510.40" y1="298.60" x2="510.40" y2="296.10" stroke="#3a3a3a" stroke-width="0.6"/>
<line x1="510.40" y1="66.00" x2="510.40" y2="68.50" stroke="#3a3a3a" stroke-width="0.6"/>
<text transform="translate(510.4 311.9) scale(0.85 1)" font-size="10" text-anchor="middle" class="s">1.5</text>
<line x1="626.70" y1="298.60" x2="626.70" y2="296.10" stroke="#3a3a3a" stroke-width="0.6"/>
<line x1="626.70" y1="66.00" x2="626.70" y2="68.50" stroke="#3a3a3a" stroke-width="0.6"/>
<text transform="translate(626.7 311.9) scale(0.85 1)" font-size="10" text-anchor="middle" class="s">2</text>
<line x1="394.10" y1="298.60" x2="396.60" y2="298.60" stroke="#3a3a3a" stroke-width="0.6"/>
<line x1="626.70" y1="298.60" x2="624.20" y2="298.60" stroke="#3a3a3a" stroke-width="0.6"/>
<text transform="translate(390.1 302.0) scale(0.85 1)" font-size="10" text-anchor="end" class="s">0.1</text>
<line x1="394.10" y1="182.30" x2="396.60" y2="182.30" stroke="#3a3a3a" stroke-width="0.6"/>
<line x1="626.70" y1="182.30" x2="624.20" y2="182.30" stroke="#3a3a3a" stroke-width="0.6"/>
<text transform="translate(390.1 185.7) scale(0.85 1)" font-size="10" text-anchor="end" class="s">0.3</text>
<line x1="394.10" y1="66.00" x2="396.60" y2="66.00" stroke="#3a3a3a" stroke-width="0.6"/>
<line x1="626.70" y1="66.00" x2="624.20" y2="66.00" stroke="#3a3a3a" stroke-width="0.6"/>
<text transform="translate(390.1 69.4) scale(0.85 1)" font-size="10" text-anchor="end" class="s">0.5</text>
<text x="510.9" y="323.4" font-size="9.5" text-anchor="middle" class="b">[AMO] (<tspan font-style="italic">μ</tspan>M)</text>
<text transform="translate(374.2 182.0) rotate(-90)" font-size="9.5" text-anchor="middle" class="b">Catalyst (g/L)</text>
<defs><linearGradient id="ga" x1="0" y1="1" x2="0" y2="0"><stop offset="0.000" stop-color="#0000a0"/><stop offset="0.025" stop-color="#0000bf"/><stop offset="0.050" stop-color="#0000dd"/><stop offset="0.075" stop-color="#0000fb"/><stop offset="0.100" stop-color="#001bff"/><stop offset="0.125" stop-color="#0039ff"/><stop offset="0.150" stop-color="#0058ff"/><stop offset="0.175" stop-color="#0076ff"/><stop offset="0.200" stop-color="#0094ff"/><stop offset="0.225" stop-color="#00b3ff"/><stop offset="0.250" stop-color="#00d1ff"/><stop offset="0.275" stop-color="#00efff"/><stop offset="0.300" stop-color="#0ffff0"/><stop offset="0.325" stop-color="#2dffd2"/><stop offset="0.350" stop-color="#4cffb3"/><stop offset="0.375" stop-color="#6aff95"/><stop offset="0.400" stop-color="#88ff77"/><stop offset="0.425" stop-color="#a7ff58"/><stop offset="0.450" stop-color="#c5ff3a"/><stop offset="0.475" stop-color="#e3ff1c"/><stop offset="0.500" stop-color="#fffc00"/><stop offset="0.525" stop-color="#ffde00"/><stop offset="0.550" stop-color="#ffc000"/><stop offset="0.575" stop-color="#ffa100"/><stop offset="0.600" stop-color="#ff8300"/><stop offset="0.625" stop-color="#ff6400"/><stop offset="0.650" stop-color="#ff4600"/><stop offset="0.675" stop-color="#ff2800"/><stop offset="0.700" stop-color="#ff0900"/><stop offset="0.725" stop-color="#ea0000"/><stop offset="0.750" stop-color="#cc0000"/><stop offset="0.775" stop-color="#ad0000"/><stop offset="0.800" stop-color="#8f0000"/><stop offset="0.825" stop-color="#800000"/><stop offset="0.850" stop-color="#800000"/><stop offset="0.875" stop-color="#800000"/><stop offset="0.900" stop-color="#800000"/><stop offset="0.925" stop-color="#800000"/><stop offset="0.950" stop-color="#800000"/><stop offset="0.975" stop-color="#800000"/><stop offset="1.000" stop-color="#800000"/></linearGradient></defs>
<rect x="636.3" y="65.5" width="13.5" height="232.4" fill="url(#ga)" stroke="#3a3a3a" stroke-width="0.7"/>
<line x1="647.30" y1="275.71" x2="649.80" y2="275.71" stroke="#3a3a3a" stroke-width="0.6"/>
<text transform="translate(653.8 278.3) scale(0.85 1)" font-size="10" text-anchor="start" class="s">75</text>
<line x1="647.30" y1="233.83" x2="649.80" y2="233.83" stroke="#3a3a3a" stroke-width="0.6"/>
<text transform="translate(653.8 236.4) scale(0.85 1)" font-size="10" text-anchor="start" class="s">80</text>
<line x1="647.30" y1="191.96" x2="649.80" y2="191.96" stroke="#3a3a3a" stroke-width="0.6"/>
<text transform="translate(653.8 194.5) scale(0.85 1)" font-size="10" text-anchor="start" class="s">85</text>
<line x1="647.30" y1="150.09" x2="649.80" y2="150.09" stroke="#3a3a3a" stroke-width="0.6"/>
<text transform="translate(653.8 152.7) scale(0.85 1)" font-size="10" text-anchor="start" class="s">90</text>
<line x1="647.30" y1="108.21" x2="649.80" y2="108.21" stroke="#3a3a3a" stroke-width="0.6"/>
<text transform="translate(653.8 110.8) scale(0.85 1)" font-size="10" text-anchor="start" class="s">95</text>
<line x1="647.30" y1="66.34" x2="649.80" y2="66.34" stroke="#3a3a3a" stroke-width="0.6"/>
<text transform="translate(653.8 68.9) scale(0.85 1)" font-size="10" text-anchor="start" class="s">100</text>
<text transform="translate(680.4 182.3) rotate(-90)" font-size="9.5" text-anchor="middle" class="b">AMO removal (%)</text>
<text x="514.8" y="11.6" font-size="16" text-anchor="middle" class="t">(a2)</text>
<rect x="395.20" y="462.00" width="232.40" height="232.30" fill="#000080"/>
<path d="M396.7,694.3 627.6,694.3 627.6,482.6 622.0,478.1 617.4,473.7 612.1,467.8 607.5,462.0 395.2,462.0 395.2,694.3Z" fill="#0000a8" fill-rule="evenodd"/>
<path d="M396.7,694.3 627.6,694.3 627.6,524.8 621.8,522.1 617.4,519.8 608.6,514.5 604.2,511.4 599.1,507.3 595.4,504.1 591.1,499.8 587.2,495.6 583.8,491.4 580.4,486.8 577.4,482.5 574.7,478.1 571.6,472.2 569.1,467.2 566.9,462.0 395.2,462.0 395.2,694.3Z" fill="#0002ff" fill-rule="evenodd"/>
<path d="M396.7,694.3 627.6,694.3 627.6,558.6 618.8,556.1 610.1,552.9 602.6,549.7 594.2,545.3 587.1,540.9 580.8,536.5 573.8,530.7 567.7,524.7 561.8,518.2 556.8,511.7 551.9,504.4 547.7,497.1 543.5,488.3 539.9,479.5 537.0,470.8 534.6,462.0 395.2,462.0 395.2,694.3Z" fill="#005cff" fill-rule="evenodd"/>
<path d="M396.7,694.3 627.6,694.3 627.6,587.7 615.9,585.6 604.2,582.6 593.1,578.9 588.1,576.9 582.3,574.2 577.1,571.6 572.1,568.7 563.0,562.8 558.9,559.7 553.8,555.5 550.1,552.2 545.7,547.9 542.0,543.8 538.4,539.5 531.9,530.7 528.2,524.9 525.7,520.4 520.5,510.2 518.0,504.4 515.8,498.5 512.1,487.1 509.2,475.1 506.9,462.0 395.2,462.0 395.2,694.3Z" fill="#00b5ff" fill-rule="evenodd"/>
<path d="M396.7,694.3 627.6,694.3 627.6,613.7 620.3,613.0 613.0,612.1 605.7,611.0 598.4,609.5 591.1,607.7 583.8,605.5 576.4,603.0 570.6,600.7 564.4,597.9 557.4,594.3 551.6,590.9 545.7,587.1 540.4,583.3 535.0,578.9 530.1,574.5 525.3,569.8 520.9,565.0 516.5,559.7 512.3,554.0 508.4,548.2 504.9,542.4 501.8,536.5 498.9,530.7 495.8,523.4 493.0,516.1 490.6,508.8 488.6,501.4 486.9,494.1 485.4,486.8 484.0,478.1 483.1,470.8 482.3,462.0 395.2,462.0 395.2,694.3Z" fill="#10ffef" fill-rule="evenodd"/>
<path d="M396.7,694.3 627.6,694.3 627.6,637.3 615.9,636.9 605.7,636.0 595.4,634.7 585.2,632.8 575.0,630.4 566.2,627.7 557.4,624.6 548.7,620.8 540.8,616.9 532.6,612.1 525.3,607.2 518.0,601.6 510.7,595.2 504.8,589.3 499.0,582.7 493.1,575.1 489.7,570.1 485.8,564.0 482.7,558.4 479.0,551.1 476.3,545.3 473.4,538.0 471.2,531.8 469.0,524.8 467.0,517.5 465.3,510.2 463.8,502.9 462.4,494.3 461.5,486.8 460.7,478.1 459.9,462.0 395.2,462.0 395.2,694.3Z" fill="#69ff96" fill-rule="evenodd"/>
<path d="M396.7,694.3 627.6,694.3 627.6,659.1 615.9,659.3 604.2,658.9 592.5,658.0 582.3,656.7 570.6,654.6 560.4,652.1 550.1,649.1 541.4,645.9 531.6,641.7 523.0,637.3 515.1,632.7 506.8,627.1 499.0,621.0 491.7,614.4 485.5,608.1 479.2,600.8 474.1,594.2 469.6,587.6 465.2,580.3 461.0,572.5 457.1,564.3 454.1,557.0 450.9,548.2 448.2,539.4 445.9,530.7 444.0,521.9 442.5,513.1 441.0,502.9 440.0,492.7 439.4,482.5 439.2,472.2 439.2,462.0 395.2,462.0 395.2,694.3Z" fill="#c3ff3c" fill-rule="evenodd"/>
<path d="M396.7,694.3 627.6,694.3 627.6,679.5 613.0,680.2 598.4,680.2 583.8,679.4 570.6,677.9 557.4,675.6 544.3,672.4 532.6,668.7 520.9,664.2 513.6,660.8 506.3,657.0 499.0,652.7 491.7,647.9 485.4,643.2 478.5,637.4 472.2,631.5 466.6,625.6 460.4,618.3 454.9,611.0 449.3,602.5 444.1,593.5 439.7,584.7 435.9,576.0 432.1,565.7 428.9,555.5 426.3,545.3 423.8,533.6 422.2,523.4 420.8,511.7 419.9,500.0 419.4,486.8 419.4,475.1 419.9,462.0 395.2,462.0 395.2,694.3Z" fill="#ffe200" fill-rule="evenodd"/>
<path d="M396.7,694.3 538.4,694.3 529.7,692.0 520.9,689.4 512.1,686.2 504.8,683.2 497.4,679.7 489.2,675.3 481.9,670.9 475.4,666.5 468.3,661.2 462.4,656.3 456.2,650.5 450.5,644.6 444.9,638.2 439.6,631.5 434.5,624.2 429.9,616.9 425.8,609.6 421.5,600.8 418.3,593.5 414.9,584.7 411.9,576.0 409.4,567.2 407.2,558.4 405.1,548.2 403.4,538.0 402.2,527.7 401.2,517.5 400.7,507.3 400.4,497.1 400.5,485.4 401.0,473.7 401.8,462.0 395.2,462.0 395.2,694.3Z" fill="#ff8800" fill-rule="evenodd"/>
<path d="M396.7,694.3 475.1,694.3 468.3,690.2 461.1,685.5 455.1,681.1 449.3,676.5 443.4,671.3 437.6,665.6 431.7,659.3 426.8,653.4 421.5,646.5 417.1,640.1 412.7,632.9 408.6,625.6 404.9,618.3 401.0,609.7 398.1,602.3 395.2,594.1 395.2,694.3Z" fill="#ff2f00" fill-rule="evenodd"/>
<path d="M396.7,694.3 434.7,694.3 428.8,689.2 423.5,684.1 417.9,678.2 412.8,672.4 408.1,666.5 403.8,660.7 399.6,654.3 395.2,647.1 395.2,694.3Z" fill="#d50000" fill-rule="evenodd"/>
<path d="M396.7,694.3 402.5,694.3 395.2,685.8 395.2,694.3Z" fill="#800000" fill-rule="evenodd"/>
<path d="M627.6,482.6 622.0,478.1 617.4,473.7 612.1,467.8 607.5,462.0" fill="none" stroke="#262626" stroke-width="0.5"/>
<path d="M627.6,524.8 621.8,522.1 617.4,519.8 608.6,514.5 604.2,511.4 599.1,507.3 595.4,504.1 591.1,499.8 587.2,495.6 583.8,491.4 580.4,486.8 577.4,482.5 574.7,478.1 571.6,472.2 569.1,467.2 566.9,462.0" fill="none" stroke="#262626" stroke-width="0.5"/>
<path d="M627.6,558.6 618.8,556.1 610.1,552.9 602.6,549.7 594.2,545.3 587.1,540.9 580.8,536.5 573.8,530.7 567.7,524.7 561.8,518.2 556.8,511.7 551.9,504.4 547.7,497.1 543.5,488.3 539.9,479.5 537.0,470.8 534.6,462.0" fill="none" stroke="#262626" stroke-width="0.5"/>
<path d="M627.6,587.7 615.9,585.6 604.2,582.6 593.1,578.9 588.1,576.9 582.3,574.2 577.1,571.6 572.1,568.7 563.0,562.8 558.9,559.7 553.8,555.5 550.1,552.2 545.7,547.9 542.0,543.8 538.4,539.5 531.9,530.7 528.2,524.9 525.7,520.4 520.5,510.2 518.0,504.4 515.8,498.5 512.1,487.1 509.2,475.1 506.9,462.0" fill="none" stroke="#262626" stroke-width="0.5"/>
<path d="M627.6,613.7 620.3,613.0 613.0,612.1 605.7,611.0 598.4,609.5 591.1,607.7 583.8,605.5 576.4,603.0 570.6,600.7 564.4,597.9 557.4,594.3 551.6,590.9 545.7,587.1 540.4,583.3 535.0,578.9 530.1,574.5 525.3,569.8 520.9,565.0 516.5,559.7 512.3,554.0 508.4,548.2 504.9,542.4 501.8,536.5 498.9,530.7 495.8,523.4 493.0,516.1 490.6,508.8 488.6,501.4 486.9,494.1 485.4,486.8 484.0,478.1 483.1,470.8 482.3,462.0" fill="none" stroke="#262626" stroke-width="0.5"/>
<path d="M627.6,637.3 617.4,637.0 608.6,636.3 599.8,635.3 591.1,634.0 582.3,632.2 575.0,630.4 566.2,627.7 558.9,625.2 551.6,622.2 543.5,618.3 537.0,614.8 529.7,610.3 522.5,605.2 517.0,600.8 512.0,596.4 506.0,590.6 500.7,584.7 495.9,578.9 491.6,573.0 486.9,565.7 482.7,558.4 479.0,551.1 475.6,543.5 472.3,535.1 469.4,526.3 467.0,517.5 465.0,508.8 463.3,500.0 462.0,491.2 460.9,481.0 460.3,472.2 459.9,462.0" fill="none" stroke="#262626" stroke-width="0.5"/>
<path d="M627.6,659.1 615.9,659.3 605.7,659.0 595.4,658.3 585.2,657.1 575.0,655.5 565.3,653.4 556.0,650.9 547.2,648.1 538.4,644.7 531.1,641.5 523.0,637.3 515.1,632.7 507.7,627.8 500.4,622.2 493.1,615.8 487.3,610.0 481.4,603.6 475.7,596.4 470.6,589.1 466.0,581.8 462.0,574.5 457.7,565.7 453.7,555.9 450.4,546.7 447.8,538.0 445.2,527.7 443.2,517.5 441.6,507.3 440.4,497.1 439.6,485.4 439.2,473.7 439.2,462.0" fill="none" stroke="#262626" stroke-width="0.5"/>
<path d="M627.6,679.5 614.4,680.2 602.8,680.3 591.1,679.9 579.4,678.9 567.7,677.4 557.4,675.6 547.2,673.2 537.0,670.2 526.7,666.6 518.0,662.9 509.2,658.6 500.1,653.4 491.7,647.9 483.6,641.7 476.8,635.9 469.3,628.6 462.8,621.2 456.6,613.3 451.0,605.2 445.7,596.4 441.1,587.6 436.5,577.4 432.6,567.2 429.3,557.0 426.6,546.7 424.1,535.1 422.2,523.4 420.8,511.7 419.9,500.0 419.4,486.8 419.4,475.1 419.9,462.0" fill="none" stroke="#262626" stroke-width="0.5"/>
<path d="M538.4,694.3 529.7,692.0 520.9,689.4 512.1,686.2 504.8,683.2 497.4,679.7 489.2,675.3 481.9,670.9 475.4,666.5 468.3,661.2 462.4,656.3 456.2,650.5 450.5,644.6 444.9,638.2 439.6,631.5 434.5,624.2 429.9,616.9 425.8,609.6 421.5,600.8 418.3,593.5 414.9,584.7 411.9,576.0 409.4,567.2 407.2,558.4 405.1,548.2 403.4,538.0 402.2,527.7 401.2,517.5 400.7,507.3 400.4,497.1 400.5,485.4 401.0,473.7 401.8,462.0" fill="none" stroke="#262626" stroke-width="0.5"/>
<path d="M475.1,694.3 468.3,690.2 461.1,685.5 455.1,681.1 449.3,676.5 443.4,671.3 437.6,665.6 431.7,659.3 426.8,653.4 421.5,646.5 417.1,640.1 412.7,632.9 408.6,625.6 404.9,618.3 401.0,609.7 398.1,602.3 395.2,594.1" fill="none" stroke="#262626" stroke-width="0.5"/>
<path d="M434.7,694.3 428.8,689.2 423.5,684.1 417.9,678.2 412.8,672.4 408.1,666.5 403.8,660.7 399.6,654.3 395.2,647.1" fill="none" stroke="#262626" stroke-width="0.5"/>
<path d="M402.5,694.3 395.2,685.8" fill="none" stroke="#262626" stroke-width="0.5"/>
<rect x="395.20" y="462.00" width="232.40" height="232.30" fill="none" stroke="#3a3a3a" stroke-width="0.7"/>
<line x1="395.20" y1="694.30" x2="395.20" y2="691.80" stroke="#3a3a3a" stroke-width="0.6"/>
<line x1="395.20" y1="462.00" x2="395.20" y2="464.50" stroke="#3a3a3a" stroke-width="0.6"/>
<text transform="translate(395.2 707.6) scale(0.85 1)" font-size="10" text-anchor="middle" class="s">1</text>
<line x1="511.40" y1="694.30" x2="511.40" y2="691.80" stroke="#3a3a3a" stroke-width="0.6"/>
<line x1="511.40" y1="462.00" x2="511.40" y2="464.50" stroke="#3a3a3a" stroke-width="0.6"/>
<text transform="translate(511.4 707.6) scale(0.85 1)" font-size="10" text-anchor="middle" class="s">1.5</text>
<line x1="627.60" y1="694.30" x2="627.60" y2="691.80" stroke="#3a3a3a" stroke-width="0.6"/>
<line x1="627.60" y1="462.00" x2="627.60" y2="464.50" stroke="#3a3a3a" stroke-width="0.6"/>
<text transform="translate(627.6 707.6) scale(0.85 1)" font-size="10" text-anchor="middle" class="s">2</text>
<line x1="395.20" y1="694.30" x2="397.70" y2="694.30" stroke="#3a3a3a" stroke-width="0.6"/>
<line x1="627.60" y1="694.30" x2="625.10" y2="694.30" stroke="#3a3a3a" stroke-width="0.6"/>
<text transform="translate(391.2 697.7) scale(0.85 1)" font-size="10" text-anchor="end" class="s">4</text>
<line x1="395.20" y1="578.15" x2="397.70" y2="578.15" stroke="#3a3a3a" stroke-width="0.6"/>
<line x1="627.60" y1="578.15" x2="625.10" y2="578.15" stroke="#3a3a3a" stroke-width="0.6"/>
<text transform="translate(391.2 581.5) scale(0.85 1)" font-size="10" text-anchor="end" class="s">6</text>
<line x1="395.20" y1="462.00" x2="397.70" y2="462.00" stroke="#3a3a3a" stroke-width="0.6"/>
<line x1="627.60" y1="462.00" x2="625.10" y2="462.00" stroke="#3a3a3a" stroke-width="0.6"/>
<text transform="translate(391.2 465.4) scale(0.85 1)" font-size="10" text-anchor="end" class="s">8</text>
<text x="512.0" y="718.9" font-size="9.5" text-anchor="middle" class="b">[AMO] (<tspan font-style="italic">μ</tspan>M)</text>
<text transform="translate(382.9 578.0) rotate(-90)" font-size="9.5" text-anchor="middle" class="b">pH</text>
<defs><linearGradient id="gb" x1="0" y1="1" x2="0" y2="0"><stop offset="0.000" stop-color="#00008c"/><stop offset="0.025" stop-color="#0000a5"/><stop offset="0.050" stop-color="#0000be"/><stop offset="0.075" stop-color="#0000d8"/><stop offset="0.100" stop-color="#0000f1"/><stop offset="0.125" stop-color="#000cff"/><stop offset="0.150" stop-color="#0025ff"/><stop offset="0.175" stop-color="#003fff"/><stop offset="0.200" stop-color="#0058ff"/><stop offset="0.225" stop-color="#0072ff"/><stop offset="0.250" stop-color="#008bff"/><stop offset="0.275" stop-color="#00a5ff"/><stop offset="0.300" stop-color="#00beff"/><stop offset="0.325" stop-color="#00d7ff"/><stop offset="0.350" stop-color="#00f1ff"/><stop offset="0.375" stop-color="#0bfff4"/><stop offset="0.400" stop-color="#25ffda"/><stop offset="0.425" stop-color="#3effc1"/><stop offset="0.450" stop-color="#58ffa7"/><stop offset="0.475" stop-color="#71ff8e"/><stop offset="0.500" stop-color="#8bff74"/><stop offset="0.525" stop-color="#a4ff5b"/><stop offset="0.550" stop-color="#beff41"/><stop offset="0.575" stop-color="#d7ff28"/><stop offset="0.600" stop-color="#f1ff0e"/><stop offset="0.625" stop-color="#fff400"/><stop offset="0.650" stop-color="#ffdb00"/><stop offset="0.675" stop-color="#ffc100"/><stop offset="0.700" stop-color="#ffa800"/><stop offset="0.725" stop-color="#ff8e00"/><stop offset="0.750" stop-color="#ff7500"/><stop offset="0.775" stop-color="#ff5b00"/><stop offset="0.800" stop-color="#ff4200"/><stop offset="0.825" stop-color="#ff2800"/><stop offset="0.850" stop-color="#ff0f00"/><stop offset="0.875" stop-color="#f40000"/><stop offset="0.900" stop-color="#db0000"/><stop offset="0.925" stop-color="#c20000"/><stop offset="0.950" stop-color="#a80000"/><stop offset="0.975" stop-color="#8f0000"/><stop offset="1.000" stop-color="#800000"/></linearGradient></defs>
<rect x="636.8" y="461.8" width="14.3" height="231.4" fill="url(#gb)" stroke="#3a3a3a" stroke-width="0.7"/>
<line x1="648.60" y1="686.79" x2="651.10" y2="686.79" stroke="#3a3a3a" stroke-width="0.6"/>
<text transform="translate(655.1 689.4) scale(0.85 1)" font-size="10" text-anchor="start" class="s">78</text>
<line x1="648.60" y1="666.46" x2="651.10" y2="666.46" stroke="#3a3a3a" stroke-width="0.6"/>
<text transform="translate(655.1 669.0) scale(0.85 1)" font-size="10" text-anchor="start" class="s">80</text>
<line x1="648.60" y1="646.13" x2="651.10" y2="646.13" stroke="#3a3a3a" stroke-width="0.6"/>
<text transform="translate(655.1 648.7) scale(0.85 1)" font-size="10" text-anchor="start" class="s">82</text>
<line x1="648.60" y1="625.79" x2="651.10" y2="625.79" stroke="#3a3a3a" stroke-width="0.6"/>
<text transform="translate(655.1 628.4) scale(0.85 1)" font-size="10" text-anchor="start" class="s">84</text>
<line x1="648.60" y1="605.46" x2="651.10" y2="605.46" stroke="#3a3a3a" stroke-width="0.6"/>
<text transform="translate(655.1 608.0) scale(0.85 1)" font-size="10" text-anchor="start" class="s">86</text>
<line x1="648.60" y1="585.13" x2="651.10" y2="585.13" stroke="#3a3a3a" stroke-width="0.6"/>
<text transform="translate(655.1 587.7) scale(0.85 1)" font-size="10" text-anchor="start" class="s">88</text>
<line x1="648.60" y1="564.79" x2="651.10" y2="564.79" stroke="#3a3a3a" stroke-width="0.6"/>
<text transform="translate(655.1 567.4) scale(0.85 1)" font-size="10" text-anchor="start" class="s">90</text>
<line x1="648.60" y1="544.46" x2="651.10" y2="544.46" stroke="#3a3a3a" stroke-width="0.6"/>
<text transform="translate(655.1 547.0) scale(0.85 1)" font-size="10" text-anchor="start" class="s">92</text>
<line x1="648.60" y1="524.12" x2="651.10" y2="524.12" stroke="#3a3a3a" stroke-width="0.6"/>
<text transform="translate(655.1 526.7) scale(0.85 1)" font-size="10" text-anchor="start" class="s">94</text>
<line x1="648.60" y1="503.79" x2="651.10" y2="503.79" stroke="#3a3a3a" stroke-width="0.6"/>
<text transform="translate(655.1 506.4) scale(0.85 1)" font-size="10" text-anchor="start" class="s">96</text>
<line x1="648.60" y1="483.46" x2="651.10" y2="483.46" stroke="#3a3a3a" stroke-width="0.6"/>
<text transform="translate(655.1 486.0) scale(0.85 1)" font-size="10" text-anchor="start" class="s">98</text>
<line x1="648.60" y1="463.12" x2="651.10" y2="463.12" stroke="#3a3a3a" stroke-width="0.6"/>
<text transform="translate(655.1 465.7) scale(0.85 1)" font-size="10" text-anchor="start" class="s">100</text>
<text transform="translate(680.9 577.5) rotate(-90)" font-size="9.5" text-anchor="middle" class="b">AMO removal (%)</text>
<text x="516.3" y="407.5" font-size="16" text-anchor="middle" class="t">(b2)</text>
<rect x="394.10" y="861.80" width="223.90" height="223.50" fill="#000080"/>
<path d="M395.5,1085.3 618.0,1085.3 618.0,861.8 415.6,861.8 410.8,874.5 405.9,885.7 400.3,896.9 394.1,908.3 394.1,1085.3Z" fill="#0002ff" fill-rule="evenodd"/>
<path d="M395.5,1085.3 618.0,1085.3 618.0,861.8 432.5,861.8 429.1,871.6 425.3,881.5 421.0,891.3 416.9,899.8 411.6,909.6 406.6,918.0 400.3,927.9 394.1,936.7 394.1,1085.3Z" fill="#005bff" fill-rule="evenodd"/>
<path d="M395.5,1085.3 618.0,1085.3 618.0,861.8 450.2,861.8 445.8,875.9 441.0,888.5 435.4,901.2 428.7,913.8 421.1,926.5 413.5,937.7 403.8,950.4 394.1,961.8 394.1,1085.3Z" fill="#00b4ff" fill-rule="evenodd"/>
<path d="M395.5,1085.3 618.0,1085.3 618.0,861.8 469.0,861.8 466.9,870.2 464.4,878.7 461.5,887.1 458.2,895.5 455.2,902.6 451.1,911.0 446.6,919.4 442.5,926.5 437.1,934.9 432.1,941.9 426.9,949.0 421.2,956.0 415.2,963.0 408.7,970.0 401.9,977.1 394.1,984.6 394.1,1085.3Z" fill="#0efff1" fill-rule="evenodd"/>
<path d="M395.5,1085.3 618.0,1085.3 618.0,861.8 489.0,861.8 487.0,871.6 484.6,881.5 481.5,891.3 477.9,901.2 473.7,911.0 469.5,919.4 464.0,929.3 458.7,937.7 452.9,946.1 446.4,954.6 439.3,963.0 431.7,971.4 423.3,979.9 414.4,988.3 404.9,996.7 394.1,1005.7 394.1,1085.3Z" fill="#67ff98" fill-rule="evenodd"/>
<path d="M395.5,1085.3 618.0,1085.3 618.0,861.8 510.6,861.8 508.7,874.5 506.4,885.7 503.4,896.9 500.1,906.8 495.4,918.0 490.6,927.9 484.9,937.7 478.4,947.5 470.9,957.4 462.6,967.2 453.3,977.1 444.6,985.5 433.5,995.3 421.5,1005.2 408.5,1015.0 394.1,1025.3 394.1,1085.3Z" fill="#c0ff3f" fill-rule="evenodd"/>
<path d="M395.5,1085.3 618.0,1085.3 618.0,861.8 533.9,861.8 533.3,874.5 532.0,885.7 529.9,896.9 527.5,906.8 524.3,916.6 520.3,926.5 515.5,936.3 510.6,944.7 505.9,951.8 501.8,957.4 497.3,963.0 492.5,968.6 487.3,974.3 481.7,979.9 474.3,986.9 467.9,992.5 461.1,998.1 452.2,1005.2 442.7,1012.2 434.7,1017.8 415.6,1030.5 394.1,1043.7 394.1,1085.3Z" fill="#ffe500" fill-rule="evenodd"/>
<path d="M395.5,1085.3 618.0,1085.3 618.0,861.8 559.8,861.8 560.5,870.2 560.8,877.3 560.9,884.3 560.7,891.3 560.2,898.3 559.6,904.0 558.5,911.0 557.3,916.6 555.9,922.2 554.2,927.9 552.1,933.5 549.7,939.1 546.9,944.7 543.8,950.4 540.2,956.0 537.2,960.2 531.7,967.2 526.8,972.8 521.4,978.5 515.5,984.1 509.2,989.7 502.4,995.3 495.1,1001.0 485.4,1008.0 475.1,1015.0 466.4,1020.6 445.4,1033.3 420.3,1047.3 394.1,1061.1 394.1,1085.3Z" fill="#ff8c00" fill-rule="evenodd"/>
<path d="M395.5,1085.3 618.0,1085.3 618.0,861.8 589.3,861.8 592.1,873.0 594.6,884.3 596.5,894.1 597.7,902.6 598.6,911.0 599.0,918.0 599.0,925.1 598.5,932.1 597.4,939.1 596.1,944.7 593.7,951.8 591.2,957.4 588.0,963.0 584.2,968.6 580.0,973.8 575.6,978.5 570.1,983.7 564.7,988.3 559.3,992.5 551.5,998.1 545.2,1002.4 536.2,1008.0 526.6,1013.6 516.6,1019.2 492.4,1031.9 466.7,1044.5 433.6,1060.0 394.1,1077.8 394.1,1085.3Z" fill="#ff3300" fill-rule="evenodd"/>
<path d="M416.6,1085.3 618.0,1085.3 618.0,1030.0 612.4,1029.5 606.7,1029.3 601.1,1029.5 594.1,1030.0 587.0,1030.9 578.6,1032.3 570.1,1034.1 560.3,1036.4 540.6,1041.8 516.6,1049.2 488.4,1058.8 456.1,1070.4 416.0,1085.3Z" fill="#d90000" fill-rule="evenodd"/>
<path d="M473.0,1085.3 618.0,1085.3 618.0,1081.0 611.0,1078.1 602.5,1075.4 594.1,1073.4 584.2,1071.8 574.3,1070.9 564.5,1070.7 554.6,1070.9 544.8,1071.6 534.9,1072.7 523.7,1074.3 512.4,1076.3 499.7,1078.9 487.0,1081.7 472.8,1085.3Z" fill="#800000" fill-rule="evenodd"/>
<path d="M415.6,861.8 410.8,874.5 405.9,885.7 400.3,896.9 394.1,908.3" fill="none" stroke="#262626" stroke-width="0.5"/>
<path d="M432.5,861.8 429.1,871.6 425.3,881.5 421.0,891.3 416.9,899.8 411.6,909.6 406.6,918.0 400.3,927.9 394.1,936.7" fill="none" stroke="#262626" stroke-width="0.5"/>
<path d="M450.2,861.8 445.8,875.9 441.0,888.5 435.4,901.2 428.7,913.8 421.1,926.5 413.5,937.7 403.8,950.4 394.1,961.8" fill="none" stroke="#262626" stroke-width="0.5"/>
<path d="M469.0,861.8 466.9,870.2 464.4,878.7 461.5,887.1 458.2,895.5 455.2,902.6 451.1,911.0 446.6,919.4 442.5,926.5 437.1,934.9 432.1,941.9 426.9,949.0 421.2,956.0 415.2,963.0 408.7,970.0 401.9,977.1 394.1,984.6" fill="none" stroke="#262626" stroke-width="0.5"/>
<path d="M489.0,861.8 487.0,871.6 484.6,881.5 481.5,891.3 477.9,901.2 473.7,911.0 469.5,919.4 464.0,929.3 458.7,937.7 452.9,946.1 446.4,954.6 439.3,963.0 431.7,971.4 423.3,979.9 414.4,988.3 404.9,996.7 394.1,1005.7" fill="none" stroke="#262626" stroke-width="0.5"/>
<path d="M510.6,861.8 508.7,874.5 506.4,885.7 503.4,896.9 500.1,906.8 495.4,918.0 490.6,927.9 484.9,937.7 478.4,947.5 470.9,957.4 462.6,967.2 453.3,977.1 444.6,985.5 433.5,995.3 421.5,1005.2 408.5,1015.0 394.1,1025.3" fill="none" stroke="#262626" stroke-width="0.5"/>
<path d="M533.9,861.8 533.1,875.9 531.5,888.5 530.2,895.5 529.0,901.2 527.1,908.2 525.3,913.8 523.2,919.4 520.9,925.1 518.4,930.7 515.5,936.3 512.3,941.9 508.8,947.5 501.8,957.4 497.3,963.0 492.5,968.6 483.2,978.5 472.7,988.3 459.4,999.6 446.5,1009.4 430.6,1020.6 413.4,1031.9 394.1,1043.7" fill="none" stroke="#262626" stroke-width="0.5"/>
<path d="M559.8,861.8 560.5,870.2 560.8,878.7 560.8,887.1 560.5,894.1 559.9,901.2 559.0,908.2 557.6,915.2 556.3,920.8 554.2,927.9 552.1,933.5 549.7,939.1 546.9,944.7 543.8,950.4 540.2,956.0 536.2,961.6 531.7,967.2 526.8,972.8 521.4,978.5 517.0,982.7 510.8,988.3 504.1,993.9 497.0,999.6 489.4,1005.2 481.4,1010.8 464.1,1022.0 443.0,1034.7 420.3,1047.3 394.1,1061.1" fill="none" stroke="#262626" stroke-width="0.5"/>
<path d="M589.3,861.8 592.1,873.0 594.3,882.9 596.2,892.7 597.6,901.2 598.5,909.6 598.9,916.6 599.0,923.6 598.6,930.7 597.7,937.7 596.4,943.3 594.7,949.0 592.5,954.6 589.7,960.2 586.2,965.8 582.0,971.4 578.3,975.7 572.9,981.1 568.1,985.5 561.2,991.1 555.5,995.3 547.3,1001.0 538.5,1006.6 529.1,1012.2 519.1,1017.8 495.2,1030.5 466.7,1044.5 433.6,1060.0 394.1,1077.8" fill="none" stroke="#262626" stroke-width="0.5"/>
<path d="M618.0,1030.0 612.4,1029.5 605.3,1029.3 598.3,1029.6 589.8,1030.5 581.4,1031.8 571.5,1033.8 561.7,1036.0 550.4,1039.0 537.7,1042.6 525.1,1046.5 495.5,1056.3 458.9,1069.4 416.0,1085.3" fill="none" stroke="#262626" stroke-width="0.5"/>
<path d="M618.0,1081.0 612.4,1078.7 605.3,1076.3 598.3,1074.3 591.2,1072.9 584.2,1071.8 575.8,1071.0 567.3,1070.7 558.9,1070.8 550.4,1071.2 540.6,1072.0 530.7,1073.3 520.8,1074.8 509.6,1076.8 498.3,1079.2 485.6,1082.1 472.8,1085.3" fill="none" stroke="#262626" stroke-width="0.5"/>
<rect x="394.10" y="861.80" width="223.90" height="223.50" fill="none" stroke="#3a3a3a" stroke-width="0.7"/>
<line x1="394.10" y1="1085.30" x2="394.10" y2="1082.80" stroke="#3a3a3a" stroke-width="0.6"/>
<line x1="394.10" y1="861.80" x2="394.10" y2="864.30" stroke="#3a3a3a" stroke-width="0.6"/>
<text transform="translate(394.1 1098.6) scale(0.85 1)" font-size="10" text-anchor="middle" class="s">0.1</text>
<line x1="506.05" y1="1085.30" x2="506.05" y2="1082.80" stroke="#3a3a3a" stroke-width="0.6"/>
<line x1="506.05" y1="861.80" x2="506.05" y2="864.30" stroke="#3a3a3a" stroke-width="0.6"/>
<text transform="translate(506.1 1098.6) scale(0.85 1)" font-size="10" text-anchor="middle" class="s">0.3</text>
<line x1="618.00" y1="1085.30" x2="618.00" y2="1082.80" stroke="#3a3a3a" stroke-width="0.6"/>
<line x1="618.00" y1="861.80" x2="618.00" y2="864.30" stroke="#3a3a3a" stroke-width="0.6"/>
<text transform="translate(618.0 1098.6) scale(0.85 1)" font-size="10" text-anchor="middle" class="s">0.5</text>
<line x1="394.10" y1="1085.30" x2="396.60" y2="1085.30" stroke="#3a3a3a" stroke-width="0.6"/>
<line x1="618.00" y1="1085.30" x2="615.50" y2="1085.30" stroke="#3a3a3a" stroke-width="0.6"/>
<text transform="translate(390.1 1088.7) scale(0.85 1)" font-size="10" text-anchor="end" class="s">4</text>
<line x1="394.10" y1="973.55" x2="396.60" y2="973.55" stroke="#3a3a3a" stroke-width="0.6"/>
<line x1="618.00" y1="973.55" x2="615.50" y2="973.55" stroke="#3a3a3a" stroke-width="0.6"/>
<text transform="translate(390.1 976.9) scale(0.85 1)" font-size="10" text-anchor="end" class="s">6</text>
<line x1="394.10" y1="861.80" x2="396.60" y2="861.80" stroke="#3a3a3a" stroke-width="0.6"/>
<line x1="618.00" y1="861.80" x2="615.50" y2="861.80" stroke="#3a3a3a" stroke-width="0.6"/>
<text transform="translate(390.1 865.2) scale(0.85 1)" font-size="10" text-anchor="end" class="s">8</text>
<text x="506.0" y="1109.9" font-size="9.5" text-anchor="middle" class="b">Catalyst (g/L)</text>
<text transform="translate(382.4 974.0) rotate(-90)" font-size="9.5" text-anchor="middle" class="b">pH</text>
<defs><linearGradient id="gc" x1="0" y1="1" x2="0" y2="0"><stop offset="0.000" stop-color="#00008d"/><stop offset="0.025" stop-color="#0000ad"/><stop offset="0.050" stop-color="#0000cd"/><stop offset="0.075" stop-color="#0000ed"/><stop offset="0.100" stop-color="#000eff"/><stop offset="0.125" stop-color="#002eff"/><stop offset="0.150" stop-color="#004eff"/><stop offset="0.175" stop-color="#006eff"/><stop offset="0.200" stop-color="#008eff"/><stop offset="0.225" stop-color="#00aeff"/><stop offset="0.250" stop-color="#00cfff"/><stop offset="0.275" stop-color="#00efff"/><stop offset="0.300" stop-color="#10ffef"/><stop offset="0.325" stop-color="#30ffcf"/><stop offset="0.350" stop-color="#50ffaf"/><stop offset="0.375" stop-color="#70ff8f"/><stop offset="0.400" stop-color="#90ff6f"/><stop offset="0.425" stop-color="#b0ff4f"/><stop offset="0.450" stop-color="#d0ff2f"/><stop offset="0.475" stop-color="#f0ff0f"/><stop offset="0.500" stop-color="#ffee00"/><stop offset="0.525" stop-color="#ffce00"/><stop offset="0.550" stop-color="#ffae00"/><stop offset="0.575" stop-color="#ff8e00"/><stop offset="0.600" stop-color="#ff6d00"/><stop offset="0.625" stop-color="#ff4d00"/><stop offset="0.650" stop-color="#ff2d00"/><stop offset="0.675" stop-color="#ff0d00"/><stop offset="0.700" stop-color="#ec0000"/><stop offset="0.725" stop-color="#cc0000"/><stop offset="0.750" stop-color="#ac0000"/><stop offset="0.775" stop-color="#8c0000"/><stop offset="0.800" stop-color="#800000"/><stop offset="0.825" stop-color="#800000"/><stop offset="0.850" stop-color="#800000"/><stop offset="0.875" stop-color="#800000"/><stop offset="0.900" stop-color="#800000"/><stop offset="0.925" stop-color="#800000"/><stop offset="0.950" stop-color="#800000"/><stop offset="0.975" stop-color="#800000"/><stop offset="1.000" stop-color="#800000"/></linearGradient></defs>
<rect x="632.3" y="860.3" width="13.6" height="225.8" fill="url(#gc)" stroke="#3a3a3a" stroke-width="0.7"/>
<line x1="643.40" y1="1057.88" x2="645.90" y2="1057.88" stroke="#3a3a3a" stroke-width="0.6"/>
<text transform="translate(649.9 1060.5) scale(0.85 1)" font-size="10" text-anchor="start" class="s">75</text>
<line x1="643.40" y1="1018.67" x2="645.90" y2="1018.67" stroke="#3a3a3a" stroke-width="0.6"/>
<text transform="translate(649.9 1021.3) scale(0.85 1)" font-size="10" text-anchor="start" class="s">80</text>
<line x1="643.40" y1="979.47" x2="645.90" y2="979.47" stroke="#3a3a3a" stroke-width="0.6"/>
<text transform="translate(649.9 982.1) scale(0.85 1)" font-size="10" text-anchor="start" class="s">85</text>
<line x1="643.40" y1="940.27" x2="645.90" y2="940.27" stroke="#3a3a3a" stroke-width="0.6"/>
<text transform="translate(649.9 942.9) scale(0.85 1)" font-size="10" text-anchor="start" class="s">90</text>
<line x1="643.40" y1="901.07" x2="645.90" y2="901.07" stroke="#3a3a3a" stroke-width="0.6"/>
<text transform="translate(649.9 903.6) scale(0.85 1)" font-size="10" text-anchor="start" class="s">95</text>
<line x1="643.40" y1="861.87" x2="645.90" y2="861.87" stroke="#3a3a3a" stroke-width="0.6"/>
<text transform="translate(649.9 864.4) scale(0.85 1)" font-size="10" text-anchor="start" class="s">100</text>
<text transform="translate(675.9 972.5) rotate(-90)" font-size="9.5" text-anchor="middle" class="b">AMO removal (%)</text>
<text x="514.2" y="802.2" font-size="16" text-anchor="middle" class="t">(c2)</text>
</svg></body></html>
